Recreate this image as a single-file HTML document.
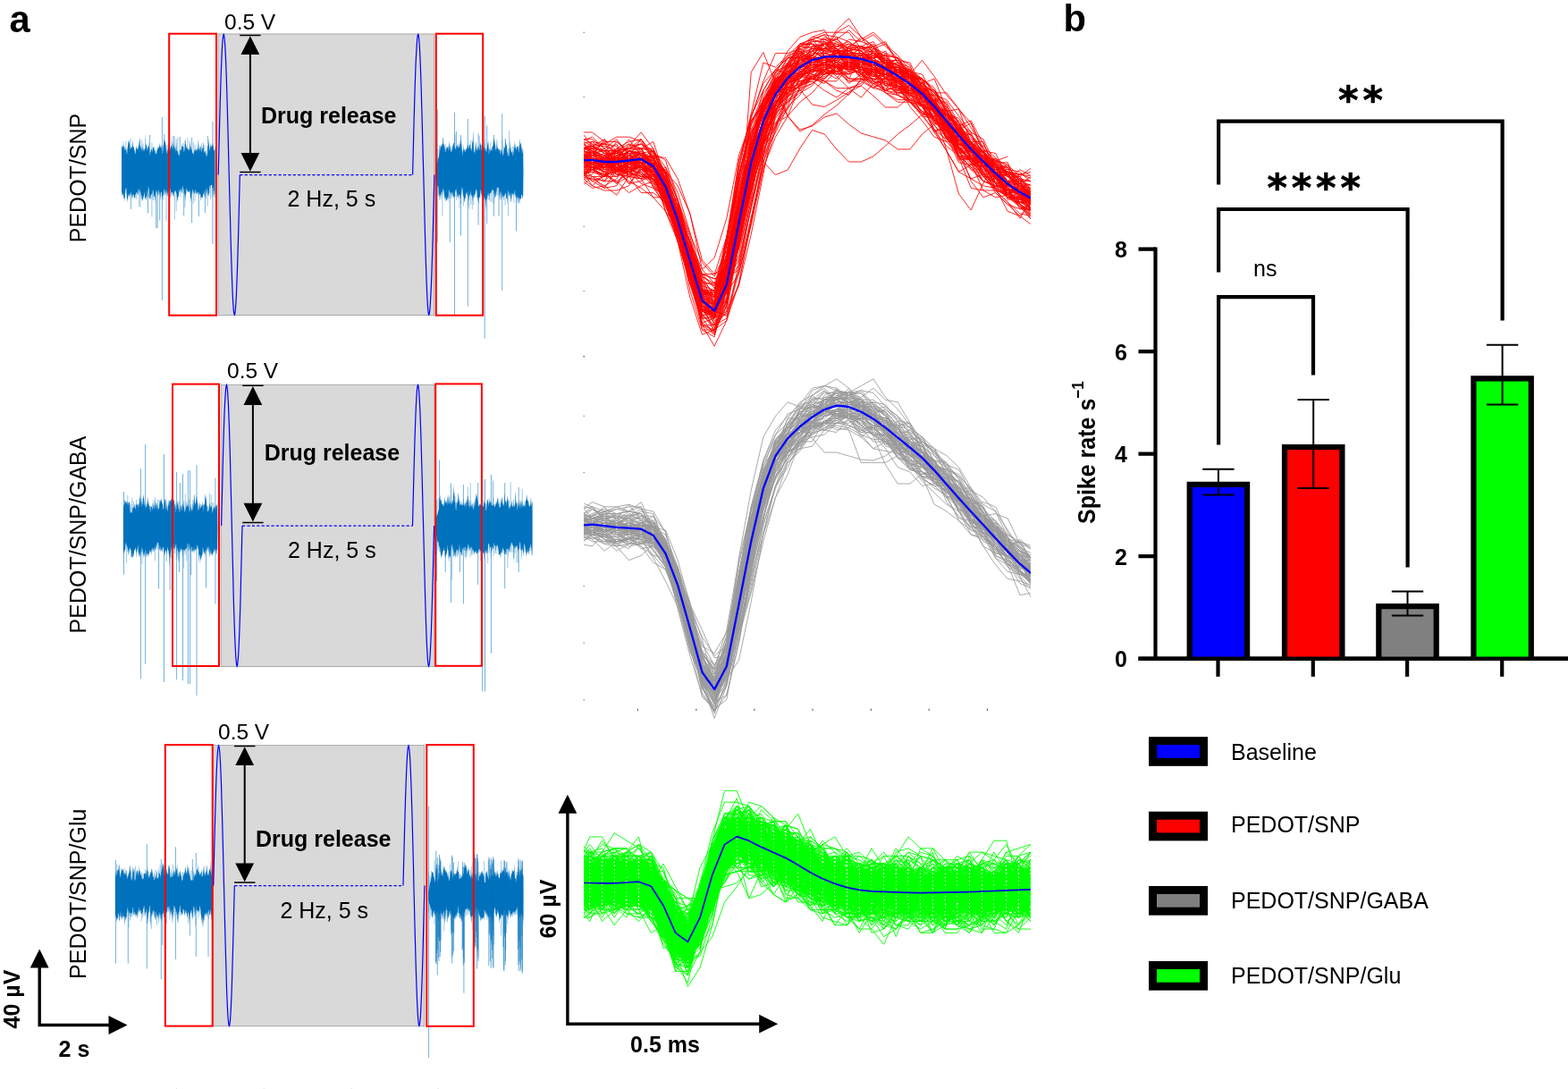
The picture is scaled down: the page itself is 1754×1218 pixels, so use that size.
<!DOCTYPE html>
<html lang="en"><head><meta charset="utf-8"><title>Figure</title>
<style>
html,body{margin:0;padding:0;background:#fff;}
body{width:1754px;height:1218px;overflow:hidden;}
svg{display:block;position:absolute;left:0;top:0;}
text{font-family:"Liberation Sans",sans-serif;font-size:25px;fill:#000;}
.b{font-weight:bold;}
.ast{font-family:"DejaVu Sans","Liberation Sans",sans-serif;font-weight:bold;}
</style></head>
<body>
<svg width="1754" height="1218" viewBox="0 0 1754 1218">
<rect x="0" y="0" width="1754" height="1218" fill="#fff"/>
<!-- row 1 -->
<rect x="244.1" y="38" width="241.8" height="314.5" fill="#d9d9d9" stroke="#999" stroke-width="0.8"/>
<path d="M136.5 163.7V219M137.9 158.6V218M139.6 167.1V215.7M140.8 157.9V215.8M143 167.1V223.1M144.4 165.1V215.3M146.1 154.5V215.1M147.3 166V214.4M148.8 168V215.1M150.5 167.5V220.4M152.4 166.4V223.1M153.7 165.5V215.6M155.6 163.1V231M156.9 167.9V231.9M158.5 156.9V223.3M160.1 160.5V214.3M161.9 166.1V216.7M163.7 165.9V224.4M164.8 165.1V220.2M166.6 159.9V220.9M168.1 166.7V214.9M169.9 159.6V242.5M171.5 168.3V224.1M173.1 167.7V214.9M174.9 168.3V216.3M176.5 164.1V218.6M178.1 165.4V217.8M179.8 168.3V219.4M181.3 164.8V215.3M182.6 163.2V223M184.2 167.7V215M186 161.9V247.5M187.6 162.1V214.2M189.1 163.4V214.3M190.6 165.5V221.3M192 168.2V215.9M193.8 168.3V214.8M195.3 152.4V245.5M197.2 155.5V236M198.9 153.4V217M200.2 168.4V215.8M202 167.3V220.6M203.5 166.3V215.2M205.2 159.9V216.4M206.9 157V231.8M208.1 163.4V216.6M210 153.9V214.9M211.5 167V215.2M213.1 168V225.7M214.4 168V215.6M216.3 159V228.1M218 161.8V224.6M219.5 167.4V216.3M221.1 167.3V214.5M222.9 166.7V218.1M224.2 163.3V218M225.7 160.1V217.7M227.2 167.1V214.8M228.8 162V220.1M230.6 168.4V222.2M232.2 163V230.4M233.8 164.9V215.4M235.5 160.5V222.7M237.4 164.9V220.6M238.7 168V217.5M240.1 166.4V221.2" stroke="#0072bd" stroke-width="0.7" stroke-opacity="0.55" fill="none"/>
<polygon points="136,191.3 136,167.1 136.4,164.1 136.8,163.6 137.2,162.6 137.6,164 138,165.6 138.4,163.7 138.8,163.5 139.2,163.3 139.6,168.3 140,167.3 140.4,165.2 140.8,168.9 141.2,164.9 141.6,170.4 142,173 142.4,169.3 142.8,164.3 143.2,161.7 143.6,158 144,156.4 144.4,161 144.8,156.7 145.2,161.1 145.6,166.8 146,167.2 146.4,163.2 146.8,165.8 147.2,163.9 147.6,165.6 148,165.1 148.4,155.8 148.8,161.9 149.2,164.4 149.6,164.2 150,165.7 150.4,169.5 150.8,168.9 151.2,172.3 151.6,171.7 152,164.6 152.4,166.7 152.8,162 153.2,168 153.6,166.2 154,166.7 154.4,167.2 154.8,161.1 155.2,165.7 155.6,159.8 156,156.4 156.4,153.9 156.8,161.7 157.2,164.1 157.6,166.1 158,163.7 158.4,170 158.8,166.5 159.2,167.6 159.6,161.5 160,168.9 160.4,164.4 160.8,170 161.2,165.7 161.6,169.3 162,167.6 162.4,165.8 162.8,149.8 163.2,161.4 163.6,162.1 164,162.7 164.4,167.1 164.8,168.5 165.2,165.3 165.6,162.6 166,165.4 166.4,162.2 166.8,164.3 167.2,172.1 167.6,174.7 168,171.9 168.4,169 168.8,171 169.2,166 169.6,168.3 170,166.1 170.4,171.2 170.8,165.5 171.2,163.9 171.6,164.9 172,166.7 172.4,163.1 172.8,169.4 173.2,167.4 173.6,171 174,172 174.4,172.8 174.8,170.2 175.2,172.7 175.6,168.8 176,166.6 176.4,165.6 176.8,167.2 177.2,164.4 177.6,166.8 178,162.5 178.4,164.6 178.8,159 179.2,165.5 179.6,164.5 180,162.3 180.4,168.2 180.8,159.9 181.2,170.4 181.6,172.8 182,172.1 182.4,168.3 182.8,162.9 183.2,159.3 183.6,155.7 184,156.7 184.4,159.3 184.8,157.6 185.2,161.1 185.6,165.3 186,167.3 186.4,169.3 186.8,172.4 187.2,170.8 187.6,167.5 188,167.1 188.4,165.1 188.8,159.6 189.2,160.7 189.6,162.2 190,165.2 190.4,168.5 190.8,165.1 191.2,163 191.6,164.2 192,152.2 192.4,166.9 192.8,160.1 193.2,167.7 193.6,163.7 194,158.5 194.4,161.8 194.8,164.4 195.2,164.6 195.6,166.7 196,167.3 196.4,162.5 196.8,172.3 197.2,158.8 197.6,167.7 198,169.6 198.4,170.1 198.8,167.3 199.2,173.2 199.6,172.4 200,172.8 200.4,175 200.8,172.9 201.2,173.3 201.6,168.1 202,167.1 202.4,168.4 202.8,167.6 203.2,160.6 203.6,163.1 204,163.7 204.4,164.3 204.8,164.2 205.2,163.9 205.6,169.9 206,169.4 206.4,168 206.8,164.3 207.2,154.6 207.6,161.3 208,161.3 208.4,165.1 208.8,165.5 209.2,166.1 209.6,165.3 210,168.6 210.4,164.7 210.8,167.2 211.2,169.6 211.6,167.7 212,166.5 212.4,156 212.8,160.7 213.2,167.2 213.6,162.8 214,166.9 214.4,168.7 214.8,168.2 215.2,171.3 215.6,170.7 216,172.2 216.4,173.5 216.8,171.1 217.2,167.1 217.6,168.4 218,170.1 218.4,167.5 218.8,166.6 219.2,165.9 219.6,169.8 220,167.9 220.4,168.9 220.8,165.9 221.2,166.6 221.6,160.5 222,154.7 222.4,166.2 222.8,168.3 223.2,163.1 223.6,169.9 224,163.4 224.4,164.4 224.8,167.8 225.2,170.6 225.6,169.3 226,163.9 226.4,166.3 226.8,166.9 227.2,158.1 227.6,163.3 228,167.9 228.4,171.3 228.8,169.1 229.2,172.3 229.6,168.2 230,170.3 230.4,173 230.8,175.1 231.2,175 231.6,170.9 232,175.2 232.4,168.1 232.8,163.6 233.2,161.7 233.6,154.5 234,161.2 234.4,167.1 234.8,168.8 235.2,161.9 235.6,166.5 236,161.9 236.4,163.4 236.8,164.4 237.2,160.7 237.6,164.2 238,159.4 238.4,163.4 238.8,164 239.2,168.9 239.6,167.5 240,168.8 240.4,162.5 240.5,191.3 240.4,214.4 240,220.6 239.6,216.5 239.2,213.4 238.8,210.1 238.4,210.2 238,208.8 237.6,216.6 237.2,207.1 236.8,207.1 236.4,207.1 236,207.1 235.6,207.6 235.2,211.3 234.8,207.1 234.4,209.8 234,220 233.6,215.5 233.2,219.5 232.8,219 232.4,212.1 232,213.9 231.6,219.8 231.2,210.6 230.8,210.2 230.4,217.9 230,212.5 229.6,222.5 229.2,212.2 228.8,213.2 228.4,219.2 228,214.3 227.6,218.5 227.2,216.4 226.8,221.2 226.4,221.3 226,220.8 225.6,219.7 225.2,220.9 224.8,225.2 224.4,220.6 224,215.8 223.6,217.4 223.2,217.2 222.8,214.8 222.4,214.8 222,215 221.6,218.4 221.2,214.7 220.8,214.9 220.4,217 220,215.3 219.6,219.4 219.2,211.2 218.8,215 218.4,211.2 218,218 217.6,214.7 217.2,217 216.8,212.6 216.4,215.4 216,217.5 215.6,212.7 215.2,211.4 214.8,214.6 214.4,216.4 214,220.2 213.6,223.5 213.2,221.8 212.8,217.6 212.4,213.6 212,214.1 211.6,214.7 211.2,211 210.8,215.7 210.4,214 210,214 209.6,213.5 209.2,212.4 208.8,211.3 208.4,210.6 208,219.2 207.6,216.1 207.2,225.6 206.8,219.5 206.4,217.5 206,212.8 205.6,211.3 205.2,212.5 204.8,207.9 204.4,209 204,217.4 203.6,214.5 203.2,209.8 202.8,211.2 202.4,214.7 202,210.7 201.6,213.4 201.2,215.1 200.8,213.4 200.4,210.7 200,217.5 199.6,220 199.2,220.6 198.8,225.7 198.4,223.6 198,220.1 197.6,217.3 197.2,215.9 196.8,214.1 196.4,213.8 196,212.4 195.6,213.5 195.2,216.1 194.8,214.2 194.4,221.4 194,218 193.6,219.2 193.2,216.7 192.8,215 192.4,215.2 192,214.1 191.6,215.7 191.2,221 190.8,213.8 190.4,209.8 190,211.8 189.6,208.4 189.2,207.2 188.8,212.7 188.4,216.8 188,214.2 187.6,217.5 187.2,220.3 186.8,217.9 186.4,213.3 186,215 185.6,218.3 185.2,211.9 184.8,212.5 184.4,220.4 184,212.5 183.6,210.9 183.2,218.5 182.8,218.2 182.4,216.4 182,221 181.6,217.5 181.2,225.3 180.8,214.4 180.4,214.9 180,214 179.6,217.2 179.2,225.1 178.8,214.6 178.4,215.2 178,218.2 177.6,213.9 177.2,211.5 176.8,219.6 176.4,217.5 176,211.7 175.6,215.9 175.2,212.4 174.8,213.5 174.4,214.5 174,215.1 173.6,228.3 173.2,220.4 172.8,219 172.4,220.9 172,216.7 171.6,212.9 171.2,211.7 170.8,224.4 170.4,211.4 170,217.7 169.6,216 169.2,217.9 168.8,218.3 168.4,222.1 168,223.4 167.6,222.4 167.2,220.7 166.8,211 166.4,210.7 166,209.1 165.6,208.6 165.2,215.1 164.8,213.1 164.4,218 164,223 163.6,221.6 163.2,218.5 162.8,221.9 162.4,221.2 162,222.5 161.6,214.4 161.2,216.5 160.8,223.3 160.4,218 160,221.9 159.6,225.4 159.2,223.1 158.8,218.6 158.4,217.8 158,223.1 157.6,218.9 157.2,213.4 156.8,217 156.4,210 156,217.1 155.6,212.9 155.2,212 154.8,211.1 154.4,218.1 154,217.7 153.6,217.6 153.2,215.1 152.8,215.1 152.4,214.7 152,216.7 151.6,217.2 151.2,220.4 150.8,220.7 150.4,222.2 150,221.4 149.6,217 149.2,218.5 148.8,216.5 148.4,222.4 148,218.2 147.6,223.7 147.2,217 146.8,217.3 146.4,213 146,215.3 145.6,218.8 145.2,217.6 144.8,220.8 144.4,219 144,215.9 143.6,220.1 143.2,216.4 142.8,227.2 142.4,221.7 142,222.5 141.6,218.1 141.2,209.6 140.8,211.2 140.4,210.9 140,213.7 139.6,225.8 139.2,221.8 138.8,222.1 138.4,221.6 138,217.9 137.6,216.8 137.2,217.5 136.8,214.2 136.4,216.4 136,218.1" fill="#0072bd"/>
<path d="M181.4 130.8V336M237.9 136V273M167.6 151V192M183.8 150V192M193.9 152V192M201.3 153V192M214.6 154V249M232.3 152V192M174.7 192V255.4M176.2 192V255M165.5 192V238.4M146.3 192V234M178.7 192V246.5M205.7 192V241.4M222.4 192V242M229.4 192V238" stroke="#0072bd" stroke-width="0.9" stroke-opacity="0.62" fill="none"/>
<path d="M488.2 162V250.4M489.8 166.6V218.9M491.6 162.4V223.7M493.2 162.3V223M494.9 163V241.3M496.4 161.4V217.2M498.1 161.2V220.2M499.3 167.2V218.8M501.2 164.7V221.4M502.9 160.8V221.8M504 167.5V222.2M505.7 163.9V221.9M507.6 159.9V220.2M509 150.9V220M510.6 164.5V223.8M512.1 165.7V217.4M514 157.5V232.6M515.6 165.5V228M517 166.6V218.3M518.4 167.1V230.3M520.3 167.6V219.8M521.8 167.7V217.4M523.7 165.2V230.2M524.9 165.9V233.8M526.7 157.2V228.9M528.3 162.5V234.2M529.7 160.1V228.9M531.2 166V221M533.3 165.3V220.8M534.4 167V219.5M536.3 151.9V219M538 167.7V221.6M539.7 166V218.4M540.9 164.7V222.3M543 166.1V222.7M544.1 165.7V218.1M546.1 165.6V223.7M547.5 165.4V224.1M548.9 159.4V225.9M550.6 164.4V226.3M552.5 159V228.1M554.1 162.6V218.1M555.8 167.3V218.4M557 167.8V218.6M559 166.3V223.4M560.5 167.3V223.6M562 156.5V217.5M563.6 163.8V223.9M565.1 155.1V229.4M566.6 165.5V218.2M568.5 166.2V241.3M569.6 146.1V218.9M571.3 167.5V226.1M573.1 163.9V219.9M574.9 163.4V227.1M576.2 160.8V217.5M578.2 167.5V222.2M579.3 166.2V221.1M580.8 165.9V218.6M582.9 160V221.5M584.4 165.3V217.8" stroke="#0072bd" stroke-width="0.7" stroke-opacity="0.55" fill="none"/>
<polygon points="488,192.3 488,187.7 488.4,184.1 488.8,183.8 489.2,181.1 489.6,180 490,176.5 490.4,177.3 490.8,176 491.2,173.2 491.6,169.6 492,162.7 492.4,168.9 492.8,163.2 493.2,162.4 493.6,163.7 494,164.9 494.4,161.5 494.8,160.6 495.2,162.1 495.6,154.3 496,153.5 496.4,164.5 496.8,160.4 497.2,167.7 497.6,161.6 498,170.1 498.4,170.8 498.8,166.9 499.2,163 499.6,168.1 500,164.7 500.4,165.4 500.8,164.3 501.2,162.6 501.6,167.2 502,169.3 502.4,164.1 502.8,156.4 503.2,167.9 503.6,164.1 504,161.9 504.4,169.4 504.8,170.4 505.2,168.1 505.6,169.7 506,166.5 506.4,163.6 506.8,161.4 507.2,159.4 507.6,160.5 508,162.6 508.4,166.1 508.8,164.1 509.2,168.1 509.6,165.8 510,165.6 510.4,167.5 510.8,162.4 511.2,163 511.6,164.1 512,161 512.4,161.8 512.8,166.4 513.2,164.1 513.6,164.7 514,164.5 514.4,161 514.8,161.6 515.2,157.3 515.6,154.9 516,163.6 516.4,158.5 516.8,170.6 517.2,168.1 517.6,174.8 518,169.5 518.4,168 518.8,160.5 519.2,169.6 519.6,167.3 520,166 520.4,170.8 520.8,170 521.2,167.7 521.6,164.8 522,168.4 522.4,161.3 522.8,165.5 523.2,166.2 523.6,159.1 524,167.1 524.4,165.2 524.8,162.1 525.2,162.1 525.6,160.7 526,164.6 526.4,165.9 526.8,166.5 527.2,169.1 527.6,167.5 528,163.1 528.4,157 528.8,159.2 529.2,144.4 529.6,158.2 530,168.2 530.4,169.3 530.8,170.2 531.2,172 531.6,168.6 532,160.2 532.4,158.8 532.8,164.7 533.2,167.2 533.6,168.8 534,168.6 534.4,165.8 534.8,162.3 535.2,164.3 535.6,166.5 536,167.6 536.4,167.6 536.8,161.4 537.2,158.8 537.6,161.9 538,162 538.4,161.6 538.8,168.9 539.2,164.8 539.6,161.2 540,166.2 540.4,158.5 540.8,161.1 541.2,164.7 541.6,167.4 542,153.8 542.4,168.1 542.8,167.6 543.2,166.8 543.6,169.1 544,170 544.4,170.5 544.8,167.7 545.2,162.5 545.6,157.8 546,163.4 546.4,155.7 546.8,171.7 547.2,172.5 547.6,166.2 548,168.5 548.4,169.4 548.8,165.9 549.2,167.2 549.6,167.3 550,169.5 550.4,167.7 550.8,164.1 551.2,163.4 551.6,162.1 552,159.1 552.4,154.3 552.8,156.7 553.2,161.2 553.6,154.9 554,164.7 554.4,166.6 554.8,168.5 555.2,166.7 555.6,160.5 556,154.1 556.4,165.9 556.8,165.1 557.2,166.9 557.6,165.6 558,169.8 558.4,166.3 558.8,168.3 559.2,166.8 559.6,172.4 560,171.6 560.4,170.9 560.8,167.5 561.2,169.5 561.6,168.1 562,171.8 562.4,173.6 562.8,174.8 563.2,166.5 563.6,173.5 564,165.2 564.4,165.8 564.8,165.1 565.2,163 565.6,153.2 566,158.8 566.4,162.9 566.8,161.3 567.2,168 567.6,171.3 568,171.2 568.4,174.8 568.8,174.8 569.2,174.8 569.6,172.2 570,166.1 570.4,164.7 570.8,156.1 571.2,165.4 571.6,169.8 572,171.3 572.4,170 572.8,169.9 573.2,167.8 573.6,173.4 574,174.8 574.4,170.1 574.8,168.8 575.2,156.3 575.6,166.5 576,163.9 576.4,164.9 576.8,164.6 577.2,168.4 577.6,166.4 578,162.3 578.4,164.4 578.8,164.3 579.2,163.4 579.6,164.4 580,170.6 580.4,170.3 580.8,162.3 581.2,162.8 581.6,154.8 582,160.1 582.4,161.6 582.8,161.5 583.2,167 583.6,164.4 584,171.6 584.4,171.5 584.8,168 585.2,167.4 585.5,192.3 585.2,217.4 584.8,223.6 584.4,219.7 584,217.5 583.6,217.4 583.2,219.2 582.8,222.4 582.4,223.2 582,221.3 581.6,221.9 581.2,227.6 580.8,227.4 580.4,222.3 580,221 579.6,218.3 579.2,228.9 578.8,225.8 578.4,219.4 578,222.5 577.6,216.9 577.2,220.2 576.8,220.4 576.4,218.8 576,211.8 575.6,214.2 575.2,217.7 574.8,216.3 574.4,219.1 574,217.5 573.6,216.4 573.2,217.3 572.8,215 572.4,218.5 572,226.5 571.6,222 571.2,221.9 570.8,215.9 570.4,221.1 570,213.4 569.6,220.2 569.2,217.1 568.8,211.8 568.4,216.9 568,212.6 567.6,229.7 567.2,220.9 566.8,222 566.4,223.1 566,217 565.6,216 565.2,215.8 564.8,217.9 564.4,219.7 564,218 563.6,218.1 563.2,221.6 562.8,220.6 562.4,219.8 562,220.4 561.6,218.3 561.2,215.8 560.8,212.9 560.4,218.8 560,223 559.6,214.6 559.2,216.6 558.8,222 558.4,214.8 558,209.8 557.6,209.8 557.2,209.8 556.8,209.8 556.4,209.8 556,209.8 555.6,212.9 555.2,215 554.8,217 554.4,221.2 554,220.1 553.6,222.7 553.2,212.9 552.8,218.7 552.4,216.4 552,212.9 551.6,212.8 551.2,212.4 550.8,213.1 550.4,209.8 550,217.9 549.6,212.9 549.2,215.6 548.8,215.7 548.4,215.9 548,215.9 547.6,217.7 547.2,220.3 546.8,218.5 546.4,215 546,220.4 545.6,216.4 545.2,219.3 544.8,223.6 544.4,221.7 544,223.1 543.6,235.5 543.2,225.1 542.8,219.6 542.4,225.1 542,219.9 541.6,220.2 541.2,224.8 540.8,219.6 540.4,216.4 540,216.6 539.6,219.4 539.2,214.6 538.8,217.6 538.4,218.6 538,212.5 537.6,212.6 537.2,215.8 536.8,220.4 536.4,220.9 536,221 535.6,224 535.2,228.3 534.8,224.7 534.4,222 534,220.3 533.6,212.5 533.2,213.7 532.8,212.8 532.4,210.9 532,217.1 531.6,217.4 531.2,213.9 530.8,220.5 530.4,218.8 530,216.9 529.6,219.4 529.2,222 528.8,225.1 528.4,220.4 528,218.8 527.6,218.1 527.2,220.4 526.8,213 526.4,215.1 526,218.6 525.6,217 525.2,219.2 524.8,219.9 524.4,225.5 524,219.2 523.6,216.1 523.2,212.2 522.8,217.3 522.4,220.1 522,214.2 521.6,216.3 521.2,216 520.8,221.3 520.4,222.2 520,221.2 519.6,226 519.2,225.8 518.8,219 518.4,220.5 518,216.6 517.6,213.1 517.2,209.8 516.8,209.8 516.4,212.2 516,217.1 515.6,217.2 515.2,221.4 514.8,222 514.4,218.8 514,218.3 513.6,216.4 513.2,218.3 512.8,222.7 512.4,219.4 512,218.6 511.6,221.1 511.2,215.7 510.8,214.1 510.4,209.9 510,214.7 509.6,213.2 509.2,211.2 508.8,219.3 508.4,220 508,221.7 507.6,220.1 507.2,219.6 506.8,219.4 506.4,215.7 506,214.8 505.6,216.2 505.2,218.9 504.8,217.5 504.4,214.5 504,216.2 503.6,213.9 503.2,217.1 502.8,211.7 502.4,216 502,210.7 501.6,226.9 501.2,219 500.8,224.5 500.4,220.1 500,222.8 499.6,225 499.2,224.1 498.8,219.3 498.4,226.3 498,218.7 497.6,223.1 497.2,222.5 496.8,213.7 496.4,212.6 496,214.7 495.6,210.4 495.2,211.4 494.8,220.2 494.4,214.8 494,214.4 493.6,215.4 493.2,217.8 492.8,217.6 492.4,220.4 492,220.2 491.6,219.8 491.2,215.5 490.8,218.7 490.4,208.8 490,208.6 489.6,208.4 489.2,207.9 488.8,205.8 488.4,203.7 488,201.8" fill="#0072bd"/>
<path d="M489.3 122V271M508.5 125.7V352.2M523.3 133V342.6M542.2 129.4V378.8M561.7 127.1V324.9M544.7 140.4V250.2M510.4 147V192M515.5 151V263.5M535.1 149.3V251.7M552.4 151V242M503.3 192V271M577.5 192V258.4M558 192V242" stroke="#0072bd" stroke-width="0.9" stroke-opacity="0.62" fill="none"/>
<rect x="189.2" y="37.7" width="52.8" height="315" fill="none" stroke="#ff0000" stroke-width="2"/>
<rect x="487.8" y="37.7" width="52.4" height="315" fill="none" stroke="#ff0000" stroke-width="2"/>
<polyline points="244.2,195.6 244.7,175.1 245.2,154.9 245.7,135.4 246.2,117 246.7,99.8 247.2,84.4 247.7,70.8 248.2,59.4 248.7,50.3 249.2,43.7 249.7,39.6 250.2,38.3 250.7,39.6 251.2,43.7 251.7,50.3 252.2,59.4 252.7,70.8 253.2,84.4 253.7,99.8 254.2,117 254.7,135.4 255.2,154.9 255.7,175.1 256.2,195.6 256.8,216 257.3,236.1 257.8,255.5 258.3,273.9 258.8,290.9 259.3,306.3 259.8,319.8 260.3,331.2 260.8,340.3 261.3,346.9 261.8,350.9 262.3,352.2 262.8,350.9 263.3,346.9 263.8,340.3 264.3,331.2 264.8,319.8 265.3,306.3 265.8,290.9 266.3,273.9 266.8,255.5 267.3,236.1 267.8,216 268.3,195.6" fill="none" stroke="#0000ff" stroke-width="1.2"/>
<polyline points="461.6,195.6 462.1,175.1 462.6,154.9 463.1,135.4 463.6,117 464.1,99.8 464.6,84.4 465.1,70.8 465.7,59.4 466.2,50.3 466.7,43.7 467.2,39.6 467.7,38.3 468.2,39.6 468.7,43.7 469.2,50.3 469.7,59.4 470.2,70.8 470.7,84.4 471.2,99.8 471.7,117 472.2,135.4 472.7,154.9 473.2,175.1 473.8,195.6 474.3,216 474.8,236.1 475.3,255.5 475.8,273.9 476.3,290.9 476.8,306.3 477.3,319.8 477.8,331.2 478.3,340.3 478.8,346.9 479.3,350.9 479.8,352.2 480.3,350.9 480.8,346.9 481.3,340.3 481.8,331.2 482.4,319.8 482.9,306.3 483.4,290.9 483.9,273.9 484.4,255.5 484.9,236.1 485.4,216 485.9,195.6" fill="none" stroke="#0000ff" stroke-width="1.2"/>
<line x1="268.3" y1="195.6" x2="461.6" y2="195.6" stroke="#0000ff" stroke-width="1.1" stroke-dasharray="3.2 2.2"/>
<path d="M268.2 39.5H291.6M268.2 192.5H291.6" stroke="#000" stroke-width="1.5" fill="none"/>
<path d="M279.9 49.5V182.5" stroke="#000" stroke-width="2" fill="none"/>
<path d="M279.9 40.3L269.5 61.1L290.3 61.1ZM279.9 191.7L269.5 170.9L290.3 170.9Z" fill="#000"/>
<text x="251" y="32.6" style="font-size:24.5px">0.5 V</text>
<text class="b" x="292" y="137.5">Drug release</text>
<text x="321.5" y="231">2 Hz, 5 s</text>
<text transform="translate(96 199) rotate(-90)" text-anchor="middle">PEDOT/SNP</text>
<!-- row 2 -->
<rect x="247.1" y="430.3" width="238.8" height="315.2" fill="#d9d9d9" stroke="#999" stroke-width="0.8"/>
<path d="M138.2 566V616.5M140 564.1V615.1M141.6 566.1V629.8M142.8 553.8V617.4M144.7 561.3V615.9M146.5 564.3V623.1M147.8 556.9V623.2M149.3 560.7V616.8M150.8 563.7V613.6M152.5 559V622.6M154.2 563.3V618.3M155.8 557.8V621.9M157.3 563.4V621.4M159 556.7V630.9M160.5 564.7V614.9M162.3 565.6V621.3M163.9 563.7V623.3M165.3 556.7V618.6M167.1 566V619.2M168.6 566V615.4M170.6 562.7V613.6M171.7 559.5V616.6M173.3 556.1V627.2M175.1 565.4V614.3M176.9 558.2V615M178.6 559.5V614.4M179.9 561.1V616.1M181.6 565.7V613.7M183.3 565.8V614.4M184.5 558.7V614.6M186.5 564.8V628.1M187.9 566V613.6M189.5 562.1V615.1M191.1 565.4V624.3M192.6 559.1V619.7M194.3 564.9V618.9M195.7 563.7V619.4M197.4 563.1V626.1M199 565V614.2M200.4 560.7V627.4M202.2 565.8V615M204 566V615.1M205.7 560.1V635.5M207.2 552.3V619.7M208.7 560.8V627.6M210.1 564.6V617.1M211.7 558.6V615.2M213.7 563.9V614M215.2 564.1V617.5M216.7 559.2V617.8M218.2 564.7V615.8M219.7 564.4V614.7M221.7 563V614.6M223 565.4V619.8M224.7 563.9V616.8M226.4 565.6V620.3M227.7 563.4V614.5M229.4 564V618.8M230.9 555.4V615.4M232.4 566.4V615.3M234.3 551.6V623.3M236.2 553.2V619M237.2 561.4V621.5M238.8 562.3V615.9M240.8 564.7V616.1M242.5 564.6V619" stroke="#0072bd" stroke-width="0.7" stroke-opacity="0.55" fill="none"/>
<polygon points="138,590 138,571.6 138.4,565 138.8,564 139.2,564.2 139.6,559.1 140,559.9 140.4,559.9 140.8,562.8 141.2,561.7 141.6,561.5 142,563.8 142.4,559.5 142.8,564.9 143.2,560.6 143.6,566.5 144,562.6 144.4,561.3 144.8,562.7 145.2,563.2 145.6,572.2 146,573.5 146.4,573.5 146.8,573.5 147.2,572.9 147.6,573.5 148,571 148.4,566.9 148.8,568 149.2,566.9 149.6,569.3 150,565 150.4,568.5 150.8,563.3 151.2,568.6 151.6,569.7 152,564.1 152.4,563.5 152.8,565.7 153.2,565.1 153.6,564.5 154,563.9 154.4,569.3 154.8,564.2 155.2,562.8 155.6,564.5 156,567.8 156.4,552.5 156.8,558 157.2,557.2 157.6,562.2 158,560.4 158.4,561 158.8,567.6 159.2,563.7 159.6,563.7 160,556.6 160.4,552.6 160.8,557.6 161.2,557.8 161.6,566.4 162,561.2 162.4,566 162.8,569.1 163.2,565.5 163.6,568.2 164,567 164.4,564.6 164.8,562.4 165.2,560.6 165.6,559.3 166,562.9 166.4,563 166.8,566.3 167.2,564.9 167.6,568.8 168,571.5 168.4,573.3 168.8,564.6 169.2,567.1 169.6,566.4 170,567.3 170.4,569.3 170.8,571.2 171.2,564.2 171.6,564.7 172,569.8 172.4,568.5 172.8,563.1 173.2,568.7 173.6,559.2 174,562.8 174.4,563.3 174.8,569.3 175.2,560 175.6,564.4 176,568.9 176.4,563.6 176.8,571.8 177.2,568.8 177.6,568.1 178,569.8 178.4,559.4 178.8,565.2 179.2,560.6 179.6,561.1 180,557.5 180.4,561.5 180.8,556.6 181.2,563.6 181.6,564 182,560.7 182.4,569.2 182.8,569.4 183.2,568.8 183.6,564.5 184,557.6 184.4,559.6 184.8,561.6 185.2,556.5 185.6,567.3 186,570.5 186.4,569 186.8,556.6 187.2,571.2 187.6,571.6 188,566.3 188.4,558 188.8,565.6 189.2,564.7 189.6,559.4 190,559.8 190.4,559.9 190.8,560.4 191.2,557.7 191.6,557.4 192,562.4 192.4,565.4 192.8,565.3 193.2,568 193.6,567 194,558.7 194.4,559.1 194.8,560.1 195.2,564.3 195.6,567.1 196,569.3 196.4,560.6 196.8,573.5 197.2,569.8 197.6,569.4 198,565.4 198.4,563.5 198.8,559.7 199.2,562.6 199.6,569.7 200,567.4 200.4,570.3 200.8,573.5 201.2,572.9 201.6,568.3 202,570.4 202.4,565 202.8,565.9 203.2,564.4 203.6,571.6 204,569.4 204.4,562.9 204.8,563.4 205.2,564.7 205.6,567.2 206,567.2 206.4,570.7 206.8,573.5 207.2,571.3 207.6,569.7 208,561.4 208.4,568.5 208.8,566.1 209.2,566.3 209.6,566.7 210,563 210.4,567.7 210.8,564.2 211.2,564.9 211.6,570.4 212,573.5 212.4,572.3 212.8,570.8 213.2,568.1 213.6,566.2 214,569.8 214.4,570.3 214.8,572 215.2,570.8 215.6,566 216,554.8 216.4,570 216.8,563.5 217.2,554 217.6,552.4 218,566.2 218.4,561.5 218.8,563.4 219.2,560.4 219.6,557.1 220,554 220.4,559 220.8,561.2 221.2,567.9 221.6,569.5 222,572.6 222.4,561.4 222.8,570.8 223.2,568.9 223.6,559.9 224,568.3 224.4,568.4 224.8,567.6 225.2,565.6 225.6,564.2 226,567.4 226.4,560.8 226.8,564.6 227.2,572.8 227.6,565.9 228,566.1 228.4,562.9 228.8,565.5 229.2,557.8 229.6,551.6 230,557.1 230.4,558 230.8,561 231.2,565.8 231.6,565.7 232,573.5 232.4,571.5 232.8,571.4 233.2,571.5 233.6,569.8 234,564.4 234.4,561.5 234.8,566.9 235.2,564.5 235.6,568 236,567.4 236.4,565.2 236.8,566.4 237.2,570.6 237.6,573.5 238,573.5 238.4,567.6 238.8,570.6 239.2,568.1 239.6,565.7 240,568.3 240.4,570.8 240.8,567.2 241.2,567.1 241.6,566.4 242,565.6 242.4,564 242.8,569.2 243.2,558.9 243.5,590 243.2,616.1 242.8,614.2 242.4,614.7 242,620.5 241.6,618.5 241.2,614.2 240.8,614.7 240.4,613.9 240,617.2 239.6,613.1 239.2,617.3 238.8,616.9 238.4,619.9 238,618.6 237.6,621.7 237.2,619.1 236.8,620.7 236.4,614.8 236,621.4 235.6,619.1 235.2,616.2 234.8,612.6 234.4,622.8 234,616.9 233.6,618.3 233.2,611.8 232.8,611.2 232.4,613 232,613.6 231.6,613.2 231.2,617.3 230.8,616.1 230.4,614.3 230,618.3 229.6,614.1 229.2,622.6 228.8,620.2 228.4,617.8 228,617.8 227.6,617.4 227.2,612.6 226.8,611.7 226.4,620.2 226,620.8 225.6,622.6 225.2,623.1 224.8,626.3 224.4,624.1 224,630.4 223.6,620 223.2,620.7 222.8,621.8 222.4,630.8 222,611.5 221.6,614.4 221.2,611.1 220.8,610.1 220.4,609.3 220,612.4 219.6,613.4 219.2,615 218.8,615.6 218.4,613.8 218,614.7 217.6,614 217.2,619.8 216.8,611 216.4,615.8 216,616.1 215.6,615.2 215.2,616.6 214.8,617.3 214.4,612 214,610.9 213.6,611.2 213.2,618.3 212.8,609.3 212.4,613.4 212,615.9 211.6,612.7 211.2,606.5 210.8,613.4 210.4,608 210,607.9 209.6,608.9 209.2,613.6 208.8,613.1 208.4,614.8 208,612.6 207.6,615.5 207.2,613.4 206.8,615.4 206.4,615.5 206,617.6 205.6,613.9 205.2,615.3 204.8,615.1 204.4,623.7 204,616.9 203.6,614.9 203.2,613.6 202.8,613.6 202.4,615.5 202,619.2 201.6,617.7 201.2,612.2 200.8,617.2 200.4,617 200,616.9 199.6,615.7 199.2,629.9 198.8,620.9 198.4,612.4 198,613.9 197.6,617.2 197.2,607.7 196.8,608.3 196.4,611.6 196,611.8 195.6,613.9 195.2,613.8 194.8,614.3 194.4,611.8 194,608.1 193.6,606.5 193.2,608.8 192.8,612 192.4,613.7 192,611.2 191.6,613.4 191.2,616.7 190.8,618.3 190.4,622.7 190,621.7 189.6,635.8 189.2,620.5 188.8,619.6 188.4,614.8 188,617 187.6,611.3 187.2,613.7 186.8,618.9 186.4,620 186,615 185.6,615.3 185.2,617.4 184.8,616.2 184.4,621.6 184,620.4 183.6,618.6 183.2,612.7 182.8,611.7 182.4,611.7 182,615.9 181.6,618.9 181.2,612.6 180.8,615.4 180.4,614.8 180,613.4 179.6,610.6 179.2,617.9 178.8,614.6 178.4,613.1 178,610.1 177.6,608.8 177.2,606.7 176.8,606.6 176.4,607.5 176,606.5 175.6,608.8 175.2,612.6 174.8,614.6 174.4,608.7 174,611.5 173.6,615.3 173.2,614.2 172.8,617.9 172.4,611.7 172,613 171.6,616.1 171.2,612.9 170.8,618.1 170.4,612.2 170,614 169.6,614.7 169.2,621.4 168.8,616.1 168.4,617.7 168,617.8 167.6,616.2 167.2,614.4 166.8,622.4 166.4,616.9 166,623.9 165.6,618.2 165.2,621.1 164.8,619 164.4,619.2 164,622.1 163.6,620.7 163.2,615.7 162.8,614.8 162.4,615.6 162,619.3 161.6,617.7 161.2,623.4 160.8,618.4 160.4,624.5 160,618.2 159.6,615.8 159.2,612.4 158.8,620.1 158.4,614 158,610.9 157.6,622.7 157.2,617.2 156.8,617 156.4,621.1 156,624.2 155.6,618.9 155.2,620.3 154.8,616.8 154.4,609.3 154,611.5 153.6,614.7 153.2,615.2 152.8,619.4 152.4,617.3 152,617.1 151.6,612.2 151.2,613.2 150.8,614.9 150.4,615.4 150,616.9 149.6,623.2 149.2,618.7 148.8,623.8 148.4,623.8 148,617.8 147.6,624 147.2,621.9 146.8,614.7 146.4,615.5 146,615.1 145.6,612.3 145.2,613.5 144.8,621 144.4,615 144,614.2 143.6,621.9 143.2,614.1 142.8,611.1 142.4,611.4 142,615.8 141.6,607.6 141.2,609.9 140.8,606.6 140.4,609.4 140,613.9 139.6,618 139.2,613.7 138.8,618.8 138.4,619.7 138,616.6" fill="#0072bd"/>
<path d="M162.6 497.1V742.6M183.5 507.9V763M157.4 524.1V759.4M220 520.1V778M197.6 527.8V760M204.5 530V761M210.4 526V765M212.5 526V765M240.9 534.5V675.3M201.3 540V590M138.5 550V642.8M177.6 590V658.3M190.2 590V659.8M230.5 590V657.6M200.5 590V640M213.8 590V643" stroke="#0072bd" stroke-width="0.9" stroke-opacity="0.62" fill="none"/>
<path d="M488.3 559.5V619.9M490 557V614.7M491.6 557.4V616.7M492.9 559.6V617M494.3 564.2V618.6M496.2 562.4V614.1M497.5 563.4V621.6M499.3 559.4V614.9M500.9 556.7V615.6M502.3 554.2V627.6M504 560.6V616.7M505.8 559V648.3M507.3 560.9V615.5M509.2 555.1V614.5M510.7 561.7V621.8M512 562.1V623M513.5 562.1V616.4M515.1 559.5V613.5M517.1 564.3V621.2M518.4 558.3V614.1M520.1 562V623.2M521.7 559.3V623M523.3 544.7V615.4M525.1 558.7V616.1M526.2 540V623.1M528.2 564.3V621M529.8 562.8V618.6M531.4 558.3V613.9M532.8 561.8V616.5M534.6 560.4V614.9M536.4 564.1V617.9M537.6 564.3V627.3M539.1 561.5V614.4M541.1 559.8V614.7M542.4 564.4V617.1M543.9 562.9V613.8M545.7 562.6V629.8M547.4 562.1V618.3M549.2 564.1V622.7M550.8 562.3V616M552.1 556.5V622M553.8 564V618.7M555 564.1V619.6M557.1 563.4V615.5M558.4 561.6V615.6M560.1 558.4V623.4M561.8 557.4V617.9M563.3 563V618.5M565.1 559.6V619.8M566.3 561.1V620.2M567.9 559.1V635.3M569.7 560V617.6M571.2 539.3V617.2M572.9 561.3V618M574.5 558.9V624.7M576.1 564V618.3M577.8 561V629.1M579.5 564.3V629.6M580.8 563.2V613.7M582.6 559.8V615.7M584.2 546.7V615.5M585.7 564.5V621.6M587.1 560.6V617.3M589.1 553.6V619.3M590.8 562.1V614.1M592.3 564.5V616.5M593.8 557V616.4M595.3 562V620.9" stroke="#0072bd" stroke-width="0.7" stroke-opacity="0.55" fill="none"/>
<polygon points="487.8,589 487.8,580.8 488.2,577.6 488.6,577.3 489,574.6 489.4,576.1 489.8,574.4 490.2,570.8 490.6,572.1 491,568.6 491.4,560.8 491.8,558.1 492.2,553 492.6,558.9 493,561.4 493.4,558.8 493.8,558.5 494.2,564.7 494.6,563.5 495,562.3 495.4,565 495.8,565.5 496.2,563.1 496.6,566 497,567.1 497.4,554.8 497.8,559.3 498.2,562.9 498.6,560.5 499,560.7 499.4,561.9 499.8,563.3 500.2,565.3 500.6,552.5 501,564 501.4,562.6 501.8,555.3 502.2,564.3 502.6,561.1 503,551.9 503.4,564.6 503.8,561.5 504.2,561 504.6,565.8 505,563.6 505.4,563 505.8,562.8 506.2,558.8 506.6,563.1 507,555.4 507.4,541.7 507.8,553.5 508.2,549.6 508.6,560.2 509,561.4 509.4,563.1 509.8,570 510.2,571.5 510.6,566.4 511,558.1 511.4,561.8 511.8,563.9 512.2,560.2 512.6,550.4 513,554.2 513.4,558.2 513.8,560.7 514.2,561.4 514.6,565.6 515,563.5 515.4,565.1 515.8,563.8 516.2,565.5 516.6,564 517,560.4 517.4,565.1 517.8,565.6 518.2,564.8 518.6,561.7 519,565.3 519.4,566.2 519.8,563.2 520.2,564.1 520.6,561.8 521,568.9 521.4,564.2 521.8,561 522.2,562 522.6,559.9 523,555.8 523.4,554.1 523.8,558.8 524.2,561.8 524.6,566.8 525,565.4 525.4,569.9 525.8,559.6 526.2,566.2 526.6,566.5 527,557.8 527.4,568.2 527.8,564.1 528.2,568 528.6,561.6 529,566.5 529.4,568.4 529.8,570.9 530.2,566.9 530.6,559.5 531,566.2 531.4,564.4 531.8,560.9 532.2,550.2 532.6,560.6 533,551 533.4,557 533.8,553.3 534.2,562.1 534.6,559.4 535,565.2 535.4,566.9 535.8,565.6 536.2,565.6 536.6,562.8 537,565.8 537.4,562.6 537.8,565.7 538.2,562.7 538.6,564 539,564.8 539.4,568.1 539.8,563.7 540.2,565.5 540.6,567.3 541,566.1 541.4,559.7 541.8,562.3 542.2,563.2 542.6,565.6 543,561.2 543.4,570.8 543.8,570.9 544.2,569.4 544.6,563.3 545,558.1 545.4,560.5 545.8,558.2 546.2,563.9 546.6,566.4 547,555.7 547.4,559.6 547.8,563 548.2,561.4 548.6,560.1 549,564.5 549.4,565.3 549.8,559.1 550.2,566.1 550.6,565.4 551,565.3 551.4,565.5 551.8,565 552.2,563.4 552.6,564.8 553,566.6 553.4,566.3 553.8,567.6 554.2,565.7 554.6,563.6 555,560.2 555.4,564 555.8,561.7 556.2,555.9 556.6,561.2 557,555.1 557.4,561.7 557.8,565.4 558.2,562.5 558.6,568.4 559,567.9 559.4,566.9 559.8,566.8 560.2,563.4 560.6,559.2 561,562.7 561.4,560.2 561.8,554.6 562.2,562.1 562.6,563.6 563,565.2 563.4,565.2 563.8,566.3 564.2,558.1 564.6,550.2 565,559.4 565.4,560.7 565.8,562.9 566.2,559 566.6,566.5 567,561.7 567.4,558.1 567.8,555.1 568.2,557.9 568.6,561.5 569,567.5 569.4,566.8 569.8,571.5 570.2,565.5 570.6,567 571,568.5 571.4,565 571.8,563 572.2,566.5 572.6,559.1 573,565.6 573.4,566.6 573.8,567.1 574.2,561.7 574.6,567.1 575,567.6 575.4,564.6 575.8,567.1 576.2,563.4 576.6,549.3 577,555.9 577.4,563.3 577.8,562.8 578.2,562.4 578.6,568.5 579,571.2 579.4,561.1 579.8,566.8 580.2,566.2 580.6,563.9 581,558.1 581.4,563 581.8,568.9 582.2,562.2 582.6,562.7 583,569.6 583.4,563.9 583.8,559.9 584.2,560.8 584.6,566.4 585,565.9 585.4,564.4 585.8,567.3 586.2,566.4 586.6,564.8 587,565.2 587.4,568 587.8,562.2 588.2,558.6 588.6,558.4 589,560.8 589.4,554.6 589.8,557.1 590.2,561 590.6,560 591,559 591.4,563.6 591.8,566.6 592.2,565.4 592.6,567.1 593,566.1 593.4,563.9 593.8,561.6 594.2,559.4 594.6,567 595,563.6 595.4,562.1 595.5,589 595.4,614.7 595,622.7 594.6,614.7 594.2,611.9 593.8,608 593.4,610.2 593,612.6 592.6,612.8 592.2,612.5 591.8,616.4 591.4,620.9 591,617.7 590.6,617.5 590.2,614 589.8,621.6 589.4,617.9 589,616.9 588.6,614.2 588.2,624.8 587.8,615.5 587.4,611.2 587,610.4 586.6,608.2 586.2,609.1 585.8,618.6 585.4,618.4 585,615.9 584.6,614.6 584.2,611.8 583.8,628.1 583.4,613.8 583,615.6 582.6,614.6 582.2,608.6 581.8,606.5 581.4,606.6 581,615.5 580.6,612.6 580.2,614.1 579.8,617.1 579.4,615.4 579,614.3 578.6,611.6 578.2,610 577.8,611.9 577.4,610.6 577,610.1 576.6,611.9 576.2,613.6 575.8,612 575.4,612.4 575,630.9 574.6,615.1 574.2,610 573.8,609.4 573.4,610.8 573,607.6 572.6,607.5 572.2,606.5 571.8,608.3 571.4,609.7 571,613 570.6,609.8 570.2,618 569.8,615.1 569.4,615.3 569,612.3 568.6,624.1 568.2,613 567.8,613.9 567.4,614.4 567,613.7 566.6,614.1 566.2,620.3 565.8,620.2 565.4,615.8 565,618.5 564.6,620.6 564.2,618.6 563.8,614 563.4,616.5 563,613.4 562.6,615 562.2,611.3 561.8,619.4 561.4,617.8 561,614.1 560.6,619 560.2,617.4 559.8,621.7 559.4,620.6 559,620.3 558.6,619.8 558.2,620 557.8,620.9 557.4,613.2 557,611.5 556.6,610.2 556.2,609.5 555.8,612.2 555.4,608.3 555,615.4 554.6,615.8 554.2,609.3 553.8,611.6 553.4,609.9 553,609.3 552.6,606.7 552.2,612.8 551.8,613.2 551.4,614.2 551,612.1 550.6,610.2 550.2,614 549.8,615 549.4,619.8 549,611.8 548.6,611.9 548.2,611.4 547.8,615.2 547.4,610.1 547,607.5 546.6,608.3 546.2,608.8 545.8,613.9 545.4,618.2 545,619.7 544.6,618.4 544.2,614.8 543.8,619.9 543.4,617.7 543,614.1 542.6,615.8 542.2,617 541.8,618.8 541.4,627.5 541,616.9 540.6,619.6 540.2,617.7 539.8,614.1 539.4,612.5 539,613.1 538.6,612.3 538.2,616.3 537.8,616 537.4,616.6 537,616 536.6,614.2 536.2,613.7 535.8,617.1 535.4,613 535,618.8 534.6,619.5 534.2,615.4 533.8,620.1 533.4,618.1 533,619.4 532.6,615.1 532.2,620.3 531.8,615.7 531.4,617.9 531,617 530.6,620.7 530.2,618 529.8,615.8 529.4,615.4 529,615.5 528.6,612.7 528.2,616.2 527.8,621.5 527.4,610.6 527,613.8 526.6,611.9 526.2,611.7 525.8,616.1 525.4,613.7 525,613.2 524.6,612.4 524.2,609.6 523.8,609.3 523.4,608.5 523,622.3 522.6,613.2 522.2,612.2 521.8,616.3 521.4,615.7 521,626.9 520.6,611.8 520.2,611.6 519.8,612.5 519.4,616.2 519,615.3 518.6,611.2 518.2,612.4 517.8,613.4 517.4,617.1 517,611.6 516.6,620.5 516.2,621.7 515.8,619.7 515.4,617.5 515,617.8 514.6,614.2 514.2,610.2 513.8,608.8 513.4,613.5 513,618.7 512.6,620.9 512.2,613.9 511.8,616.1 511.4,615.1 511,613.9 510.6,615.2 510.2,618 509.8,617.3 509.4,624.9 509,620.5 508.6,622.1 508.2,616.9 507.8,623.3 507.4,621.9 507,609.8 506.6,617.2 506.2,614.1 505.8,611.8 505.4,608 505,610.6 504.6,610.7 504.2,619.5 503.8,621.3 503.4,624.6 503,621.8 502.6,621.7 502.2,622.4 501.8,625.1 501.4,615 501,615.7 500.6,608.8 500.2,613.8 499.8,619.8 499.4,620.8 499,618.2 498.6,623.4 498.2,623.6 497.8,616.3 497.4,615.5 497,616 496.6,615.8 496.2,611.5 495.8,617.4 495.4,615.8 495,619.7 494.6,623.3 494.2,619.5 493.8,622.3 493.4,625.3 493,613.5 492.6,621.9 492.2,612.7 491.8,610 491.4,612.6 491,611.8 490.6,607.1 490.2,605.6 489.8,607.3 489.4,604.4 489,604.9 488.6,601.3 488.2,598.6 487.8,595.3" fill="#0072bd"/>
<path d="M491.5 514.5V590M549.4 530.8V730.7M542.5 536V773.5M539.6 590V773M504.5 540.4V673.8M518.4 542V675.3M534.7 540V653.9M551.4 537.4V590M564.7 540V658.3M580.2 545V640M498.2 590V640M514.4 590V640M488.6 590V650" stroke="#0072bd" stroke-width="0.9" stroke-opacity="0.62" fill="none"/>
<rect x="193" y="429.6" width="52" height="315.4" fill="none" stroke="#ff0000" stroke-width="2"/>
<rect x="487.2" y="429.4" width="51.7" height="315.4" fill="none" stroke="#ff0000" stroke-width="2"/>
<polyline points="247.6,588.1 248.1,567.5 248.6,547.3 249.1,527.8 249.5,509.4 250,492.2 250.5,476.7 251,463.1 251.5,451.7 252,442.6 252.5,436 253,431.9 253.4,430.6 253.9,431.9 254.4,436 254.9,442.6 255.4,451.7 255.9,463.1 256.4,476.7 256.9,492.2 257.4,509.4 257.8,527.8 258.3,547.3 258.8,567.5 259.3,588.1 259.8,608.6 260.3,628.8 260.8,648.2 261.2,666.7 261.7,683.7 262.2,699.2 262.7,712.7 263.2,724.2 263.7,733.2 264.2,739.8 264.7,743.9 265.1,745.2 265.6,743.9 266.1,739.8 266.6,733.2 267.1,724.2 267.6,712.7 268.1,699.2 268.6,683.7 269.1,666.7 269.5,648.2 270,628.8 270.5,608.6 271,588.1" fill="none" stroke="#0000ff" stroke-width="1.2"/>
<polyline points="461.5,588.1 462,567.5 462.5,547.3 463,527.8 463.5,509.4 464,492.2 464.5,476.7 465,463.1 465.5,451.7 466,442.6 466.5,436 467,431.9 467.5,430.6 468,431.9 468.5,436 469,442.6 469.5,451.7 470,463.1 470.5,476.7 471,492.2 471.5,509.4 472,527.8 472.5,547.3 473,567.5 473.6,588.1 474.1,608.6 474.6,628.8 475.1,648.2 475.6,666.7 476.1,683.7 476.6,699.2 477.1,712.7 477.6,724.2 478.1,733.2 478.6,739.8 479.1,743.9 479.6,745.2 480.1,743.9 480.6,739.8 481.1,733.2 481.6,724.2 482.1,712.7 482.6,699.2 483.1,683.7 483.6,666.7 484.1,648.2 484.6,628.8 485.1,608.6 485.6,588.1" fill="none" stroke="#0000ff" stroke-width="1.2"/>
<line x1="271" y1="588.1" x2="461.5" y2="588.1" stroke="#0000ff" stroke-width="1.1" stroke-dasharray="3.2 2.2"/>
<path d="M271.2 431.3H294.6M271.2 584.4H294.6" stroke="#000" stroke-width="1.5" fill="none"/>
<path d="M282.9 441.3V574.4" stroke="#000" stroke-width="2" fill="none"/>
<path d="M282.9 432.1L272.5 452.9L293.3 452.9ZM282.9 583.6L272.5 562.8L293.3 562.8Z" fill="#000"/>
<text x="254" y="423.2" style="font-size:24.5px">0.5 V</text>
<text class="b" x="295.7" y="514.5">Drug release</text>
<text x="322" y="623.6">2 Hz, 5 s</text>
<text transform="translate(96 598) rotate(-90)" text-anchor="middle">PEDOT/SNP/GABA</text>
<!-- row 3 -->
<rect x="238.7" y="833.7" width="236.1" height="314" fill="#d9d9d9" stroke="#999" stroke-width="0.8"/>
<path d="M129.2 974.9V1025.9M130.8 966.5V1024.1M132.3 974.2V1022.1M133.8 977.5V1029.5M135.6 977.3V1027.9M137.4 972.3V1026M138.7 971.1V1020.9M140.4 972.7V1025M141.8 973.8V1025.7M144 977.1V1037.7M145.4 974.8V1029.5M147 973.8V1025.6M148.2 975.2V1024.7M150 971.4V1023.3M151.5 968.5V1025.3M153.4 976.5V1027M154.8 973.5V1021.4M156.7 975.3V1020.6M158.2 975.3V1030.4M159.6 976.6V1026.5M161.1 976.4V1024.3M162.6 972.3V1020.5M164.4 973V1032.8M165.9 974.7V1019.9M167.9 976.9V1031.1M169.6 972.9V1038.9M170.9 976.1V1023.8M172.3 976.8V1024.1M173.9 972.8V1019.9M175.5 974.4V1034.8M177.5 975.9V1031.7M179.1 967.5V1023.1M180.6 976.8V1019.9M181.9 974.1V1022.3M183.7 972.8V1025.7M185.5 977V1030.6M186.7 977V1033.4M188.7 969.1V1019.9M189.9 976V1028.6M191.4 972.4V1020.7M193.3 967V1022.3M195 973.4V1025.2M196.3 975.3V1020M198.2 975.7V1027.2M200 975.7V1022.6M201.1 975.5V1023M202.7 976.7V1024.8M204.5 975.7V1021.5M206.3 976.5V1023.4M207.5 974.5V1021.8M209.4 967.5V1021.3M210.8 977.5V1032.8M212.3 976.5V1027.7M213.9 973.6V1021M215.8 969.4V1025.8M217 974.4V1020.3M218.7 977.3V1035.2M220.3 971.9V1021.4M222 976.1V1026.2M223.9 976.7V1022.8M225.3 974.4V1024.7M227 974.6V1021.8M228.6 974.3V1020M229.8 975.9V1022M231.8 973.7V1025.3M233.4 976V1028M235.1 971V1020.5M236.7 974.2V1022" stroke="#0072bd" stroke-width="0.7" stroke-opacity="0.55" fill="none"/>
<polygon points="129,998.7 129,980.2 129.4,981 129.8,978.6 130.2,978.7 130.6,972.2 131,979 131.4,973 131.8,973.3 132.2,972.9 132.6,972.4 133,967 133.4,967.6 133.8,974.3 134.2,980.8 134.6,980.9 135,975.7 135.4,977.1 135.8,970.8 136.2,971.4 136.6,972.9 137,973.4 137.4,974 137.8,972.9 138.2,974.9 138.6,978.3 139,976.2 139.4,975.9 139.8,978.8 140.2,975.4 140.6,976.9 141,979.4 141.4,979.6 141.8,972 142.2,983.2 142.6,982.1 143,979.1 143.4,980.4 143.8,977.5 144.2,976.5 144.6,974.8 145,967.2 145.4,969 145.8,973.6 146.2,974.4 146.6,982.7 147,984.7 147.4,984.7 147.8,980.5 148.2,983.5 148.6,969.3 149,971.5 149.4,976.2 149.8,973.3 150.2,972.5 150.6,984.6 151,984.7 151.4,984.3 151.8,982.5 152.2,979.1 152.6,974.7 153,974.3 153.4,972.8 153.8,975.7 154.2,980.2 154.6,976.9 155,973.5 155.4,977.4 155.8,968.2 156.2,974 156.6,973.6 157,979 157.4,978.7 157.8,977.1 158.2,978.8 158.6,982.4 159,982 159.4,984.6 159.8,983 160.2,983.1 160.6,982.8 161,977.5 161.4,976.7 161.8,977.3 162.2,977 162.6,976.6 163,980.8 163.4,977.4 163.8,975.3 164.2,973.3 164.6,974.5 165,977 165.4,967.9 165.8,982.9 166.2,980.9 166.6,977.8 167,980.9 167.4,981.3 167.8,977.9 168.2,977.6 168.6,974.1 169,976.1 169.4,975 169.8,970.8 170.2,973.6 170.6,977.5 171,980.6 171.4,981.2 171.8,979.7 172.2,983.7 172.6,984.7 173,983.1 173.4,977.9 173.8,981.8 174.2,982.7 174.6,980.4 175,977.2 175.4,973.6 175.8,983.1 176.2,982.4 176.6,981.8 177,981.6 177.4,981 177.8,969.6 178.2,977.6 178.6,976.3 179,978.2 179.4,979.1 179.8,982.6 180.2,976.3 180.6,974.5 181,972.8 181.4,970.7 181.8,964.8 182.2,966.2 182.6,969.2 183,965.7 183.4,968.7 183.8,978.2 184.2,982.4 184.6,984.7 185,984.7 185.4,976.4 185.8,977.4 186.2,976 186.6,971.6 187,974.6 187.4,979.2 187.8,976 188.2,978.5 188.6,966.1 189,973.2 189.4,966.9 189.8,969.7 190.2,976.4 190.6,981.8 191,980.8 191.4,981.8 191.8,980.3 192.2,975.1 192.6,980.3 193,980 193.4,981.7 193.8,975.7 194.2,973.3 194.6,975.1 195,979.1 195.4,974.8 195.8,980.1 196.2,968.2 196.6,977 197,974.8 197.4,971.6 197.8,971.5 198.2,965.6 198.6,978.6 199,980.8 199.4,980.9 199.8,975.6 200.2,980.9 200.6,978.4 201,974.8 201.4,973.4 201.8,978.1 202.2,978.2 202.6,980.2 203,979.9 203.4,984.7 203.8,984.7 204.2,984.2 204.6,984 205,974.7 205.4,978.8 205.8,980.1 206.2,976.1 206.6,976.5 207,971.5 207.4,969.8 207.8,973.4 208.2,975.3 208.6,976 209,978.4 209.4,975.7 209.8,970.4 210.2,975.4 210.6,969.5 211,970.1 211.4,973.4 211.8,979.2 212.2,978.4 212.6,980.8 213,982.5 213.4,984.7 213.8,984.7 214.2,984.1 214.6,984.7 215,984.7 215.4,984.1 215.8,984.7 216.2,984.7 216.6,974.2 217,979.9 217.4,981.4 217.8,977.9 218.2,978.1 218.6,977.7 219,979.8 219.4,979 219.8,974.8 220.2,973.3 220.6,972.4 221,972.8 221.4,965.5 221.8,977.1 222.2,973.4 222.6,975 223,977 223.4,978.9 223.8,977.9 224.2,978.8 224.6,975.8 225,976.2 225.4,971.5 225.8,981.6 226.2,980.2 226.6,979.9 227,978.1 227.4,974.7 227.8,970.6 228.2,967.4 228.6,979 229,976.4 229.4,979 229.8,980.1 230.2,972.9 230.6,977.9 231,970.1 231.4,966.9 231.8,976.1 232.2,977.6 232.6,979.4 233,977.2 233.4,980.1 233.8,973.9 234.2,972.4 234.6,972.6 235,973.9 235.4,976.4 235.8,961.5 236.2,974.3 236.6,980.2 237,977.9 237,998.7 237,1023.6 236.6,1031 236.2,1020.2 235.8,1024.8 235.4,1017.2 235,1018 234.6,1023.3 234.2,1023.8 233.8,1017.5 233.4,1017.6 233,1019.4 232.6,1021.9 232.2,1019.1 231.8,1022.9 231.4,1022.2 231,1024.8 230.6,1021.4 230.2,1020.3 229.8,1024.1 229.4,1024.2 229,1020.6 228.6,1025.9 228.2,1030.7 227.8,1027.6 227.4,1038.2 227,1023.9 226.6,1029.5 226.2,1037.2 225.8,1024.1 225.4,1033.3 225,1024.7 224.6,1019.6 224.2,1016.5 223.8,1014.1 223.4,1012.7 223,1019.4 222.6,1018.4 222.2,1019.6 221.8,1019.8 221.4,1017 221,1020.3 220.6,1018.2 220.2,1018.6 219.8,1012.7 219.4,1019 219,1016.5 218.6,1021.1 218.2,1023.4 217.8,1026.2 217.4,1015.4 217,1014.5 216.6,1012.7 216.2,1017.1 215.8,1024.4 215.4,1029.8 215,1019.7 214.6,1028 214.2,1016.7 213.8,1019.3 213.4,1018.4 213,1021.8 212.6,1022.4 212.2,1025.3 211.8,1020.8 211.4,1032 211,1020.8 210.6,1021.2 210.2,1019.5 209.8,1025.5 209.4,1026.5 209,1022.4 208.6,1018.6 208.2,1022.8 207.8,1018.5 207.4,1017.8 207,1019.6 206.6,1024.7 206.2,1021.3 205.8,1019.2 205.4,1016.2 205,1018.5 204.6,1016.1 204.2,1022.8 203.8,1021.9 203.4,1023.4 203,1020.8 202.6,1019.4 202.2,1021 201.8,1016.6 201.4,1012.7 201,1012.7 200.6,1020.7 200.2,1019.1 199.8,1020.4 199.4,1029 199,1033.5 198.6,1029.3 198.2,1021.1 197.8,1023.7 197.4,1020.6 197,1018.6 196.6,1016.3 196.2,1015.6 195.8,1016.6 195.4,1013.8 195,1013.3 194.6,1012.7 194.2,1023.1 193.8,1015.5 193.4,1025 193,1034.3 192.6,1027 192.2,1023.5 191.8,1021.3 191.4,1019 191,1016 190.6,1022 190.2,1024.8 189.8,1013 189.4,1016 189,1019.5 188.6,1015.7 188.2,1013.3 187.8,1015.1 187.4,1014.5 187,1022 186.6,1019.1 186.2,1019.7 185.8,1021.2 185.4,1023.2 185,1020.6 184.6,1017.9 184.2,1021.6 183.8,1017.5 183.4,1028.5 183,1021.7 182.6,1020.5 182.2,1021.8 181.8,1022.5 181.4,1022.8 181,1029.9 180.6,1029.6 180.2,1025.4 179.8,1020.8 179.4,1027.3 179,1028.2 178.6,1023.6 178.2,1019.9 177.8,1022.3 177.4,1029.6 177,1022.2 176.6,1027.9 176.2,1022.6 175.8,1024.5 175.4,1026.6 175,1022.2 174.6,1018.9 174.2,1030.1 173.8,1028.2 173.4,1026.4 173,1025.8 172.6,1019.2 172.2,1018.9 171.8,1021.4 171.4,1017.1 171,1019 170.6,1020.3 170.2,1023.6 169.8,1022.1 169.4,1024.9 169,1026.1 168.6,1038.6 168.2,1020.3 167.8,1017.4 167.4,1012.7 167,1013.6 166.6,1021.8 166.2,1019.6 165.8,1025.5 165.4,1029 165,1034.7 164.6,1020.8 164.2,1016.5 163.8,1017.8 163.4,1020.9 163,1021.7 162.6,1019.2 162.2,1025.9 161.8,1021.3 161.4,1013.6 161,1012.7 160.6,1016 160.2,1015.9 159.8,1020.2 159.4,1020.5 159,1022.7 158.6,1022.8 158.2,1021.2 157.8,1021.7 157.4,1017.5 157,1017.9 156.6,1019.4 156.2,1017.6 155.8,1014.6 155.4,1019.8 155,1019.4 154.6,1017.6 154.2,1024.8 153.8,1025.7 153.4,1019.7 153,1024 152.6,1024.3 152.2,1022 151.8,1022.4 151.4,1022.7 151,1019.8 150.6,1020.1 150.2,1023.2 149.8,1021.6 149.4,1023.8 149,1014.3 148.6,1015.3 148.2,1020 147.8,1020.8 147.4,1021.7 147,1021.1 146.6,1021 146.2,1027.8 145.8,1021.7 145.4,1021.1 145,1021 144.6,1018.8 144.2,1025.7 143.8,1016.7 143.4,1021.6 143,1014.5 142.6,1016.2 142.2,1019.9 141.8,1021.7 141.4,1029.1 141,1024.4 140.6,1030.9 140.2,1026.2 139.8,1024.4 139.4,1036.9 139,1026.4 138.6,1024.6 138.2,1025.8 137.8,1020.1 137.4,1026.4 137,1029.2 136.6,1024.7 136.2,1024.7 135.8,1026.8 135.4,1025.8 135,1017.9 134.6,1023.5 134.2,1025.5 133.8,1024.3 133.4,1030.8 133,1028.6 132.6,1023.2 132.2,1019.8 131.8,1027 131.4,1028.8 131,1026.4 130.6,1032 130.2,1026.8 129.8,1025.5 129.4,1022.4 129,1023.4" fill="#0072bd"/>
<path d="M164.3 944.1V1083.4M196.4 947.3V1073.1M219.3 954V1070.1M180.3 961V1095.3M129.4 962V1077.5M215.3 961V999.5M143.3 999.5V1077.5M233 999.5V1070M212.4 999.5V1046.5M181.8 999.5V1057" stroke="#0072bd" stroke-width="0.9" stroke-opacity="0.62" fill="none"/>
<path d="M479.4 974.8V1021.3M481 979.4V1028.7M482.4 974V1023.9M483.9 980.1V1024.9M486 961.6V1034M487.3 967.2V1023.9M488.7 979.6V1028.3M490.7 978.4V1030.6M492 976.3V1022.7M493.7 977.5V1027.9M495.2 980V1024.3M496.9 979.7V1041.5M498.8 975.7V1023.4M500 977.2V1030.6M501.9 975.1V1021.7M503.5 966.7V1023.7M504.9 974.5V1030.8M506.3 976.5V1021.9M507.9 977.1V1044.4M509.5 978.7V1024.1M511.1 979.8V1024.8M512.7 963V1026.2M514.3 977.7V1021.6M516.3 978.9V1022.7M517.8 970.1V1026.2M519 978.2V1024.1M520.8 977.1V1025.8M522.7 979.1V1023.4M524 973.8V1022.4M526 973V1023.4M527.4 969.2V1032.3M529 965.2V1040.2M530.5 970.3V1027.8M532.1 979.4V1026.8M533.8 970.7V1022.3M535.1 975.7V1022.1M536.9 975.4V1024.2M538.6 976.9V1025.7M540.1 977.8V1024M541.7 962.8V1025M543.1 979.2V1023M544.8 975.8V1028.8M546.2 963.4V1024.1M548 974.1V1032.6M549.6 971.5V1021.8M551.3 979.2V1040.8M552.8 972.3V1021.5M554.5 974.9V1024.7M556.1 973.5V1021.4M557.4 979.2V1021.7M559.6 978.4V1022.5M560.6 962.5V1046.4M562.4 980.2V1024M564.2 977.2V1022.8M565.5 979.2V1024.4M567.3 963.6V1034.1M568.7 977.6V1028.1M570.8 979.8V1026M572 979.1V1024.7M573.5 977.9V1025.2M575.5 979V1023M577.1 975.5V1023.6M578.5 975V1022.1M580.1 973.5V1022.3M581.7 979.2V1021.9M583.2 964.4V1024.3M585.1 980.1V1034.3" stroke="#0072bd" stroke-width="0.7" stroke-opacity="0.55" fill="none"/>
<polygon points="479,1000.7 479,997.1 479.4,996.1 479.8,995.5 480.2,993 480.6,989.5 481,987.2 481.4,986.7 481.8,985.1 482.2,982.8 482.6,981 483,976.8 483.4,974.3 483.8,975.5 484.2,975.8 484.6,976.3 485,980.8 485.4,982.8 485.8,978.5 486.2,986.9 486.6,985.7 487,983.4 487.4,978.7 487.8,970.8 488.2,968.4 488.6,974 489,981.8 489.4,986.5 489.8,987.2 490.2,984.3 490.6,983.7 491,983.1 491.4,980.3 491.8,979.7 492.2,971.7 492.6,979.4 493,975.5 493.4,971.4 493.8,980.5 494.2,978.1 494.6,974.3 495,981 495.4,978.3 495.8,968.7 496.2,968.5 496.6,973.5 497,970.4 497.4,969.3 497.8,973.8 498.2,974.5 498.6,972 499,977.1 499.4,973.7 499.8,976 500.2,976.2 500.6,980.5 501,979.7 501.4,982 501.8,977.7 502.2,985 502.6,985.1 503,982.7 503.4,981.4 503.8,974.7 504.2,973.9 504.6,976 505,977.8 505.4,975.7 505.8,983.2 506.2,986.4 506.6,980.4 507,981.4 507.4,978.3 507.8,974.9 508.2,977.1 508.6,977.2 509,980.1 509.4,977.4 509.8,977.2 510.2,976.8 510.6,976.8 511,972.9 511.4,969 511.8,974.6 512.2,974.6 512.6,975.3 513,974.4 513.4,978.1 513.8,983.8 514.2,981.8 514.6,982.8 515,983.2 515.4,981.4 515.8,977.5 516.2,981.8 516.6,980.1 517,982.9 517.4,975.2 517.8,981.8 518.2,976.8 518.6,978.6 519,972.3 519.4,969.8 519.8,970.6 520.2,969 520.6,967.3 521,966.6 521.4,968.2 521.8,970.7 522.2,974.2 522.6,978.6 523,970.6 523.4,975.7 523.8,972.8 524.2,970.4 524.6,974.7 525,978.7 525.4,979.5 525.8,978.5 526.2,981.3 526.6,982.1 527,974.2 527.4,981.7 527.8,979 528.2,975.3 528.6,984 529,976.4 529.4,978.8 529.8,981.8 530.2,982 530.6,977.5 531,978 531.4,976.7 531.8,977 532.2,982.6 532.6,983.7 533,984.2 533.4,982.5 533.8,985.8 534.2,983.9 534.6,986.1 535,985.6 535.4,984.1 535.8,977.6 536.2,980.6 536.6,980.1 537,977.8 537.4,976.5 537.8,980 538.2,977.7 538.6,974.1 539,975.7 539.4,973.2 539.8,976.7 540.2,978.2 540.6,975.7 541,981.4 541.4,977.6 541.8,985.6 542.2,987.2 542.6,987.2 543,986.8 543.4,975.5 543.8,976.7 544.2,973.3 544.6,975.5 545,976.9 545.4,979.7 545.8,980.7 546.2,983.8 546.6,984 547,980.5 547.4,979.6 547.8,978.1 548.2,985.6 548.6,981.9 549,982.3 549.4,977.9 549.8,981.9 550.2,979 550.6,977.5 551,980 551.4,979.8 551.8,979.7 552.2,977 552.6,973.1 553,975.5 553.4,978.5 553.8,974.7 554.2,978.3 554.6,980.9 555,978.2 555.4,980.5 555.8,975.8 556.2,977.6 556.6,974.7 557,978.9 557.4,976.7 557.8,982.6 558.2,982.6 558.6,981.5 559,980.9 559.4,976.3 559.8,976.2 560.2,977.1 560.6,976.3 561,971.8 561.4,975.3 561.8,976.6 562.2,973.1 562.6,973 563,975 563.4,975.4 563.8,974.5 564.2,973.8 564.6,981.6 565,980.1 565.4,975.8 565.8,974.9 566.2,974.2 566.6,976.2 567,976.1 567.4,975 567.8,976.8 568.2,972.8 568.6,981.9 569,979.5 569.4,975.5 569.8,971.3 570.2,982.2 570.6,984.3 571,979.5 571.4,985.5 571.8,978.9 572.2,977.3 572.6,976.6 573,971 573.4,975.1 573.8,973.9 574.2,975.4 574.6,973.2 575,974.5 575.4,966.2 575.8,978.9 576.2,983.1 576.6,982 577,983 577.4,987.2 577.8,981 578.2,978.5 578.6,980 579,976.4 579.4,973.7 579.8,975.8 580.2,977.8 580.6,975.2 581,981.4 581.4,982.1 581.8,977.4 582.2,979.6 582.6,972.9 583,974.2 583.4,971.7 583.8,977.3 584.2,980.3 584.6,976.5 585,978.5 585.4,978.2 585.5,1000.7 585.4,1030.2 585,1024.6 584.6,1028.7 584.2,1024 583.8,1022.2 583.4,1021.5 583,1022.6 582.6,1027.2 582.2,1022.9 581.8,1022.4 581.4,1024.6 581,1026 580.6,1025.3 580.2,1027.5 579.8,1028.6 579.4,1020.4 579,1015.2 578.6,1014.2 578.2,1017.2 577.8,1018.1 577.4,1016.4 577,1019.8 576.6,1018.4 576.2,1023.4 575.8,1019.4 575.4,1020.7 575,1018.9 574.6,1023.2 574.2,1019.2 573.8,1021.4 573.4,1018.9 573,1022.7 572.6,1021.4 572.2,1023.5 571.8,1020.7 571.4,1026.7 571,1022.7 570.6,1022.6 570.2,1018.3 569.8,1018.1 569.4,1023.3 569,1016.5 568.6,1023.3 568.2,1025 567.8,1025.4 567.4,1025.2 567,1022.9 566.6,1023.5 566.2,1023 565.8,1015.6 565.4,1014.2 565,1032.4 564.6,1019.1 564.2,1018 563.8,1018.1 563.4,1023.1 563,1020.9 562.6,1024.5 562.2,1023.9 561.8,1022 561.4,1024.9 561,1026.3 560.6,1021.9 560.2,1023.9 559.8,1028.3 559.4,1026.6 559,1028.6 558.6,1033.1 558.2,1024.7 557.8,1023.4 557.4,1019.1 557,1021 556.6,1017 556.2,1021.1 555.8,1027 555.4,1023.4 555,1022.4 554.6,1022.3 554.2,1018.3 553.8,1016.5 553.4,1014.4 553,1016.9 552.6,1018.1 552.2,1020.2 551.8,1020.9 551.4,1028.2 551,1031.2 550.6,1031.5 550.2,1026.6 549.8,1027.3 549.4,1025.8 549,1030.3 548.6,1022.1 548.2,1022.9 547.8,1026.7 547.4,1020.1 547,1030.3 546.6,1026.1 546.2,1024.8 545.8,1026.3 545.4,1024.7 545,1021.7 544.6,1023.9 544.2,1020.7 543.8,1019 543.4,1024.6 543,1020.8 542.6,1020.2 542.2,1018 541.8,1017 541.4,1030.8 541,1024.8 540.6,1027.2 540.2,1027.1 539.8,1028.6 539.4,1025.2 539,1029.5 538.6,1028.9 538.2,1024.7 537.8,1031.2 537.4,1027.3 537,1024.9 536.6,1022.6 536.2,1027.1 535.8,1017.4 535.4,1020.2 535,1024.2 534.6,1016.7 534.2,1015.7 533.8,1018.2 533.4,1015.3 533,1014.2 532.6,1017 532.2,1015.9 531.8,1020.4 531.4,1021.2 531,1026.9 530.6,1025.7 530.2,1029.4 529.8,1027.7 529.4,1024.7 529,1026.2 528.6,1024.8 528.2,1023.3 527.8,1025.7 527.4,1024.8 527,1031.4 526.6,1023.5 526.2,1025.4 525.8,1019.6 525.4,1018.4 525,1015.9 524.6,1019.9 524.2,1017.4 523.8,1018.4 523.4,1016.3 523,1015.4 522.6,1017.9 522.2,1014.4 521.8,1017.3 521.4,1017.3 521,1017.3 520.6,1016.4 520.2,1023.8 519.8,1018.2 519.4,1020.1 519,1021 518.6,1032.4 518.2,1017.7 517.8,1019.8 517.4,1022.4 517,1029.4 516.6,1027.2 516.2,1031.5 515.8,1030 515.4,1022.2 515,1024.8 514.6,1027.8 514.2,1027.5 513.8,1021.3 513.4,1020.2 513,1022.6 512.6,1014.2 512.2,1014.2 511.8,1022.9 511.4,1020.7 511,1020.5 510.6,1027.5 510.2,1023.2 509.8,1022.5 509.4,1026.5 509,1029 508.6,1026.7 508.2,1026.3 507.8,1024.8 507.4,1028.5 507,1027.1 506.6,1025.7 506.2,1021.6 505.8,1026 505.4,1021.2 505,1022.9 504.6,1021.8 504.2,1019.1 503.8,1017.9 503.4,1023.2 503,1018.6 502.6,1020.4 502.2,1025.1 501.8,1027.2 501.4,1025.1 501,1024.3 500.6,1033.7 500.2,1017.8 499.8,1018.3 499.4,1014.2 499,1018.9 498.6,1018.7 498.2,1028.3 497.8,1025.5 497.4,1032.2 497,1029.6 496.6,1017.9 496.2,1020.3 495.8,1021.4 495.4,1028.9 495,1025.2 494.6,1023.3 494.2,1021 493.8,1021.2 493.4,1022.5 493,1017.2 492.6,1018.1 492.2,1023.1 491.8,1022.6 491.4,1021.3 491,1024.3 490.6,1029.9 490.2,1023.3 489.8,1019.6 489.4,1019.6 489,1019.1 488.6,1020.9 488.2,1018.4 487.8,1022.2 487.4,1022.8 487,1025.1 486.6,1023.8 486.2,1020.7 485.8,1021.8 485.4,1018.4 485,1018.4 484.6,1021 484.2,1023.6 483.8,1027.4 483.4,1026.1 483,1021.4 482.6,1016.6 482.2,1016 481.8,1018.8 481.4,1014.9 481,1013.5 480.6,1011.3 480.2,1011.2 479.8,1009.3 479.4,1007.4 479,1008" fill="#0072bd"/>
<path d="M479.6 902V1183M487.8 951.5V1075M489.3 999.5V1090.8M491 999.5V1075M505.6 956.6V1077.5M533.6 955.2V1083.4M492.3 960V1070M517.4 964V999.5M518.9 999.5V1110.8M549.2 960V1083M552.1 962V1083M563.9 962V1086.4M580.2 963V1086M584.3 963V1089M535.1 999.5V1075M506.8 999.5V1068M550.8 999.5V1072M565.5 999.5V1075M582 999.5V1078" stroke="#0072bd" stroke-width="0.9" stroke-opacity="0.62" fill="none"/>
<path d="M487.6 972.9V1076.7M488.2 973.3V1078.6M488.7 966.1V1066M489.3 959V1062.1M489.8 971V1048.5M490.4 976.5V1071.2M490.9 967.3V1047.3M491.5 956.1V1052.1M492 968V1053M492.6 962.5V1064.7M493.1 963.2V1051.7M504.6 974.3V1044.9M505.1 973.3V1041M505.7 977V1070.7M506.2 958.9V1042.6M506.8 980.3V1043.2M507.4 964.9V1064M517.1 982.2V1063M517.6 982.6V1060.5M518.2 969.4V1079.4M518.7 977.3V1072.1M519.3 964.7V1076.9M530.5 979.4V1057.2M531 955.5V1054.4M531.6 959.6V1060.2M532.1 960.6V1057.8M532.7 978.8V1042.1M533.2 976.7V1048.6M533.8 955.9V1063.5M534.3 959.5V1061M534.9 963.9V1070.6M546.8 958.7V1080.3M547.3 961.1V1045.7M547.9 971.9V1043.3M548.4 967.6V1075.4M549 979.2V1049.7M549.5 971.8V1052.1M550.1 961.8V1056.6M550.6 965.4V1062.6M551.2 966.7V1081.4M551.7 958.3V1046.5M552.3 960.7V1056.4M562.9 979.5V1059.3M563.4 970.6V1084.3M564 973.7V1043.3M564.5 963V1047.6M565.1 971.3V1079.5M565.6 970.5V1062.1M566.2 964.3V1043.6M579.4 969.3V1062M579.9 960.3V1079.2M580.5 980.6V1052.2M581 971.9V1074.9M581.6 974.5V1059.7M582.1 961.7V1085.9M582.7 972.9V1083.5M583.2 974.6V1047.4M583.8 970.3V1073M584.3 962.3V1086.5" stroke="#0072bd" stroke-width="0.8" stroke-opacity="0.72" fill="none"/>
<rect x="184.8" y="833.1" width="52.9" height="314.5" fill="none" stroke="#ff0000" stroke-width="2"/>
<rect x="477.3" y="833.1" width="52.5" height="314.7" fill="none" stroke="#ff0000" stroke-width="2"/>
<polyline points="238.7,990.6 239.2,970.2 239.7,950.1 240.2,930.7 240.7,912.3 241.2,895.3 241.6,879.9 242.1,866.4 242.6,855 243.1,845.9 243.6,839.3 244.1,835.3 244.6,834 245.1,835.3 245.6,839.3 246.1,845.9 246.6,855 247.1,866.4 247.6,879.9 248,895.3 248.5,912.3 249,930.7 249.5,950.1 250,970.2 250.5,990.6 251,1011.1 251.5,1031.2 252,1050.6 252.5,1069 253,1086.1 253.4,1101.5 253.9,1115 254.4,1126.4 254.9,1135.5 255.4,1142.1 255.9,1146.1 256.4,1147.4 256.9,1146.1 257.4,1142.1 257.9,1135.5 258.4,1126.4 258.9,1115 259.4,1101.5 259.8,1086.1 260.3,1069 260.8,1050.6 261.3,1031.2 261.8,1011.1 262.3,990.6" fill="none" stroke="#0000ff" stroke-width="1.2"/>
<polyline points="451,990.6 451.5,970.2 452,950.1 452.5,930.7 453,912.3 453.5,895.3 454,879.9 454.5,866.4 455,855 455.5,845.9 456,839.3 456.5,835.3 457,834 457.5,835.3 458,839.3 458.5,845.9 459,855 459.5,866.4 460,879.9 460.5,895.3 461,912.3 461.5,930.7 462,950.1 462.5,970.2 462.9,990.6 463.4,1011.1 463.9,1031.2 464.4,1050.6 464.9,1069 465.4,1086.1 465.9,1101.5 466.4,1115 466.9,1126.4 467.4,1135.5 467.9,1142.1 468.4,1146.1 468.9,1147.4 469.4,1146.1 469.9,1142.1 470.4,1135.5 470.9,1126.4 471.4,1115 471.9,1101.5 472.4,1086.1 472.9,1069 473.4,1050.6 473.9,1031.2 474.4,1011.1 474.9,990.6" fill="none" stroke="#0000ff" stroke-width="1.2"/>
<line x1="262.3" y1="990.6" x2="451" y2="990.6" stroke="#0000ff" stroke-width="1.1" stroke-dasharray="3.2 2.2"/>
<path d="M262 834.4H285.4M262 987.1H285.4" stroke="#000" stroke-width="1.5" fill="none"/>
<path d="M273.7 844.4V977.1" stroke="#000" stroke-width="2" fill="none"/>
<path d="M273.7 835.2L263.3 856L284.1 856ZM273.7 986.3L263.3 965.5L284.1 965.5Z" fill="#000"/>
<text x="244" y="826.9" style="font-size:24.5px">0.5 V</text>
<text class="b" x="286" y="946.7">Drug release</text>
<text x="313.4" y="1026.5">2 Hz, 5 s</text>
<text transform="translate(96 999.8) rotate(-90)" text-anchor="middle">PEDOT/SNP/Glu</text>
<text class="b" x="10.5" y="35.7" style="font-size:41.7px">a</text>
<text class="b" x="1189.5" y="35.2" style="font-size:41.7px">b</text>
<path d="M44.2 1081.5V1146.5H122.5" stroke="#000" stroke-width="3.4" fill="none" stroke-linejoin="miter"/>
<path d="M44.2 1061.5L33.8 1082.5L54.6 1082.5ZM142.5 1146.5L121.5 1136.1L121.5 1156.9Z" fill="#000"/>
<text class="b" transform="translate(22.3 1117.5) rotate(-90)" text-anchor="middle">40 µV</text>
<text class="b" x="83" y="1182.2" text-anchor="middle">2 s</text>
<path d="M634.9 908.7V1145.2H850.2" stroke="#000" stroke-width="3.4" fill="none" stroke-linejoin="miter"/>
<path d="M634.9 888.7L624.5 909.7L645.3 909.7ZM870.2 1145.2L849.2 1134.8L849.2 1155.6Z" fill="#000"/>
<text class="b" transform="translate(622 1016.5) rotate(-90)" text-anchor="middle">60 µV</text>
<text class="b" x="744" y="1177" text-anchor="middle">0.5 ms</text>
<defs>
<clipPath id="c1"><rect x="653.1" y="0" width="499.7" height="410"/></clipPath>
<clipPath id="c2"><rect x="653.1" y="400" width="499.7" height="410"/></clipPath>
<clipPath id="c3"><rect x="653.1" y="860" width="499.7" height="300"/></clipPath>
</defs>
<g clip-path="url(#c1)"><path transform="translate(648.8 179.2) scale(13.67 2.6)" vector-effect="non-scaling-stroke" d="M0 2L1 -4L2 -1L3 2L4 -1L5 4L6 5L7 12L8 31L9 49L10 71L11 80L12 69L13 44L14 17L15 -12L16 -29L17 -38L18 -46L19 -44L20 -42L21 -40L22 -41L23 -39L24 -36L25 -37L26 -35L27 -35L28 -30L29 -24L30 -11L31 -2L32 8L33 11L34 12L35 14L36 12L37 19M0 5L1 1L2 1L3 4L4 4L5 6L6 8L7 18L8 30L9 48L10 68L11 67L12 55L13 38L14 7L15 -16L16 -25L17 -32L18 -41L19 -39L20 -42L21 -47L22 -38L23 -43L24 -46L25 -41L26 -40L27 -32L28 -26L29 -22L30 -14L31 -7L32 -3L33 3L34 8L35 12L36 15L37 18M0 -1L1 -3L2 -1L3 2L4 2L5 1L6 5L7 12L8 26L9 47L10 60L11 67L12 40L13 7L14 -15L15 -26L16 -31L17 -41L18 -40L19 -44L20 -40L21 -36L22 -31L23 -27L24 -33L25 -30L26 -32L27 -28L28 -26L29 -23L30 -19L31 -14L32 -5L33 2L34 10L35 13L36 18L37 19M0 -5L1 -6L2 -4L3 0L4 2L5 -1L6 -2L7 5L8 11L9 23L10 47L11 53L12 51L13 47L14 25L15 3L16 -10L17 -19L18 -32L19 -39L20 -46L21 -42L22 -42L23 -44L24 -44L25 -45L26 -44L27 -36L28 -27L29 -25L30 -9L31 -6L32 0L33 3L34 -1L35 7L36 7L37 13M0 1L1 3L2 2L3 0L4 -2L5 -1L6 4L7 19L8 35L9 52L10 70L11 68L12 61L13 37L14 10L15 -8L16 -30L17 -36L18 -45L19 -52L20 -46L21 -45L22 -44L23 -45L24 -49L25 -51L26 -42L27 -35L28 -29L29 -22L30 -22L31 -16L32 -6L33 -4L34 7L35 16L36 20L37 24M0 7L1 2L2 0L3 -4L4 -7L5 -5L6 3L7 16L8 34L9 50L10 61L11 62L12 50L13 30L14 5L15 -13L16 -24L17 -33L18 -35L19 -45L20 -50L21 -52L22 -56L23 -51L24 -54L25 -49L26 -44L27 -41L28 -26L29 -23L30 -14L31 -5L32 -2L33 -1L34 2L35 5L36 8L37 23M0 8L1 4L2 1L3 2L4 -5L5 -7L6 -1L7 13L8 30L9 51L10 65L11 66L12 55L13 27L14 0L15 -25L16 -38L17 -41L18 -45L19 -45L20 -48L21 -56L22 -61L23 -53L24 -49L25 -41L26 -38L27 -37L28 -31L29 -24L30 -15L31 -13L32 -6L33 -2L34 5L35 15L36 20L37 22M0 -1L1 3L2 0L3 -5L4 -5L5 -7L6 -4L7 8L8 23L9 42L10 57L11 57L12 33L13 1L14 -19L15 -30L16 -39L17 -44L18 -44L19 -47L20 -44L21 -46L22 -45L23 -39L24 -37L25 -30L26 -29L27 -30L28 -28L29 -21L30 -18L31 -11L32 -1L33 -1L34 5L35 9L36 4L37 7M0 -9L1 -6L2 -3L3 5L4 9L5 12L6 16L7 16L8 27L9 40L10 55L11 64L12 56L13 29L14 5L15 -17L16 -31L17 -36L18 -41L19 -42L20 -44L21 -42L22 -39L23 -40L24 -34L25 -39L26 -37L27 -28L28 -24L29 -13L30 -6L31 -2L32 3L33 9L34 11L35 16L36 16L37 13M0 7L1 4L2 3L3 0L4 0L5 -4L6 2L7 11L8 25L9 38L10 49L11 49L12 33L13 12L14 -7L15 -22L16 -30L17 -31L18 -38L19 -44L20 -41L21 -40L22 -41L23 -36L24 -35L25 -35L26 -34L27 -36L28 -35L29 -30L30 -21L31 -12L32 -1L33 7L34 7L35 6L36 6L37 5M0 -8L1 -10L2 -5L3 2L4 6L5 7L6 8L7 12L8 21L9 39L10 55L11 67L12 59L13 35L14 11L15 -16L16 -24L17 -36L18 -41L19 -35L20 -42L21 -45L22 -45L23 -46L24 -45L25 -35L26 -34L27 -34L28 -32L29 -26L30 -14L31 -6L32 1L33 -3L34 2L35 9L36 16L37 22M0 -5L1 -5L2 -7L3 -10L4 -10L5 -8L6 0L7 16L8 32L9 53L10 67L11 63L12 56L13 31L14 9L15 -8L16 -22L17 -28L18 -37L19 -44L20 -47L21 -55L22 -55L23 -48L24 -49L25 -39L26 -38L27 -35L28 -33L29 -28L30 -19L31 -15L32 -3L33 -2L34 8L35 15L36 19L37 23M0 8L1 12L2 11L3 8L4 0L5 -3L6 2L7 14L8 30L9 45L10 62L11 66L12 51L13 29L14 -6L15 -26L16 -34L17 -44L18 -44L19 -47L20 -48L21 -47L22 -46L23 -38L24 -36L25 -37L26 -35L27 -38L28 -33L29 -27L30 -20L31 -13L32 -5L33 -3L34 2L35 9L36 9L37 17M0 -4L1 -3L2 -1L3 -1L4 0L5 6L6 11L7 20L8 32L9 42L10 57L11 61L12 36L13 7L14 -12L15 -23L16 -31L17 -33L18 -37L19 -36L20 -38L21 -43L22 -40L23 -37L24 -33L25 -30L26 -28L27 -26L28 -24L29 -21L30 -15L31 -11L32 -11L33 -5L34 0L35 2L36 11L37 12M0 -1L1 0L2 2L3 3L4 1L5 3L6 5L7 12L8 29L9 44L10 58L11 62L12 52L13 43L14 21L15 -2L16 -12L17 -23L18 -28L19 -37L20 -48L21 -53L22 -51L23 -47L24 -43L25 -42L26 -33L27 -37L28 -30L29 -16L30 -13L31 0L32 -1L33 2L34 2L35 5L36 10L37 7M0 0L1 4L2 2L3 -3L4 1L5 -3L6 2L7 14L8 28L9 48L10 71L11 71L12 61L13 33L14 3L15 -15L16 -35L17 -42L18 -45L19 -52L20 -50L21 -48L22 -42L23 -35L24 -33L25 -35L26 -39L27 -38L28 -30L29 -21L30 -12L31 -3L32 0L33 9L34 11L35 13L36 13L37 14M0 2L1 3L2 3L3 4L4 3L5 3L6 6L7 17L8 32L9 44L10 58L11 56L12 33L13 9L14 -9L15 -20L16 -25L17 -29L18 -34L19 -35L20 -34L21 -30L22 -28L23 -35L24 -35L25 -35L26 -35L27 -31L28 -27L29 -26L30 -25L31 -16L32 -8L33 0L34 12L35 16L36 14L37 18M0 8L1 6L2 -2L3 2L4 -2L5 -9L6 -1L7 6L8 20L9 43L10 58L11 65L12 49L13 22L14 -3L15 -22L16 -30L17 -36L18 -43L19 -42L20 -43L21 -41L22 -35L23 -35L24 -31L25 -34L26 -32L27 -30L28 -29L29 -22L30 -18L31 -8L32 -1L33 5L34 10L35 14L36 12L37 10M0 6L1 5L2 7L3 4L4 6L5 0L6 3L7 11L8 22L9 45L10 56L11 63L12 56L13 25L14 7L15 -9L16 -24L17 -32L18 -39L19 -47L20 -50L21 -47L22 -50L23 -46L24 -44L25 -39L26 -31L27 -26L28 -19L29 -18L30 -17L31 -8L32 -1L33 5L34 13L35 15L36 19L37 26M0 12L1 7L2 12L3 11L4 1L5 1L6 -3L7 0L8 17L9 32L10 44L11 50L12 39L13 20L14 1L15 -14L16 -22L17 -28L18 -32L19 -34L20 -30L21 -27L22 -31L23 -33L24 -39L25 -39L26 -35L27 -27L28 -23L29 -23L30 -21L31 -22L32 -16L33 -3L34 7L35 15L36 17L37 14M0 2L1 3L2 4L3 2L4 -2L5 1L6 6L7 19L8 32L9 44L10 56L11 58L12 48L13 21L14 -5L15 -23L16 -37L17 -47L18 -53L19 -55L20 -56L21 -47L22 -41L23 -37L24 -39L25 -42L26 -39L27 -33L28 -30L29 -20L30 -16L31 -11L32 -1L33 1L34 4L35 6L36 15L37 21M0 3L1 4L2 6L3 9L4 6L5 1L6 9L7 14L8 27L9 42L10 52L11 54L12 41L13 25L14 0L15 -14L16 -23L17 -29L18 -32L19 -38L20 -39L21 -44L22 -45L23 -42L24 -38L25 -34L26 -30L27 -32L28 -31L29 -27L30 -24L31 -12L32 -6L33 1L34 10L35 9L36 15L37 12M0 -3L1 -1L2 0L3 1L4 1L5 1L6 3L7 16L8 30L9 50L10 63L11 66L12 60L13 35L14 12L15 -10L16 -29L17 -41L18 -50L19 -52L20 -54L21 -53L22 -45L23 -43L24 -34L25 -33L26 -31L27 -30L28 -29L29 -21L30 -15L31 -5L32 1L33 4L34 9L35 14L36 18L37 21M0 1L1 -3L2 -8L3 -8L4 -3L5 3L6 11L7 17L8 31L9 49L10 59L11 62L12 50L13 29L14 5L15 -13L16 -24L17 -34L18 -34L19 -35L20 -39L21 -38L22 -40L23 -41L24 -41L25 -40L26 -33L27 -31L28 -23L29 -17L30 -20L31 -9L32 -7L33 0L34 7L35 5L36 10L37 11M0 6L1 5L2 6L3 5L4 4L5 2L6 -1L7 10L8 20L9 39L10 57L11 58L12 44L13 14L14 -8L15 -19L16 -24L17 -29L18 -34L19 -36L20 -41L21 -38L22 -37L23 -44L24 -39L25 -42L26 -41L27 -35L28 -29L29 -24L30 -16L31 -7L32 -4L33 -1L34 5L35 7L36 10L37 15M0 -3L1 2L2 0L3 4L4 2L5 3L6 6L7 14L8 32L9 44L10 65L11 67L12 41L13 18L14 -4L15 -16L16 -19L17 -29L18 -37L19 -38L20 -46L21 -51L22 -48L23 -49L24 -47L25 -42L26 -41L27 -38L28 -32L29 -26L30 -18L31 -10L32 -4L33 3L34 8L35 14L36 19L37 25M0 0L1 4L2 0L3 -2L4 2L5 -2L6 -1L7 10L8 25L9 47L10 64L11 67L12 46L13 19L14 -2L15 -21L16 -25L17 -32L18 -42L19 -45L20 -51L21 -49L22 -51L23 -47L24 -42L25 -42L26 -39L27 -35L28 -29L29 -22L30 -15L31 -12L32 -5L33 3L34 10L35 13L36 11L37 14M0 4L1 4L2 -2L3 -3L4 -5L5 -9L6 -1L7 10L8 18L9 36L10 49L11 51L12 48L13 28L14 6L15 -14L16 -26L17 -36L18 -44L19 -45L20 -51L21 -48L22 -42L23 -40L24 -38L25 -39L26 -38L27 -37L28 -28L29 -17L30 -10L31 1L32 2L33 3L34 7L35 12L36 15L37 19M0 -2L1 -1L2 2L3 1L4 -4L5 -3L6 -1L7 12L8 28L9 45L10 63L11 65L12 53L13 32L14 7L15 -14L16 -23L17 -27L18 -33L19 -36L20 -39L21 -41L22 -42L23 -40L24 -39L25 -37L26 -39L27 -37L28 -35L29 -31L30 -21L31 -15L32 -6L33 2L34 7L35 10L36 6L37 8M0 3L1 9L2 7L3 3L4 7L5 4L6 4L7 11L8 22L9 39L10 62L11 74L12 63L13 31L14 4L15 -14L16 -28L17 -39L18 -44L19 -51L20 -52L21 -49L22 -50L23 -49L24 -51L25 -43L26 -35L27 -35L28 -28L29 -24L30 -17L31 -6L32 0L33 1L34 2L35 7L36 11L37 17M0 -4L1 1L2 0L3 1L4 6L5 2L6 10L7 13L8 20L9 40L10 55L11 61L12 54L13 28L14 3L15 -11L16 -22L17 -25L18 -29L19 -32L20 -39L21 -44L22 -42L23 -41L24 -34L25 -31L26 -30L27 -31L28 -24L29 -13L30 -4L31 5L32 2L33 0L34 2L35 3L36 14L37 22M0 -5L1 -5L2 -4L3 3L4 3L5 1L6 7L7 12L8 31L9 49L10 61L11 65L12 56L13 34L14 13L15 -13L16 -29L17 -31L18 -36L19 -39L20 -37L21 -40L22 -47L23 -43L24 -48L25 -46L26 -36L27 -36L28 -29L29 -21L30 -20L31 -15L32 -17L33 -7L34 3L35 12L36 21L37 21M0 -6L1 -4L2 -2L3 0L4 5L5 2L6 9L7 15L8 23L9 41L10 61L11 68L12 61L13 30L14 -2L15 -21L16 -33L17 -30L18 -37L19 -43L20 -42L21 -46L22 -44L23 -41L24 -45L25 -44L26 -41L27 -36L28 -29L29 -25L30 -18L31 -13L32 -11L33 -3L34 5L35 13L36 20L37 26M0 2L1 -1L2 -3L3 -1L4 3L5 7L6 8L7 16L8 35L9 50L10 71L11 73L12 69L13 53L14 27L15 -1L16 -24L17 -33L18 -36L19 -39L20 -39L21 -41L22 -49L23 -52L24 -55L25 -50L26 -45L27 -39L28 -26L29 -20L30 -10L31 -5L32 -5L33 -1L34 6L35 12L36 15L37 13M0 8L1 4L2 7L3 4L4 0L5 2L6 3L7 22L8 35L9 59L10 75L11 73L12 60L13 25L14 0L15 -18L16 -33L17 -38L18 -42L19 -46L20 -46L21 -47L22 -47L23 -42L24 -41L25 -40L26 -40L27 -36L28 -32L29 -22L30 -10L31 -1L32 4L33 6L34 10L35 9L36 16L37 24M0 -10L1 -1L2 4L3 5L4 5L5 -1L6 0L7 9L8 25L9 44L10 61L11 64L12 47L13 19L14 -6L15 -23L16 -34L17 -40L18 -43L19 -41L20 -41L21 -44L22 -48L23 -49L24 -42L25 -39L26 -32L27 -31L28 -30L29 -23L30 -12L31 -4L32 -1L33 4L34 -1L35 3L36 9L37 11M0 -3L1 0L2 6L3 10L4 7L5 2L6 -2L7 11L8 29L9 45L10 64L11 63L12 33L13 3L14 -20L15 -42L16 -40L17 -45L18 -47L19 -43L20 -45L21 -40L22 -34L23 -35L24 -34L25 -30L26 -38L27 -37L28 -33L29 -35L30 -22L31 -11L32 -7L33 0L34 3L35 5L36 6L37 7M0 -8L1 -5L2 -4L3 -7L4 2L5 3L6 8L7 18L8 25L9 42L10 60L11 65L12 48L13 24L14 1L15 -17L16 -24L17 -31L18 -38L19 -39L20 -42L21 -38L22 -34L23 -34L24 -31L25 -30L26 -32L27 -25L28 -20L29 -20L30 -9L31 -5L32 -1L33 7L34 8L35 13L36 18L37 17M0 -2L1 -3L2 -4L3 -4L4 -2L5 -2L6 3L7 11L8 22L9 35L10 49L11 55L12 45L13 23L14 2L15 -13L16 -26L17 -35L18 -37L19 -42L20 -39L21 -37L22 -42L23 -39L24 -41L25 -40L26 -39L27 -36L28 -33L29 -25L30 -14L31 -8L32 -2L33 2L34 5L35 11L36 13L37 18M0 -2L1 1L2 -1L3 4L4 5L5 8L6 6L7 17L8 29L9 43L10 70L11 74L12 62L13 34L14 7L15 -19L16 -36L17 -42L18 -50L19 -50L20 -45L21 -44L22 -46L23 -46L24 -47L25 -45L26 -38L27 -33L28 -28L29 -18L30 -15L31 -5L32 0L33 3L34 7L35 13L36 18L37 16M0 3L1 3L2 9L3 0L4 -7L5 -5L6 -4L7 9L8 24L9 42L10 66L11 73L12 56L13 28L14 2L15 -18L16 -28L17 -34L18 -43L19 -44L20 -44L21 -47L22 -39L23 -42L24 -41L25 -37L26 -38L27 -33L28 -28L29 -24L30 -20L31 -12L32 -8L33 -3L34 4L35 9L36 16L37 21M0 -2L1 -4L2 -2L3 -4L4 0L5 3L6 6L7 12L8 24L9 39L10 59L11 65L12 67L13 53L14 25L15 1L16 -14L17 -25L18 -33L19 -34L20 -40L21 -42L22 -38L23 -38L24 -38L25 -32L26 -29L27 -29L28 -27L29 -22L30 -16L31 -11L32 -3L33 0L34 6L35 16L36 16L37 19M0 -6L1 -4L2 1L3 -1L4 -4L5 -2L6 5L7 13L8 27L9 47L10 58L11 65L12 48L13 15L14 -6L15 -24L16 -35L17 -38L18 -40L19 -41L20 -37L21 -39L22 -41L23 -40L24 -43L25 -37L26 -38L27 -35L28 -30L29 -21L30 -13L31 -8L32 -3L33 0L34 3L35 6L36 7L37 3M0 0L1 1L2 0L3 -1L4 3L5 1L6 7L7 16L8 27L9 42L10 56L11 56L12 45L13 31L14 11L15 -4L16 -15L17 -22L18 -31L19 -33L20 -37L21 -43L22 -44L23 -43L24 -38L25 -29L26 -25L27 -25L28 -21L29 -19L30 -18L31 -7L32 -5L33 -4L34 5L35 5L36 8L37 9M0 2L1 3L2 5L3 10L4 4L5 2L6 3L7 11L8 29L9 46L10 61L11 70L12 63L13 34L14 6L15 -9L16 -24L17 -31L18 -38L19 -41L20 -42L21 -40L22 -33L23 -37L24 -35L25 -32L26 -32L27 -29L28 -20L29 -18L30 -13L31 -7L32 -5L33 -2L34 7L35 9L36 11L37 16M0 -3L1 0L2 2L3 2L4 -4L5 -5L6 2L7 14L8 31L9 48L10 63L11 63L12 51L13 26L14 -5L15 -27L16 -38L17 -45L18 -50L19 -52L20 -54L21 -48L22 -41L23 -37L24 -31L25 -36L26 -32L27 -28L28 -26L29 -17L30 -10L31 -9L32 -4L33 7L34 12L35 22L36 24L37 18M0 -12L1 -12L2 -8L3 4L4 10L5 9L6 6L7 3L8 18L9 33L10 53L11 63L12 51L13 37L14 13L15 -5L16 -14L17 -27L18 -35L19 -43L20 -50L21 -47L22 -45L23 -39L24 -36L25 -36L26 -29L27 -29L28 -27L29 -22L30 -19L31 -16L32 -7L33 -1L34 8L35 11L36 12L37 15M0 8L1 8L2 11L3 15L4 7L5 5L6 5L7 14L8 35L9 53L10 68L11 68L12 46L13 18L14 -10L15 -26L16 -27L17 -33L18 -35L19 -40L20 -46L21 -47L22 -47L23 -43L24 -41L25 -39L26 -37L27 -37L28 -31L29 -22L30 -13L31 -4L32 2L33 1L34 5L35 10L36 15L37 22M0 6L1 7L2 7L3 1L4 -2L5 -4L6 1L7 13L8 28L9 49L10 67L11 66L12 54L13 20L14 -4L15 -25L16 -34L17 -36L18 -42L19 -38L20 -39L21 -40L22 -37L23 -39L24 -38L25 -33L26 -31L27 -25L28 -19L29 -13L30 -13L31 -9L32 -3L33 -4L34 3L35 4L36 9L37 18M0 3L1 11L2 13L3 13L4 11L5 3L6 3L7 5L8 20L9 37L10 52L11 61L12 42L13 14L14 -3L15 -22L16 -33L17 -40L18 -47L19 -42L20 -47L21 -47L22 -47L23 -43L24 -39L25 -37L26 -30L27 -36L28 -25L29 -17L30 -14L31 -1L32 0L33 0L34 4L35 2L36 7L37 15M0 3L1 3L2 7L3 -2L4 -5L5 -5L6 -8L7 8L8 30L9 47L10 67L11 71L12 53L13 23L14 -3L15 -17L16 -28L17 -29L18 -32L19 -35L20 -36L21 -38L22 -42L23 -46L24 -40L25 -36L26 -31L27 -29L28 -29L29 -24L30 -20L31 -13L32 -7L33 0L34 5L35 14L36 16L37 19M0 6L1 1L2 -1L3 -1L4 0L5 5L6 10L7 18L8 30L9 44L10 58L11 56L12 43L13 19L14 1L15 -12L16 -28L17 -36L18 -45L19 -42L20 -37L21 -38L22 -43L23 -44L24 -42L25 -40L26 -36L27 -34L28 -29L29 -25L30 -14L31 -6L32 1L33 13L34 13L35 14L36 14L37 14M0 -7L1 -8L2 -7L3 -3L4 -1L5 -3L6 6L7 14L8 25L9 43L10 49L11 51L12 50L13 38L14 18L15 -3L16 -21L17 -31L18 -33L19 -35L20 -38L21 -38L22 -41L23 -42L24 -40L25 -35L26 -30L27 -26L28 -21L29 -19L30 -17L31 -10L32 -8L33 -1L34 7L35 12L36 15L37 17M0 0L1 2L2 -1L3 -5L4 4L5 1L6 6L7 17L8 28L9 48L10 65L11 67L12 56L13 27L14 1L15 -16L16 -32L17 -37L18 -37L19 -35L20 -34L21 -34L22 -40L23 -44L24 -44L25 -47L26 -37L27 -33L28 -24L29 -12L30 -4L31 5L32 8L33 6L34 5L35 7L36 12L37 18M0 -5L1 -2L2 -5L3 -9L4 -2L5 -5L6 2L7 17L8 28L9 52L10 64L11 66L12 47L13 20L14 1L15 -17L16 -28L17 -35L18 -43L19 -44L20 -43L21 -44L22 -44L23 -49L24 -46L25 -42L26 -36L27 -30L28 -28L29 -26L30 -19L31 -15L32 -3L33 2L34 5L35 17L36 16L37 19M0 -2L1 -3L2 -1L3 -1L4 0L5 0L6 -2L7 -1L8 8L9 23L10 43L11 49L12 46L13 28L14 4L15 -6L16 -20L17 -34L18 -35L19 -42L20 -38L21 -35L22 -43L23 -40L24 -47L25 -41L26 -36L27 -34L28 -23L29 -22L30 -12L31 -3L32 -4L33 3L34 8L35 9L36 17L37 22M0 -2L1 -2L2 -9L3 -1L4 -4L5 -1L6 12L7 19L8 31L9 47L10 56L11 58L12 46L13 20L14 -3L15 -17L16 -28L17 -36L18 -39L19 -40L20 -41L21 -46L22 -48L23 -47L24 -50L25 -42L26 -32L27 -30L28 -23L29 -17L30 -15L31 -9L32 -1L33 0L34 5L35 9L36 11L37 17M0 6L1 4L2 7L3 7L4 5L5 7L6 5L7 14L8 21L9 35L10 61L11 61L12 45L13 15L14 -16L15 -26L16 -35L17 -37L18 -41L19 -47L20 -44L21 -46L22 -45L23 -45L24 -44L25 -45L26 -44L27 -37L28 -34L29 -24L30 -15L31 -1L32 12L33 13L34 16L35 15L36 11L37 18M0 -4L1 -3L2 0L3 0L4 -3L5 -3L6 -1L7 11L8 23L9 39L10 58L11 61L12 44L13 18L14 -3L15 -20L16 -30L17 -39L18 -49L19 -51L20 -51L21 -48L22 -45L23 -48L24 -49L25 -44L26 -37L27 -29L28 -23L29 -22L30 -16L31 -9L32 -8L33 -3L34 5L35 9L36 19L37 24M0 -4L1 -3L2 2L3 4L4 5L5 2L6 -4L7 5L8 17L9 39L10 57L11 59L12 40L13 6L14 -12L15 -22L16 -34L17 -38L18 -43L19 -48L20 -48L21 -46L22 -49L23 -38L24 -33L25 -34L26 -28L27 -33L28 -32L29 -25L30 -15L31 -4L32 4L33 9L34 11L35 11L36 10L37 17M0 -4L1 3L2 5L3 4L4 4L5 -1L6 3L7 13L8 28L9 40L10 56L11 56L12 43L13 20L14 -1L15 -17L16 -29L17 -37L18 -44L19 -44L20 -41L21 -40L22 -35L23 -35L24 -39L25 -36L26 -38L27 -39L28 -29L29 -26L30 -23L31 -16L32 -12L33 -9L34 2L35 12L36 14L37 20M0 3L1 1L2 2L3 -4L4 -1L5 -1L6 0L7 16L8 26L9 46L10 64L11 72L12 65L13 36L14 9L15 -15L16 -32L17 -40L18 -50L19 -50L20 -47L21 -47L22 -42L23 -43L24 -48L25 -43L26 -43L27 -42L28 -31L29 -30L30 -22L31 -12L32 -8L33 0L34 8L35 15L36 17L37 18M0 -9L1 -9L2 -5L3 -1L4 -1L5 -3L6 3L7 7L8 29L9 53L10 71L11 75L12 54L13 22L14 -10L15 -22L16 -36L17 -44L18 -46L19 -48L20 -47L21 -42L22 -47L23 -49L24 -48L25 -50L26 -42L27 -40L28 -32L29 -23L30 -14L31 -7L32 -4L33 0L34 0L35 7L36 9L37 9M0 1L1 -3L2 0L3 -2L4 -3L5 3L6 8L7 17L8 25L9 38L10 53L11 53L12 37L13 6L14 -13L15 -26L16 -33L17 -37L18 -47L19 -42L20 -43L21 -47L22 -43L23 -44L24 -43L25 -38L26 -33L27 -34L28 -30L29 -22L30 -16L31 -5L32 0L33 2L34 3L35 9L36 15L37 16M0 1L1 2L2 -1L3 -8L4 -4L5 -3L6 1L7 14L8 23L9 43L10 59L11 66L12 55L13 27L14 9L15 -9L16 -23L17 -34L18 -43L19 -45L20 -43L21 -43L22 -48L23 -53L24 -46L25 -43L26 -38L27 -32L28 -30L29 -26L30 -16L31 -2L32 3L33 5L34 4L35 3L36 8L37 15M0 1L1 0L2 3L3 -1L4 -6L5 -7L6 -3L7 6L8 23L9 38L10 52L11 57L12 47L13 20L14 -7L15 -21L16 -31L17 -35L18 -35L19 -39L20 -40L21 -44L22 -44L23 -40L24 -38L25 -37L26 -33L27 -33L28 -31L29 -23L30 -19L31 -11L32 -6L33 -2L34 1L35 5L36 10L37 13M0 0L1 -1L2 4L3 1L4 7L5 8L6 1L7 12L8 19L9 35L10 60L11 64L12 47L13 17L14 -5L15 -21L16 -27L17 -32L18 -45L19 -48L20 -48L21 -48L22 -39L23 -40L24 -41L25 -35L26 -32L27 -23L28 -17L29 -10L30 -8L31 -2L32 -1L33 -1L34 2L35 6L36 11L37 18M0 2L1 3L2 5L3 6L4 7L5 8L6 8L7 13L8 25L9 39L10 56L11 61L12 36L13 4L14 -19L15 -33L16 -39L17 -44L18 -49L19 -53L20 -52L21 -50L22 -47L23 -48L24 -46L25 -41L26 -36L27 -25L28 -20L29 -19L30 -9L31 -15L32 -7L33 2L34 3L35 16L36 19L37 22M0 7L1 11L2 6L3 5L4 2L5 0L6 2L7 16L8 25L9 35L10 47L11 42L12 25L13 -2L14 -17L15 -23L16 -30L17 -29L18 -32L19 -35L20 -35L21 -41L22 -41L23 -44L24 -46L25 -41L26 -34L27 -25L28 -20L29 -12L30 -15L31 -13L32 -3L33 -4L34 8L35 14L36 13L37 16M0 2L1 -6L2 -3L3 -3L4 -1L5 4L6 3L7 15L8 29L9 47L10 73L11 76L12 56L13 25L14 -4L15 -21L16 -31L17 -40L18 -44L19 -43L20 -44L21 -44L22 -44L23 -42L24 -42L25 -40L26 -40L27 -39L28 -35L29 -25L30 -12L31 -7L32 1L33 9L34 11L35 16L36 16L37 16M0 -13L1 -6L2 -4L3 2L4 4L5 -2L6 4L7 14L8 30L9 50L10 68L11 75L12 60L13 34L14 7L15 -15L16 -30L17 -39L18 -46L19 -53L20 -55L21 -55L22 -58L23 -53L24 -49L25 -42L26 -33L27 -31L28 -29L29 -28L30 -26L31 -19L32 -12L33 3L34 13L35 18L36 25L37 16M0 5L1 9L2 12L3 4L4 0L5 -5L6 -5L7 6L8 25L9 42L10 57L11 64L12 36L13 0L14 -17L15 -23L16 -32L17 -35L18 -40L19 -44L20 -44L21 -47L22 -40L23 -39L24 -37L25 -34L26 -41L27 -39L28 -35L29 -30L30 -20L31 -18L32 -10L33 -3L34 1L35 11L36 13L37 19M0 -8L1 -4L2 4L3 4L4 6L5 0L6 -2L7 14L8 30L9 56L10 73L11 73L12 54L13 16L14 -9L15 -30L16 -39L17 -37L18 -34L19 -35L20 -38L21 -47L22 -52L23 -51L24 -49L25 -41L26 -39L27 -35L28 -35L29 -30L30 -24L31 -13L32 0L33 6L34 14L35 19L36 24L37 28M0 3L1 7L2 9L3 9L4 14L5 11L6 9L7 19L8 27L9 42L10 63L11 63L12 47L13 21L14 -7L15 -22L16 -32L17 -36L18 -38L19 -37L20 -35L21 -40L22 -39L23 -42L24 -45L25 -42L26 -35L27 -29L28 -24L29 -18L30 -12L31 -10L32 -4L33 -2L34 0L35 4L36 5L37 10M0 -2L1 -1L2 5L3 1L4 -1L5 0L6 6L7 22L8 33L9 49L10 65L11 61L12 42L13 11L14 -17L15 -25L16 -35L17 -38L18 -37L19 -39L20 -38L21 -37L22 -38L23 -42L24 -45L25 -43L26 -41L27 -32L28 -24L29 -15L30 -10L31 -10L32 -4L33 2L34 5L35 13L36 15L37 14M0 2L1 1L2 2L3 1L4 -4L5 -3L6 -4L7 3L8 14L9 31L10 50L11 53L12 51L13 37L14 14L15 -6L16 -18L17 -26L18 -30L19 -33L20 -37L21 -40L22 -41L23 -37L24 -40L25 -38L26 -34L27 -27L28 -21L29 -15L30 -8L31 -9L32 -2L33 6L34 11L35 13L36 14L37 16M0 0L1 -2L2 1L3 5L4 1L5 1L6 0L7 6L8 26L9 43L10 64L11 65L12 53L13 33L14 4L15 -7L16 -15L17 -29L18 -32L19 -39L20 -42L21 -37L22 -37L23 -39L24 -36L25 -40L26 -44L27 -38L28 -37L29 -27L30 -16L31 -12L32 -8L33 -4L34 3L35 7L36 11L37 14M0 -10L1 -7L2 -6L3 -4L4 5L5 10L6 12L7 15L8 26L9 38L10 54L11 60L12 47L13 27L14 5L15 -10L16 -20L17 -25L18 -30L19 -36L20 -37L21 -38L22 -43L23 -39L24 -39L25 -40L26 -34L27 -32L28 -28L29 -20L30 -15L31 -6L32 0L33 3L34 10L35 9L36 14L37 19M0 -3L1 -8L2 -4L3 -4L4 -5L5 1L6 2L7 11L8 25L9 46L10 64L11 65L12 56L13 30L14 -3L15 -23L16 -33L17 -42L18 -36L19 -40L20 -42L21 -43L22 -49L23 -49L24 -44L25 -40L26 -36L27 -31L28 -28L29 -21L30 -15L31 -9L32 -7L33 -1L34 7L35 12L36 19L37 22M0 7L1 8L2 9L3 4L4 1L5 -1L6 -4L7 10L8 23L9 41L10 58L11 57L12 55L13 34L14 9L15 -12L16 -32L17 -42L18 -49L19 -48L20 -50L21 -48L22 -45L23 -43L24 -39L25 -38L26 -35L27 -28L28 -23L29 -13L30 -9L31 -10L32 -5L33 -4L34 2L35 6L36 11L37 15M0 5L1 4L2 3L3 -1L4 -6L5 -12L6 -5L7 9L8 31L9 53L10 64L11 66L12 42L13 8L14 -18L15 -34L16 -46L17 -46L18 -48L19 -45L20 -42L21 -43L22 -40L23 -43L24 -45L25 -43L26 -40L27 -37L28 -33L29 -29L30 -21L31 -14L32 -7L33 -4L34 -3L35 7L36 11L37 16M0 4L1 1L2 3L3 -5L4 -8L5 -9L6 -3L7 6L8 23L9 41L10 56L11 63L12 46L13 10L14 -11L15 -23L16 -34L17 -35L18 -40L19 -49L20 -50L21 -46L22 -45L23 -40L24 -39L25 -42L26 -38L27 -38L28 -35L29 -29L30 -29L31 -22L32 -14L33 -5L34 10L35 16L36 18L37 18M0 9L1 2L2 -2L3 0L4 5L5 8L6 16L7 22L8 29L9 49L10 64L11 67L12 60L13 37L14 9L15 -16L16 -31L17 -41L18 -48L19 -40L20 -41L21 -41L22 -35L23 -45L24 -41L25 -46L26 -44L27 -35L28 -35L29 -22L30 -13L31 -5L32 9L33 16L34 14L35 19L36 21L37 19M0 -2L1 -2L2 0L3 1L4 -1L5 0L6 -1L7 8L8 22L9 42L10 59L11 71L12 68L13 48L14 28L15 4L16 -13L17 -28L18 -39L19 -49L20 -50L21 -50L22 -48L23 -43L24 -40L25 -29L26 -26L27 -26L28 -24L29 -23L30 -19L31 -15L32 -9L33 -6L34 -1L35 6L36 14L37 15M0 -6L1 -3L2 3L3 2L4 0L5 1L6 1L7 5L8 20L9 35L10 58L11 69L12 66L13 47L14 20L15 -6L16 -24L17 -33L18 -44L19 -47L20 -53L21 -51L22 -46L23 -46L24 -39L25 -42L26 -43L27 -37L28 -43L29 -36L30 -28L31 -22L32 -7L33 2L34 7L35 13L36 12L37 14M0 3L1 -1L2 1L3 6L4 7L5 14L6 14L7 18L8 32L9 41L10 56L11 59L12 53L13 45L14 20L15 -3L16 -21L17 -30L18 -33L19 -39L20 -41L21 -46L22 -46L23 -37L24 -37L25 -33L26 -32L27 -37L28 -27L29 -23L30 -15L31 -4L32 -4L33 6L34 10L35 15L36 17L37 16M0 -1L1 2L2 3L3 3L4 10L5 4L6 7L7 11L8 25L9 45L10 59L11 68L12 65L13 54L14 32L15 6L16 -20L17 -35L18 -49L19 -50L20 -49L21 -45L22 -43L23 -45L24 -46L25 -45L26 -38L27 -37L28 -25L29 -18L30 -11L31 -2L32 0L33 7L34 13L35 18L36 23L37 24M0 -5L1 -5L2 2L3 3L4 5L5 3L6 8L7 15L8 28L9 44L10 59L11 62L12 51L13 25L14 1L15 -16L16 -33L17 -41L18 -48L19 -49L20 -48L21 -49L22 -47L23 -45L24 -43L25 -40L26 -40L27 -38L28 -33L29 -29L30 -21L31 -13L32 -16L33 -5L34 1L35 1L36 13L37 13M0 7L1 3L2 -1L3 -3L4 -9L5 -2L6 2L7 9L8 24L9 35L10 50L11 54L12 41L13 18L14 1L15 -15L16 -16L17 -23L18 -37L19 -42L20 -44L21 -41L22 -40L23 -36L24 -38L25 -36L26 -28L27 -25L28 -23L29 -21L30 -20L31 -17L32 -11L33 -3L34 6L35 14L36 19L37 17M0 -6L1 -1L2 1L3 6L4 5L5 2L6 5L7 8L8 27L9 43L10 55L11 59L12 34L13 6L14 -15L15 -29L16 -35L17 -37L18 -36L19 -35L20 -33L21 -39L22 -42L23 -41L24 -42L25 -32L26 -34L27 -34L28 -25L29 -24L30 -14L31 -7L32 -4L33 5L34 12L35 16L36 17L37 15M0 -3L1 -7L2 1L3 2L4 3L5 7L6 7L7 11L8 26L9 38L10 50L11 59L12 57L13 49L14 27L15 1L16 -19L17 -31L18 -31L19 -37L20 -34L21 -31L22 -31L23 -32L24 -38L25 -39L26 -38L27 -34L28 -29L29 -21L30 -19L31 -14L32 -5L33 -4L34 2L35 12L36 10L37 13M0 -5L1 -6L2 -9L3 -4L4 -5L5 -5L6 4L7 14L8 33L9 49L10 64L11 68L12 57L13 35L14 13L15 -7L16 -24L17 -30L18 -37L19 -38L20 -40L21 -40L22 -43L23 -47L24 -42L25 -40L26 -32L27 -27L28 -23L29 -22L30 -21L31 -14L32 -8L33 0L34 8L35 10L36 10L37 14M0 -5L1 -6L2 -7L3 -6L4 3L5 6L6 6L7 15L8 27L9 40L10 54L11 56L12 46L13 24L14 8L15 -8L16 -16L17 -19L18 -25L19 -29L20 -35L21 -40L22 -39L23 -38L24 -32L25 -29L26 -28L27 -25L28 -24L29 -16L30 -16L31 -10L32 -8L33 -8L34 6L35 11L36 13L37 15M0 -2L1 -5L2 -1L3 0L4 4L5 3L6 4L7 4L8 17L9 36L10 51L11 62L12 54L13 41L14 15L15 -8L16 -21L17 -35L18 -36L19 -41L20 -45L21 -40L22 -39L23 -40L24 -36L25 -41L26 -42L27 -38L28 -34L29 -25L30 -16L31 -7L32 -7L33 -2L34 1L35 5L36 16L37 19M0 -5L1 2L2 5L3 7L4 2L5 -1L6 2L7 15L8 27L9 44L10 65L11 68L12 50L13 20L14 -9L15 -25L16 -28L17 -36L18 -40L19 -45L20 -52L21 -52L22 -48L23 -47L24 -43L25 -40L26 -40L27 -35L28 -29L29 -25L30 -19L31 -11L32 -4L33 0L34 3L35 9L36 8L37 13M12 58L13 34.92L14 -37.77L15 -46.42L16 -33.15L17 -18.92L18 -12.38L19 -15.08L20 -19.69L21 -23.54L22 -28.54L23 -34.31L24 -38.15L25 -37L26 -32.38M14 -7.38L15 0.69L16 6.27L17 4.15L18 -5.08L19 -12.96L20 -11.23L21 -4.69L22 0.69L23 0.69L24 -1.62L25 -6.23L26 -11.23L27 -15.08L28 -19.69L29 -23.54M15 -11.23L16 -25.85L17 -27.38L18 -30.46L19 -23.92L20 -22.96L21 -25.85L22 -29.31L23 -32L24 -27.77L25 -22.77L26 -22.77L27 -27.38L28 -33.54M16 -28.54L17 -18.92L18 -13.15L19 -14.69L20 -18.54L21 -20.08L22 -15.46L23 -11.62L24 -10.08L25 -8.54L26 -4.69L27 -4.69L28 -11.23L29 -15.46L30 -15.46M28 -30.46L29 -20.85L30 -4.31L31 14.54L32 21.46L33 9.92L34 0.31L35 -1.62" fill="none" stroke="#ff0000" stroke-width="0.85" stroke-opacity="1.0" stroke-linejoin="round"/></g>
<polyline clip-path="url(#c1)" points="648.8,179.2 662.5,179.2 676.1,181 689.8,181 703.5,179.5 717.1,177.9 730.8,186 744.5,208.8 758.2,246.3 771.8,291.5 785.5,336.2 799.2,347.7 812.8,318 826.5,249.4 840.2,182.3 853.8,135.5 867.5,105.8 881.2,87.1 894.9,75 908.5,67.1 922.2,63.7 935.9,63.1 949.5,64 963.2,65.9 976.9,69.9 990.5,76.8 1004.2,84.9 1017.9,94 1031.6,104.9 1045.2,119.3 1058.9,135.5 1072.6,151.7 1086.2,166.7 1099.9,180.7 1113.6,193.8 1127.2,205.7 1140.9,215.1 1154.6,222.3" fill="none" stroke="#0000ff" stroke-width="2.3" stroke-linejoin="round"/>
<g clip-path="url(#c2)"><path transform="translate(648.8 587.6) scale(13.67 2.6)" vector-effect="non-scaling-stroke" d="M0 0L1 -1L2 -2L3 1L4 0L5 6L6 8L7 14L8 26L9 37L10 57L11 67L12 56L13 29L14 2L15 -23L16 -33L17 -39L18 -44L19 -47L20 -52L21 -51L22 -52L23 -51L24 -48L25 -40L26 -34L27 -31L28 -28L29 -26L30 -18L31 -9L32 0L33 2L34 2L35 9L36 11L37 17M0 5L1 3L2 4L3 0L4 0L5 2L6 4L7 8L8 21L9 34L10 45L11 57L12 56L13 38L14 20L15 -3L16 -21L17 -29L18 -38L19 -48L20 -49L21 -47L22 -41L23 -27L24 -27L25 -27L26 -30L27 -35L28 -31L29 -26L30 -19L31 -15L32 -9L33 -10L34 -8L35 3L36 9L37 16M0 -7L1 -8L2 -3L3 0L4 1L5 3L6 2L7 8L8 21L9 44L10 67L11 72L12 58L13 28L14 -4L15 -20L16 -33L17 -46L18 -46L19 -52L20 -50L21 -47L22 -51L23 -51L24 -51L25 -47L26 -41L27 -35L28 -27L29 -18L30 -15L31 -7L32 -6L33 0L34 8L35 10L36 18L37 19M0 -3L1 -2L2 -3L3 -1L4 1L5 -1L6 6L7 11L8 24L9 44L10 56L11 61L12 45L13 15L14 -7L15 -24L16 -35L17 -42L18 -48L19 -52L20 -54L21 -52L22 -47L23 -47L24 -43L25 -42L26 -37L27 -27L28 -20L29 -17L30 -17L31 -16L32 -16L33 -8L34 2L35 7L36 13L37 14M0 -5L1 1L2 2L3 4L4 6L5 5L6 7L7 11L8 21L9 42L10 62L11 70L12 61L13 28L14 2L15 -18L16 -32L17 -35L18 -40L19 -43L20 -42L21 -44L22 -47L23 -46L24 -46L25 -42L26 -36L27 -35L28 -30L29 -27L30 -17L31 -13L32 -3L33 1L34 0L35 11L36 14L37 19M0 -2L1 -7L2 -3L3 0L4 1L5 2L6 5L7 6L8 20L9 41L10 59L11 67L12 62L13 42L14 16L15 -3L16 -23L17 -32L18 -42L19 -49L20 -53L21 -55L22 -53L23 -50L24 -45L25 -40L26 -31L27 -27L28 -25L29 -20L30 -19L31 -13L32 -7L33 -4L34 2L35 8L36 15L37 23M0 4L1 3L2 2L3 2L4 -1L5 2L6 1L7 8L8 27L9 43L10 68L11 75L12 62L13 38L14 10L15 -14L16 -31L17 -40L18 -49L19 -51L20 -52L21 -57L22 -53L23 -47L24 -49L25 -45L26 -43L27 -44L28 -32L29 -25L30 -17L31 -8L32 -2L33 2L34 6L35 9L36 7L37 10M0 -4L1 1L2 6L3 9L4 15L5 13L6 8L7 10L8 18L9 33L10 57L11 66L12 67L13 49L14 22L15 4L16 -17L17 -28L18 -35L19 -43L20 -54L21 -54L22 -55L23 -54L24 -45L25 -38L26 -29L27 -24L28 -22L29 -22L30 -18L31 -15L32 -9L33 -6L34 0L35 7L36 16L37 25M0 -1L1 3L2 6L3 7L4 3L5 4L6 7L7 15L8 36L9 56L10 73L11 80L12 52L13 14L14 -15L15 -38L16 -47L17 -53L18 -51L19 -52L20 -50L21 -51L22 -56L23 -50L24 -48L25 -41L26 -35L27 -32L28 -31L29 -28L30 -21L31 -14L32 0L33 9L34 17L35 23L36 24L37 26M0 -5L1 -3L2 -2L3 3L4 4L5 0L6 3L7 14L8 27L9 48L10 63L11 61L12 48L13 17L14 -7L15 -19L16 -31L17 -32L18 -34L19 -39L20 -42L21 -46L22 -49L23 -53L24 -52L25 -49L26 -43L27 -33L28 -29L29 -28L30 -19L31 -11L32 -5L33 7L34 9L35 15L36 22L37 27M0 1L1 3L2 4L3 7L4 3L5 1L6 -1L7 6L8 25L9 44L10 63L11 73L12 60L13 32L14 7L15 -15L16 -29L17 -35L18 -43L19 -51L20 -50L21 -54L22 -52L23 -50L24 -47L25 -39L26 -35L27 -32L28 -28L29 -25L30 -19L31 -12L32 -11L33 -4L34 2L35 6L36 11L37 13M0 1L1 4L2 7L3 7L4 6L5 -1L6 -2L7 7L8 24L9 45L10 64L11 74L12 61L13 44L14 21L15 -9L16 -23L17 -33L18 -42L19 -42L20 -47L21 -48L22 -47L23 -45L24 -39L25 -36L26 -29L27 -28L28 -26L29 -18L30 -15L31 -6L32 4L33 6L34 9L35 10L36 6L37 11M0 -1L1 0L2 2L3 -4L4 -3L5 -6L6 -5L7 9L8 22L9 43L10 62L11 66L12 60L13 40L14 14L15 -8L16 -28L17 -35L18 -40L19 -42L20 -43L21 -49L22 -53L23 -50L24 -52L25 -47L26 -39L27 -39L28 -29L29 -21L30 -16L31 -9L32 -6L33 1L34 13L35 15L36 19L37 17M0 3L1 -2L2 1L3 -2L4 1L5 8L6 7L7 14L8 22L9 35L10 54L11 64L12 58L13 33L14 3L15 -17L16 -37L17 -43L18 -47L19 -54L20 -51L21 -46L22 -43L23 -40L24 -42L25 -43L26 -39L27 -32L28 -27L29 -19L30 -14L31 -10L32 -5L33 -3L34 -2L35 5L36 14L37 19M0 -2L1 -4L2 0L3 -3L4 -3L5 0L6 0L7 13L8 24L9 40L10 61L11 67L12 59L13 36L14 9L15 -14L16 -30L17 -37L18 -45L19 -48L20 -48L21 -50L22 -50L23 -50L24 -48L25 -41L26 -34L27 -26L28 -25L29 -25L30 -24L31 -22L32 -15L33 -7L34 0L35 6L36 14L37 22M0 3L1 -1L2 4L3 4L4 4L5 3L6 4L7 9L8 22L9 37L10 51L11 60L12 56L13 46L14 28L15 3L16 -17L17 -25L18 -36L19 -41L20 -44L21 -47L22 -47L23 -47L24 -43L25 -37L26 -35L27 -31L28 -30L29 -23L30 -10L31 -4L32 1L33 1L34 1L35 9L36 18L37 20M0 -1L1 3L2 1L3 1L4 -1L5 -2L6 -1L7 7L8 19L9 35L10 56L11 60L12 54L13 32L14 7L15 -11L16 -26L17 -31L18 -39L19 -45L20 -49L21 -53L22 -53L23 -54L24 -51L25 -47L26 -42L27 -35L28 -30L29 -26L30 -22L31 -15L32 -7L33 1L34 6L35 8L36 13L37 18M0 3L1 1L2 -1L3 0L4 0L5 3L6 6L7 12L8 28L9 46L10 63L11 71L12 63L13 40L14 17L15 -4L16 -21L17 -29L18 -37L19 -42L20 -44L21 -44L22 -43L23 -41L24 -43L25 -42L26 -38L27 -38L28 -31L29 -26L30 -22L31 -16L32 -6L33 -1L34 8L35 13L36 16L37 21M0 -2L1 -1L2 2L3 3L4 6L5 6L6 14L7 24L8 35L9 54L10 67L11 66L12 50L13 25L14 -3L15 -21L16 -35L17 -40L18 -41L19 -44L20 -47L21 -49L22 -46L23 -39L24 -33L25 -32L26 -31L27 -32L28 -27L29 -23L30 -18L31 -10L32 -3L33 3L34 6L35 8L36 7L37 15M0 0L1 0L2 -1L3 2L4 0L5 7L6 8L7 15L8 27L9 37L10 55L11 62L12 52L13 24L14 -3L15 -21L16 -32L17 -34L18 -42L19 -45L20 -48L21 -53L22 -48L23 -49L24 -47L25 -40L26 -34L27 -25L28 -21L29 -19L30 -12L31 -11L32 -7L33 -1L34 -1L35 6L36 18L37 21M0 1L1 -2L2 -1L3 1L4 5L5 4L6 3L7 10L8 18L9 42L10 62L11 67L12 56L13 24L14 2L15 -19L16 -35L17 -41L18 -50L19 -56L20 -59L21 -54L22 -56L23 -53L24 -48L25 -41L26 -33L27 -24L28 -23L29 -20L30 -18L31 -17L32 -5L33 -4L34 3L35 6L36 10L37 16M0 -1L1 1L2 3L3 -1L4 -3L5 -1L6 1L7 12L8 28L9 43L10 65L11 72L12 63L13 41L14 12L15 -15L16 -32L17 -44L18 -51L19 -54L20 -55L21 -57L22 -57L23 -54L24 -54L25 -50L26 -46L27 -42L28 -38L29 -30L30 -23L31 -18L32 -12L33 -5L34 1L35 11L36 20L37 26M0 -2L1 3L2 5L3 2L4 3L5 2L6 6L7 11L8 21L9 34L10 49L11 69L12 66L13 58L14 33L15 4L16 -12L17 -27L18 -32L19 -40L20 -47L21 -49L22 -48L23 -43L24 -42L25 -36L26 -34L27 -31L28 -26L29 -27L30 -22L31 -11L32 -5L33 3L34 12L35 13L36 19L37 25M0 4L1 7L2 7L3 7L4 6L5 3L6 8L7 17L8 26L9 40L10 52L11 55L12 46L13 29L14 9L15 -8L16 -21L17 -31L18 -36L19 -38L20 -39L21 -44L22 -44L23 -46L24 -45L25 -34L26 -33L27 -33L28 -28L29 -25L30 -18L31 -10L32 -7L33 -3L34 -1L35 5L36 10L37 12M0 2L1 6L2 4L3 2L4 4L5 2L6 4L7 14L8 29L9 49L10 69L11 73L12 64L13 34L14 1L15 -16L16 -29L17 -35L18 -37L19 -48L20 -54L21 -54L22 -55L23 -52L24 -49L25 -49L26 -43L27 -36L28 -32L29 -20L30 -17L31 -10L32 -3L33 3L34 11L35 13L36 18L37 18M0 4L1 2L2 6L3 11L4 8L5 8L6 4L7 13L8 29L9 50L10 66L11 67L12 57L13 29L14 6L15 -16L16 -32L17 -40L18 -46L19 -48L20 -52L21 -58L22 -56L23 -58L24 -57L25 -51L26 -47L27 -39L28 -34L29 -22L30 -18L31 -12L32 -1L33 0L34 9L35 18L36 21L37 22M0 4L1 2L2 0L3 -2L4 0L5 -1L6 1L7 10L8 24L9 47L10 62L11 68L12 56L13 25L14 3L15 -13L16 -30L17 -35L18 -38L19 -44L20 -44L21 -44L22 -45L23 -42L24 -36L25 -36L26 -34L27 -37L28 -38L29 -27L30 -22L31 -10L32 -4L33 -4L34 5L35 11L36 15L37 20M0 2L1 -1L2 3L3 1L4 -1L5 1L6 -2L7 6L8 23L9 36L10 58L11 70L12 55L13 30L14 0L15 -22L16 -35L17 -42L18 -47L19 -48L20 -50L21 -53L22 -53L23 -51L24 -50L25 -43L26 -43L27 -41L28 -36L29 -33L30 -21L31 -11L32 -7L33 -4L34 -5L35 -3L36 8L37 10M0 4L1 3L2 2L3 1L4 4L5 5L6 11L7 18L8 32L9 49L10 64L11 73L12 56L13 27L14 -2L15 -20L16 -33L17 -42L18 -41L19 -48L20 -51L21 -49L22 -50L23 -45L24 -39L25 -37L26 -36L27 -33L28 -30L29 -26L30 -18L31 -15L32 -11L33 -2L34 3L35 7L36 11L37 14M0 7L1 5L2 8L3 9L4 8L5 4L6 1L7 4L8 18L9 40L10 67L11 75L12 65L13 31L14 -2L15 -25L16 -39L17 -44L18 -52L19 -59L20 -60L21 -59L22 -55L23 -46L24 -47L25 -43L26 -43L27 -39L28 -35L29 -32L30 -26L31 -20L32 -10L33 -2L34 5L35 12L36 12L37 20M0 0L1 -5L2 -7L3 -5L4 -1L5 0L6 7L7 17L8 30L9 44L10 60L11 64L12 62L13 48L14 29L15 7L16 -12L17 -22L18 -36L19 -41L20 -54L21 -57L22 -52L23 -52L24 -39L25 -35L26 -33L27 -26L28 -27L29 -23L30 -17L31 -14L32 -6L33 0L34 11L35 16L36 23L37 28M0 -10L1 -8L2 -2L3 0L4 3L5 4L6 6L7 14L8 29L9 47L10 66L11 76L12 62L13 35L14 9L15 -17L16 -30L17 -44L18 -48L19 -48L20 -50L21 -46L22 -47L23 -47L24 -48L25 -50L26 -45L27 -44L28 -35L29 -24L30 -23L31 -14L32 -11L33 -8L34 2L35 11L36 15L37 21M0 2L1 2L2 6L3 8L4 5L5 8L6 6L7 11L8 21L9 37L10 57L11 64L12 55L13 31L14 1L15 -21L16 -32L17 -39L18 -40L19 -40L20 -45L21 -42L22 -41L23 -38L24 -33L25 -36L26 -36L27 -35L28 -34L29 -27L30 -21L31 -13L32 -8L33 -1L34 3L35 12L36 21L37 21M0 1L1 -4L2 -8L3 -8L4 -9L5 -2L6 2L7 12L8 25L9 41L10 60L11 65L12 50L13 22L14 -7L15 -21L16 -32L17 -40L18 -47L19 -56L20 -60L21 -58L22 -54L23 -50L24 -45L25 -41L26 -35L27 -26L28 -19L29 -14L30 -9L31 -6L32 -6L33 -3L34 0L35 7L36 14L37 20M0 8L1 3L2 -1L3 0L4 -1L5 5L6 6L7 8L8 26L9 42L10 65L11 77L12 62L13 37L14 7L15 -14L16 -31L17 -40L18 -46L19 -49L20 -48L21 -56L22 -53L23 -55L24 -59L25 -54L26 -53L27 -44L28 -36L29 -32L30 -24L31 -18L32 -10L33 1L34 9L35 11L36 17L37 21M0 -3L1 -1L2 2L3 1L4 -4L5 -3L6 -1L7 10L8 31L9 49L10 66L11 73L12 60L13 28L14 3L15 -20L16 -37L17 -39L18 -50L19 -58L20 -60L21 -63L22 -59L23 -54L24 -50L25 -48L26 -39L27 -37L28 -25L29 -22L30 -18L31 -10L32 -10L33 2L34 7L35 14L36 21L37 24M0 4L1 6L2 11L3 7L4 5L5 4L6 -1L7 10L8 29L9 46L10 72L11 80L12 68L13 40L14 10L15 -19L16 -35L17 -42L18 -49L19 -49L20 -51L21 -52L22 -52L23 -52L24 -46L25 -41L26 -31L27 -25L28 -21L29 -16L30 -13L31 -7L32 -4L33 -2L34 1L35 5L36 15L37 17M0 -4L1 -2L2 1L3 5L4 9L5 8L6 9L7 13L8 24L9 38L10 56L11 71L12 67L13 42L14 17L15 -11L16 -30L17 -37L18 -40L19 -49L20 -52L21 -54L22 -59L23 -51L24 -48L25 -46L26 -33L27 -33L28 -29L29 -24L30 -24L31 -21L32 -13L33 -7L34 -2L35 11L36 13L37 20M0 -2L1 -3L2 -2L3 2L4 8L5 7L6 7L7 14L8 26L9 46L10 67L11 80L12 73L13 50L14 19L15 -11L16 -30L17 -39L18 -41L19 -43L20 -44L21 -47L22 -46L23 -46L24 -48L25 -44L26 -39L27 -41L28 -36L29 -31L30 -25L31 -14L32 -15L33 -12L34 -6L35 5L36 22L37 32M0 -5L1 1L2 5L3 6L4 8L5 4L6 4L7 11L8 21L9 38L10 55L11 62L12 53L13 30L14 9L15 -11L16 -25L17 -34L18 -35L19 -40L20 -45L21 -46L22 -47L23 -45L24 -42L25 -41L26 -38L27 -34L28 -32L29 -22L30 -18L31 -11L32 0L33 3L34 14L35 20L36 21L37 25M0 0L1 -1L2 -6L3 -8L4 -6L5 -8L6 5L7 15L8 33L9 52L10 65L11 70L12 54L13 32L14 13L15 -9L16 -20L17 -29L18 -36L19 -42L20 -41L21 -46L22 -48L23 -45L24 -49L25 -41L26 -34L27 -34L28 -20L29 -17L30 -12L31 -3L32 -2L33 1L34 6L35 7L36 15L37 21M0 -6L1 -3L2 -4L3 0L4 2L5 2L6 9L7 13L8 32L9 50L10 69L11 81L12 66L13 40L14 12L15 -8L16 -25L17 -32L18 -34L19 -44L20 -44L21 -47L22 -53L23 -53L24 -49L25 -45L26 -36L27 -30L28 -26L29 -21L30 -17L31 -11L32 -10L33 -4L34 2L35 9L36 20L37 24M0 1L1 -4L2 1L3 1L4 3L5 2L6 0L7 10L8 24L9 45L10 66L11 72L12 59L13 32L14 5L15 -17L16 -32L17 -38L18 -42L19 -48L20 -47L21 -55L22 -53L23 -49L24 -50L25 -39L26 -37L27 -30L28 -25L29 -23L30 -18L31 -14L32 -6L33 -1L34 3L35 10L36 17L37 22M0 -5L1 0L2 3L3 1L4 0L5 0L6 2L7 13L8 30L9 48L10 70L11 76L12 65L13 39L14 12L15 -9L16 -26L17 -38L18 -44L19 -48L20 -50L21 -47L22 -50L23 -49L24 -44L25 -40L26 -36L27 -33L28 -25L29 -22L30 -13L31 -2L32 2L33 3L34 6L35 11L36 12L37 20M0 2L1 2L2 -1L3 -1L4 -3L5 -3L6 5L7 18L8 34L9 50L10 65L11 72L12 64L13 38L14 15L15 -10L16 -30L17 -34L18 -43L19 -51L20 -50L21 -55L22 -54L23 -51L24 -47L25 -43L26 -38L27 -32L28 -30L29 -24L30 -18L31 -17L32 -8L33 -3L34 2L35 10L36 17L37 19M0 1L1 5L2 8L3 7L4 7L5 2L6 0L7 8L8 20L9 39L10 58L11 62L12 58L13 31L14 10L15 -11L16 -33L17 -38L18 -42L19 -45L20 -41L21 -40L22 -46L23 -38L24 -42L25 -43L26 -32L27 -28L28 -21L29 -9L30 -6L31 -2L32 4L33 5L34 10L35 13L36 16L37 22M0 8L1 4L2 -1L3 0L4 -5L5 -2L6 5L7 13L8 32L9 50L10 70L11 80L12 61L13 32L14 1L15 -15L16 -23L17 -31L18 -40L19 -46L20 -51L21 -59L22 -51L23 -49L24 -46L25 -41L26 -45L27 -36L28 -34L29 -24L30 -14L31 -14L32 -1L33 4L34 10L35 17L36 18L37 21M0 -2L1 -3L2 2L3 3L4 3L5 0L6 0L7 7L8 18L9 38L10 64L11 69L12 58L13 35L14 5L15 -11L16 -26L17 -37L18 -40L19 -48L20 -51L21 -53L22 -53L23 -52L24 -46L25 -44L26 -42L27 -38L28 -35L29 -24L30 -15L31 -6L32 -2L33 1L34 2L35 8L36 16L37 24M0 -4L1 -7L2 -5L3 -5L4 -4L5 5L6 6L7 14L8 25L9 36L10 48L11 56L12 52L13 27L14 9L15 -13L16 -28L17 -30L18 -33L19 -40L20 -41L21 -44L22 -48L23 -42L24 -42L25 -38L26 -38L27 -32L28 -27L29 -25L30 -16L31 -14L32 -8L33 -1L34 7L35 11L36 15L37 20M0 4L1 4L2 5L3 2L4 -1L5 0L6 1L7 6L8 21L9 41L10 61L11 72L12 65L13 39L14 13L15 -12L16 -30L17 -38L18 -44L19 -45L20 -50L21 -55L22 -57L23 -55L24 -48L25 -40L26 -37L27 -35L28 -28L29 -25L30 -18L31 -10L32 -5L33 4L34 9L35 14L36 21L37 22M0 -4L1 0L2 5L3 8L4 6L5 8L6 3L7 12L8 25L9 41L10 59L11 66L12 58L13 34L14 9L15 -14L16 -30L17 -36L18 -40L19 -43L20 -44L21 -49L22 -48L23 -45L24 -43L25 -42L26 -39L27 -35L28 -34L29 -30L30 -26L31 -24L32 -14L33 -5L34 4L35 12L36 15L37 18M0 -2L1 -5L2 -2L3 -5L4 -6L5 -5L6 1L7 11L8 32L9 47L10 59L11 66L12 58L13 45L14 24L15 0L16 -16L17 -27L18 -33L19 -34L20 -41L21 -43L22 -42L23 -48L24 -44L25 -41L26 -42L27 -33L28 -28L29 -24L30 -15L31 -11L32 -6L33 1L34 2L35 9L36 17L37 17M0 -4L1 -1L2 0L3 -1L4 -4L5 -7L6 -6L7 3L8 21L9 41L10 63L11 67L12 55L13 25L14 -6L15 -27L16 -37L17 -42L18 -43L19 -44L20 -50L21 -48L22 -48L23 -48L24 -47L25 -45L26 -42L27 -35L28 -32L29 -27L30 -21L31 -19L32 -9L33 -4L34 1L35 12L36 17L37 22M0 0L1 3L2 4L3 7L4 5L5 6L6 7L7 11L8 24L9 38L10 56L11 66L12 62L13 42L14 15L15 -12L16 -24L17 -34L18 -37L19 -39L20 -44L21 -45L22 -47L23 -41L24 -42L25 -36L26 -31L27 -29L28 -23L29 -19L30 -17L31 -13L32 -11L33 -8L34 5L35 12L36 19L37 24M0 1L1 -4L2 -6L3 -4L4 -2L5 3L6 7L7 12L8 29L9 44L10 60L11 68L12 58L13 38L14 10L15 -7L16 -24L17 -31L18 -35L19 -45L20 -50L21 -56L22 -54L23 -51L24 -46L25 -39L26 -35L27 -31L28 -23L29 -22L30 -16L31 -9L32 -2L33 9L34 12L35 13L36 16L37 12M0 -9L1 -3L2 -5L3 -7L4 -8L5 -8L6 1L7 15L8 28L9 46L10 63L11 67L12 61L13 46L14 26L15 -1L16 -17L17 -31L18 -43L19 -46L20 -49L21 -48L22 -48L23 -46L24 -43L25 -43L26 -37L27 -29L28 -21L29 -20L30 -14L31 -12L32 -12L33 -2L34 6L35 10L36 17L37 24M0 -9L1 -7L2 -4L3 -3L4 -9L5 -7L6 2L7 9L8 29L9 49L10 65L11 70L12 54L13 22L14 -8L15 -26L16 -33L17 -40L18 -39L19 -44L20 -49L21 -49L22 -58L23 -51L24 -53L25 -47L26 -32L27 -32L28 -26L29 -23L30 -18L31 -13L32 -2L33 0L34 0L35 6L36 11L37 19M0 -2L1 -3L2 -3L3 -4L4 2L5 0L6 1L7 8L8 19L9 41L10 60L11 71L12 58L13 30L14 5L15 -16L16 -30L17 -37L18 -42L19 -45L20 -46L21 -50L22 -49L23 -47L24 -48L25 -41L26 -36L27 -31L28 -28L29 -22L30 -17L31 -11L32 -1L33 5L34 10L35 14L36 15L37 17M0 1L1 4L2 0L3 -1L4 -2L5 -1L6 2L7 10L8 24L9 41L10 60L11 67L12 60L13 38L14 10L15 -12L16 -27L17 -34L18 -36L19 -42L20 -45L21 -45L22 -47L23 -40L24 -40L25 -38L26 -35L27 -34L28 -27L29 -23L30 -17L31 -12L32 -8L33 -3L34 3L35 9L36 16L37 20M0 -4L1 -1L2 -2L3 -2L4 -6L5 -5L6 5L7 11L8 26L9 44L10 54L11 60L12 53L13 30L14 10L15 -7L16 -21L17 -34L18 -46L19 -51L20 -58L21 -52L22 -45L23 -41L24 -39L25 -39L26 -35L27 -35L28 -29L29 -22L30 -22L31 -19L32 -10L33 -3L34 5L35 11L36 17L37 14M0 3L1 0L2 -5L3 -1L4 0L5 3L6 11L7 17L8 30L9 49L10 66L11 74L12 64L13 31L14 1L15 -24L16 -31L17 -31L18 -36L19 -36L20 -45L21 -48L22 -46L23 -48L24 -42L25 -37L26 -30L27 -24L28 -25L29 -20L30 -20L31 -19L32 -13L33 -6L34 5L35 16L36 25L37 27M0 4L1 -1L2 -4L3 0L4 -5L5 -4L6 -4L7 3L8 21L9 42L10 63L11 67L12 52L13 21L14 -6L15 -18L16 -29L17 -34L18 -39L19 -44L20 -56L21 -58L22 -57L23 -57L24 -50L25 -51L26 -47L27 -42L28 -35L29 -25L30 -18L31 -15L32 -8L33 -3L34 4L35 14L36 20L37 25M0 5L1 -1L2 4L3 9L4 5L5 10L6 9L7 16L8 33L9 48L10 70L11 78L12 61L13 34L14 9L15 -13L16 -33L17 -46L18 -53L19 -56L20 -51L21 -47L22 -47L23 -43L24 -39L25 -33L26 -25L27 -23L28 -17L29 -18L30 -18L31 -16L32 -13L33 -5L34 2L35 7L36 9L37 15M0 6L1 4L2 5L3 2L4 -2L5 -4L6 -2L7 12L8 28L9 52L10 74L11 78L12 69L13 38L14 6L15 -20L16 -34L17 -39L18 -43L19 -45L20 -50L21 -54L22 -50L23 -53L24 -45L25 -42L26 -40L27 -33L28 -32L29 -23L30 -16L31 -11L32 -8L33 0L34 3L35 10L36 16L37 19M0 -3L1 -1L2 -2L3 4L4 2L5 1L6 4L7 7L8 27L9 44L10 62L11 70L12 59L13 37L14 10L15 -9L16 -30L17 -37L18 -40L19 -44L20 -48L21 -50L22 -53L23 -53L24 -46L25 -45L26 -38L27 -35L28 -32L29 -28L30 -25L31 -16L32 -9L33 2L34 6L35 11L36 15L37 18M0 -3L1 0L2 -5L3 -5L4 -6L5 -10L6 1L7 14L8 31L9 53L10 67L11 75L12 64L13 36L14 10L15 -19L16 -35L17 -37L18 -43L19 -39L20 -44L21 -49L22 -49L23 -49L24 -48L25 -46L26 -44L27 -42L28 -38L29 -33L30 -25L31 -21L32 -16L33 -9L34 -6L35 2L36 10L37 16M0 -4L1 -2L2 3L3 7L4 6L5 9L6 13L7 19L8 32L9 50L10 64L11 67L12 47L13 20L14 -3L15 -17L16 -30L17 -38L18 -42L19 -50L20 -53L21 -54L22 -55L23 -48L24 -41L25 -41L26 -36L27 -28L28 -27L29 -21L30 -12L31 -14L32 -3L33 5L34 4L35 12L36 11L37 16M0 -1L1 -1L2 4L3 5L4 2L5 2L6 8L7 12L8 30L9 49L10 67L11 76L12 73L13 51L14 21L15 -2L16 -28L17 -34L18 -45L19 -53L20 -52L21 -58L22 -57L23 -60L24 -63L25 -55L26 -50L27 -43L28 -32L29 -28L30 -20L31 -11L32 -5L33 1L34 4L35 9L36 12L37 17M0 5L1 -3L2 -4L3 -4L4 -4L5 -5L6 1L7 9L8 23L9 50L10 63L11 66L12 58L13 28L14 3L15 -16L16 -26L17 -36L18 -45L19 -46L20 -55L21 -55L22 -53L23 -54L24 -47L25 -45L26 -39L27 -35L28 -36L29 -33L30 -30L31 -25L32 -16L33 -5L34 5L35 15L36 19L37 26M0 -6L1 -10L2 -8L3 -2L4 2L5 4L6 10L7 18L8 33L9 54L10 67L11 70L12 51L13 22L14 -3L15 -21L16 -30L17 -37L18 -40L19 -42L20 -44L21 -47L22 -50L23 -49L24 -45L25 -40L26 -38L27 -36L28 -35L29 -28L30 -17L31 -6L32 2L33 5L34 14L35 17L36 20L37 22M0 -1L1 4L2 3L3 1L4 3L5 4L6 7L7 16L8 33L9 48L10 68L11 72L12 49L13 21L14 -8L15 -28L16 -39L17 -48L18 -50L19 -51L20 -50L21 -52L22 -53L23 -53L24 -53L25 -48L26 -41L27 -36L28 -31L29 -27L30 -20L31 -14L32 -8L33 4L34 9L35 13L36 17L37 18M0 -3L1 5L2 7L3 6L4 2L5 -1L6 -4L7 9L8 24L9 44L10 63L11 65L12 56L13 30L14 6L15 -17L16 -29L17 -35L18 -43L19 -44L20 -44L21 -48L22 -47L23 -50L24 -51L25 -47L26 -40L27 -30L28 -26L29 -22L30 -17L31 -7L32 -2L33 3L34 6L35 4L36 8L37 15M0 6L1 -1L2 1L3 1L4 2L5 2L6 6L7 13L8 24L9 47L10 68L11 75L12 68L13 43L14 15L15 -10L16 -30L17 -36L18 -46L19 -48L20 -47L21 -50L22 -48L23 -48L24 -48L25 -38L26 -31L27 -26L28 -21L29 -21L30 -21L31 -11L32 -7L33 -4L34 7L35 13L36 16L37 24M0 -1L1 3L2 5L3 5L4 4L5 1L6 3L7 13L8 29L9 49L10 63L11 64L12 50L13 25L14 1L15 -15L16 -26L17 -37L18 -42L19 -47L20 -51L21 -48L22 -46L23 -44L24 -41L25 -36L26 -33L27 -24L28 -23L29 -18L30 -15L31 -13L32 -7L33 -2L34 1L35 9L36 15L37 15M0 3L1 1L2 2L3 -1L4 3L5 5L6 8L7 16L8 26L9 49L10 70L11 79L12 75L13 45L14 20L15 -8L16 -29L17 -40L18 -50L19 -51L20 -54L21 -57L22 -57L23 -58L24 -52L25 -44L26 -42L27 -35L28 -30L29 -26L30 -15L31 -11L32 -2L33 0L34 2L35 6L36 7L37 15M0 -6L1 -3L2 -5L3 -3L4 3L5 0L6 2L7 11L8 19L9 43L10 65L11 69L12 62L13 33L14 8L15 -13L16 -27L17 -36L18 -47L19 -48L20 -54L21 -55L22 -50L23 -51L24 -44L25 -41L26 -33L27 -30L28 -26L29 -19L30 -16L31 -9L32 -3L33 0L34 0L35 5L36 13L37 19M0 2L1 4L2 0L3 0L4 -1L5 -4L6 1L7 7L8 19L9 41L10 63L11 71L12 68L13 42L14 10L15 -11L16 -30L17 -42L18 -48L19 -54L20 -58L21 -54L22 -51L23 -43L24 -39L25 -39L26 -35L27 -38L28 -32L29 -23L30 -20L31 -12L32 -9L33 -2L34 9L35 17L36 30L37 29M0 3L1 3L2 2L3 7L4 5L5 6L6 13L7 14L8 32L9 51L10 68L11 83L12 69L13 46L14 18L15 -6L16 -20L17 -29L18 -37L19 -42L20 -49L21 -54L22 -56L23 -57L24 -52L25 -43L26 -35L27 -31L28 -25L29 -24L30 -17L31 -9L32 -8L33 -4L34 0L35 8L36 16L37 26M0 -4L1 -4L2 -6L3 4L4 7L5 9L6 16L7 19L8 31L9 46L10 63L11 68L12 55L13 28L14 5L15 -18L16 -28L17 -32L18 -42L19 -43L20 -47L21 -49L22 -51L23 -49L24 -50L25 -49L26 -40L27 -40L28 -37L29 -31L30 -27L31 -20L32 -12L33 -5L34 -2L35 4L36 7L37 9M0 -4L1 -2L2 -1L3 1L4 0L5 0L6 6L7 14L8 28L9 44L10 61L11 69L12 58L13 26L14 3L15 -23L16 -36L17 -43L18 -51L19 -50L20 -52L21 -51L22 -46L23 -46L24 -40L25 -35L26 -35L27 -30L28 -29L29 -26L30 -24L31 -18L32 -11L33 -4L34 1L35 6L36 14L37 17M0 8L1 9L2 3L3 0L4 2L5 -1L6 4L7 11L8 26L9 49L10 68L11 77L12 62L13 29L14 4L15 -16L16 -28L17 -33L18 -39L19 -42L20 -44L21 -41L22 -42L23 -39L24 -37L25 -37L26 -29L27 -27L28 -23L29 -19L30 -14L31 -12L32 -2L33 1L34 6L35 14L36 15L37 25M0 -2L1 2L2 2L3 2L4 2L5 0L6 1L7 2L8 15L9 34L10 56L11 67L12 58L13 26L14 -1L15 -21L16 -36L17 -39L18 -44L19 -55L20 -54L21 -55L22 -57L23 -51L24 -53L25 -52L26 -45L27 -40L28 -32L29 -27L30 -23L31 -15L32 -6L33 1L34 6L35 9L36 14L37 19M0 -2L1 -1L2 -3L3 -4L4 4L5 2L6 6L7 12L8 24L9 45L10 65L11 68L12 55L13 25L14 -1L15 -22L16 -36L17 -43L18 -48L19 -46L20 -51L21 -56L22 -56L23 -54L24 -47L25 -39L26 -33L27 -30L28 -29L29 -25L30 -17L31 -12L32 -4L33 0L34 2L35 7L36 11L37 14M0 -4L1 -8L2 -6L3 -7L4 -6L5 -5L6 0L7 10L8 20L9 40L10 55L11 63L12 52L13 24L14 -3L15 -28L16 -41L17 -47L18 -52L19 -53L20 -57L21 -57L22 -56L23 -52L24 -47L25 -46L26 -39L27 -36L28 -31L29 -23L30 -16L31 -6L32 1L33 5L34 10L35 11L36 13L37 17M0 -7L1 0L2 4L3 8L4 10L5 4L6 9L7 13L8 28L9 44L10 64L11 75L12 60L13 35L14 2L15 -16L16 -27L17 -32L18 -33L19 -43L20 -43L21 -47L22 -49L23 -43L24 -47L25 -40L26 -33L27 -33L28 -28L29 -28L30 -27L31 -15L32 -7L33 1L34 13L35 16L36 20L37 24M18 -42.15L19 -37.54L20 -31.38L21 -31.38L22 -29.85L23 -28.31L24 -27.92L25 -29.85L26 -33.69L27 -31.77M23 -46L24 -38.31L25 -26L26 -17.92L27 -17.92L28 -22.15L29 -22.92" fill="none" stroke="#999999" stroke-width="0.85" stroke-opacity="1.0" stroke-linejoin="round"/></g>
<polyline clip-path="url(#c2)" points="648.8,587.6 662.5,586.7 676.1,588.2 689.8,589.8 703.5,590.7 717.1,591.7 730.8,598.8 744.5,619.1 758.2,654.7 771.8,702.5 785.5,751.8 799.2,771.1 812.8,745.2 826.5,675.9 840.2,605.7 853.8,546.4 867.5,509.9 881.2,490.2 894.9,477 908.5,466.5 922.2,458.1 935.9,453.7 949.5,455 963.2,460.6 976.9,468.4 990.5,478.4 1004.2,489.3 1017.9,500.5 1031.6,512.1 1045.2,526.1 1058.9,541.7 1072.6,557.3 1086.2,572.3 1099.9,587 1113.6,602 1127.2,616.6 1140.9,630.7 1154.6,642.2" fill="none" stroke="#0000ff" stroke-width="2.3" stroke-linejoin="round"/>
<g clip-path="url(#c3)"><path transform="translate(646.1 987.5) scale(13.7 4.3)" vector-effect="non-scaling-stroke" d="M0 1L1 0L2 -2L3 -5L4 -4L5 -5L6 0L7 5L8 9L9 13L10 9L11 4L12 -6L13 -10L14 -12L15 -12L16 -9L17 -13L18 -8L19 -9L20 -5L21 -6L22 -3L23 0L24 -2L25 -3L26 1L27 1L28 4L29 3L30 7L31 4L32 2L33 0L34 -1L35 2L36 0L37 3L38 -1M0 2L1 6L2 2L3 0L4 -2L5 1L6 7L7 12L8 16L9 15L10 7L11 -2L12 -9L13 -9L14 -9L15 -8L16 -10L17 -9L18 -4L19 -3L20 3L21 2L22 5L23 8L24 6L25 6L26 1L27 3L28 0L29 0L30 -2L31 -3L32 -8L33 -3L34 1L35 5L36 3L37 2L38 2M0 1L1 0L2 -1L3 1L4 -3L5 -4L6 -3L7 6L8 13L9 17L10 10L11 -2L12 -10L13 -11L14 -10L15 -12L16 -14L17 -10L18 -3L19 -3L20 0L21 -1L22 3L23 1L24 3L25 1L26 2L27 1L28 4L29 3L30 2L31 2L32 5L33 6L34 4L35 1L36 2L37 6L38 6M0 -3L1 -3L2 -2L3 -4L4 -1L5 -3L6 -1L7 1L8 9L9 12L10 10L11 -4L12 -12L13 -19L14 -16L15 -16L16 -9L17 -5L18 0L19 0L20 2L21 2L22 0L23 -1L24 2L25 8L26 5L27 2L28 2L29 4L30 1L31 -2L32 0L33 0L34 -3L35 -6L36 -5L37 -2L38 3M0 -1L1 -5L2 -6L3 -6L4 -3L5 -4L6 -5L7 -1L8 6L9 13L10 8L11 -4L12 -7L13 -8L14 -7L15 -13L16 -13L17 -7L18 -4L19 -2L20 -4L21 -4L22 -2L23 0L24 2L25 5L26 4L27 2L28 -2L29 -7L30 -3L31 -3L32 6L33 6L34 7L35 3L36 6L37 7L38 6M0 -6L1 -2L2 -2L3 3L4 1L5 4L6 1L7 7L8 15L9 21L10 12L11 -4L12 -13L13 -14L14 -11L15 -10L16 -7L17 -6L18 -3L19 -4L20 1L21 1L22 7L23 6L24 7L25 5L26 2L27 1L28 0L29 1L30 0L31 -2L32 0L33 3L34 5L35 3L36 1L37 -1L38 -1M0 0L1 -3L2 2L3 0L4 3L5 -1L6 -1L7 6L8 14L9 14L10 7L11 -2L12 -5L13 -10L14 -11L15 -12L16 -6L17 -1L18 2L19 3L20 -3L21 -1L22 -6L23 -3L24 -2L25 3L26 4L27 7L28 3L29 3L30 -4L31 2L32 1L33 4L34 3L35 0L36 2L37 -1L38 2M0 1L1 2L2 3L3 7L4 6L5 4L6 3L7 8L8 16L9 15L10 9L11 -1L12 -8L13 -13L14 -11L15 -9L16 -5L17 -3L18 -6L19 -5L20 -5L21 1L22 1L23 4L24 0L25 1L26 2L27 5L28 7L29 4L30 1L31 -2L32 -1L33 2L34 2L35 3L36 5L37 3L38 4M0 2L1 4L2 2L3 -2L4 -3L5 0L6 -1L7 0L8 8L9 14L10 12L11 0L12 -8L13 -12L14 -13L15 -9L16 -4L17 -2L18 -7L19 -10L20 -3L21 5L22 8L23 2L24 5L25 3L26 4L27 -2L28 1L29 6L30 8L31 8L32 5L33 6L34 4L35 7L36 7L37 10L38 4M0 6L1 4L2 7L3 1L4 0L5 -2L6 -7L7 0L8 8L9 18L10 14L11 4L12 -10L13 -15L14 -17L15 -10L16 -8L17 -6L18 -3L19 -2L20 -2L21 -1L22 1L23 9L24 1L25 -3L26 -9L27 -5L28 -1L29 -1L30 1L31 1L32 4L33 3L34 3L35 1L36 5L37 6L38 5M0 -2L1 -2L2 0L3 1L4 1L5 3L6 2L7 8L8 12L9 15L10 9L11 -4L12 -10L13 -11L14 -9L15 -3L16 -4L17 -1L18 0L19 -1L20 2L21 3L22 6L23 9L24 12L25 16L26 9L27 2L28 -4L29 1L30 4L31 5L32 2L33 1L34 3L35 2L36 6L37 6L38 7M0 5L1 3L2 3L3 2L4 6L5 5L6 4L7 8L8 14L9 20L10 10L11 -1L12 -13L13 -15L14 -9L15 -1L16 3L17 -2L18 -5L19 0L20 7L21 9L22 8L23 6L24 5L25 4L26 7L27 10L28 12L29 10L30 9L31 10L32 12L33 11L34 8L35 2L36 0L37 -1L38 1M0 -1L1 3L2 4L3 3L4 2L5 4L6 2L7 10L8 11L9 16L10 8L11 1L12 -6L13 -10L14 -6L15 -8L16 0L17 -4L18 1L19 -6L20 -3L21 -2L22 3L23 3L24 4L25 2L26 3L27 3L28 6L29 6L30 6L31 3L32 3L33 -1L34 -1L35 -2L36 -1L37 -2L38 -1M0 5L1 0L2 -2L3 -4L4 -5L5 -6L6 -3L7 6L8 17L9 17L10 5L11 -7L12 -17L13 -14L14 -15L15 -12L16 -6L17 -3L18 0L19 -2L20 1L21 0L22 4L23 5L24 8L25 3L26 6L27 4L28 -3L29 -9L30 -6L31 -2L32 5L33 6L34 7L35 2L36 1L37 5L38 3M0 3L1 1L2 2L3 2L4 2L5 0L6 -2L7 5L8 13L9 19L10 11L11 -1L12 -9L13 -8L14 -7L15 -10L16 -13L17 -14L18 -9L19 -8L20 -2L21 -4L22 -1L23 -1L24 0L25 6L26 0L27 0L28 -1L29 5L30 10L31 9L32 5L33 5L34 2L35 4L36 2L37 7L38 5M0 3L1 3L2 1L3 1L4 1L5 0L6 -1L7 1L8 11L9 15L10 13L11 -2L12 -10L13 -14L14 -11L15 -15L16 -14L17 -12L18 -8L19 -2L20 -1L21 -1L22 -1L23 1L24 0L25 2L26 4L27 5L28 5L29 2L30 2L31 1L32 2L33 3L34 2L35 -1L36 2L37 4L38 4M0 3L1 -4L2 -1L3 -2L4 3L5 0L6 -1L7 3L8 13L9 15L10 5L11 -4L12 -11L13 -10L14 -16L15 -15L16 -10L17 -3L18 -8L19 -3L20 -2L21 8L22 3L23 1L24 0L25 -4L26 -1L27 0L28 2L29 8L30 8L31 8L32 5L33 7L34 6L35 3L36 -2L37 -1L38 -3M0 -1L1 4L2 1L3 1L4 -4L5 2L6 6L7 15L8 18L9 15L10 6L11 -7L12 -13L13 -17L14 -14L15 -12L16 -8L17 -6L18 -10L19 -7L20 -11L21 -8L22 -6L23 4L24 13L25 12L26 9L27 6L28 2L29 0L30 -5L31 -2L32 -1L33 -1L34 2L35 1L36 4L37 -6L38 -4M0 -6L1 -1L2 2L3 2L4 1L5 -1L6 1L7 9L8 15L9 11L10 6L11 -5L12 -6L13 -10L14 -8L15 -8L16 -12L17 -14L18 -12L19 -7L20 -3L21 -1L22 3L23 6L24 4L25 3L26 2L27 3L28 -1L29 2L30 5L31 10L32 9L33 4L34 6L35 4L36 11L37 5L38 6M0 7L1 7L2 5L3 3L4 -1L5 -1L6 3L7 13L8 17L9 22L10 12L11 1L12 -12L13 -13L14 -8L15 -6L16 -5L17 -2L18 -1L19 1L20 2L21 4L22 6L23 5L24 6L25 8L26 5L27 6L28 2L29 6L30 7L31 8L32 4L33 1L34 3L35 4L36 5L37 7L38 4M0 1L1 1L2 1L3 -2L4 0L5 -2L6 -1L7 -1L8 6L9 13L10 13L11 5L12 -7L13 -12L14 -11L15 -5L16 -5L17 -7L18 -5L19 -5L20 0L21 -1L22 3L23 0L24 1L25 0L26 0L27 2L28 1L29 0L30 0L31 4L32 3L33 1L34 -2L35 3L36 2L37 6L38 0M0 4L1 5L2 4L3 -1L4 -1L5 1L6 3L7 6L8 15L9 16L10 7L11 -11L12 -16L13 -11L14 -10L15 -9L16 -13L17 -9L18 -7L19 -5L20 -4L21 -2L22 2L23 -1L24 -5L25 -5L26 -3L27 0L28 1L29 2L30 5L31 7L32 8L33 7L34 3L35 4L36 2L37 3L38 2M0 -3L1 -2L2 0L3 -7L4 -8L5 -12L6 2L7 6L8 17L9 9L10 3L11 -3L12 -7L13 -7L14 -10L15 -8L16 -3L17 5L18 3L19 1L20 0L21 6L22 6L23 8L24 3L25 6L26 5L27 7L28 6L29 4L30 4L31 3L32 4L33 4L34 4L35 3L36 2L37 3L38 2M0 -2L1 2L2 4L3 6L4 4L5 5L6 4L7 11L8 14L9 10L10 0L11 -8L12 -8L13 -7L14 -7L15 -6L16 -5L17 -5L18 -2L19 0L20 -1L21 6L22 2L23 4L24 -2L25 -1L26 2L27 5L28 5L29 2L30 -1L31 1L32 0L33 6L34 5L35 5L36 3L37 5L38 3M0 -1L1 0L2 2L3 5L4 3L5 6L6 6L7 8L8 12L9 12L10 5L11 -4L12 -12L13 -15L14 -16L15 -14L16 -5L17 -6L18 -1L19 -7L20 -2L21 -6L22 -3L23 -4L24 0L25 1L26 2L27 4L28 4L29 5L30 0L31 2L32 2L33 9L34 8L35 6L36 4L37 0L38 -3M0 -1L1 -1L2 -5L3 -3L4 -3L5 -2L6 -1L7 3L8 13L9 12L10 9L11 -7L12 -8L13 -10L14 -2L15 -2L16 -6L17 -11L18 -12L19 -8L20 1L21 2L22 6L23 1L24 4L25 2L26 5L27 2L28 8L29 8L30 11L31 7L32 5L33 2L34 -2L35 -2L36 -2L37 3L38 3M0 -1L1 -6L2 -2L3 -3L4 1L5 3L6 7L7 9L8 14L9 17L10 10L11 -3L12 -13L13 -17L14 -17L15 -11L16 -3L17 0L18 0L19 0L20 1L21 -2L22 -1L23 -3L24 1L25 -1L26 3L27 -1L28 1L29 0L30 -1L31 -2L32 -2L33 2L34 2L35 0L36 -4L37 -2L38 -1M0 -2L1 1L2 -3L3 -6L4 -2L5 -4L6 0L7 5L8 14L9 16L10 7L11 1L12 -9L13 -10L14 -10L15 -6L16 -9L17 -11L18 -11L19 1L20 3L21 3L22 -1L23 1L24 2L25 4L26 0L27 0L28 -2L29 0L30 2L31 3L32 2L33 3L34 5L35 7L36 0L37 -1L38 -2M0 -2L1 -1L2 -7L3 -9L4 -9L5 -4L6 1L7 9L8 16L9 15L10 5L11 -4L12 -10L13 -8L14 -11L15 -10L16 -12L17 -12L18 -9L19 -2L20 -2L21 2L22 -2L23 0L24 -4L25 -4L26 -1L27 -1L28 1L29 -1L30 3L31 3L32 3L33 -3L34 -2L35 4L36 1L37 2L38 -4M0 -7L1 -4L2 2L3 8L4 4L5 1L6 -4L7 5L8 9L9 14L10 8L11 0L12 -7L13 -9L14 -5L15 -4L16 -4L17 -6L18 -6L19 -5L20 -4L21 -3L22 -3L23 0L24 1L25 5L26 6L27 7L28 7L29 4L30 -1L31 -2L32 -1L33 3L34 4L35 4L36 4L37 1L38 2M0 -3L1 -5L2 5L3 3L4 4L5 0L6 5L7 7L8 13L9 13L10 9L11 -7L12 -13L13 -17L14 -12L15 -10L16 -7L17 -9L18 -11L19 -10L20 -9L21 -5L22 -1L23 2L24 3L25 0L26 1L27 -1L28 5L29 10L30 12L31 2L32 -3L33 -5L34 2L35 -2L36 -3L37 -8L38 -1M0 -3L1 1L2 -4L3 0L4 0L5 1L6 0L7 2L8 8L9 10L10 6L11 -1L12 -12L13 -10L14 -11L15 -8L16 -9L17 -4L18 -4L19 -6L20 -5L21 4L22 8L23 8L24 8L25 9L26 7L27 4L28 3L29 8L30 6L31 5L32 3L33 0L34 -5L35 -5L36 -3L37 -1L38 -5M0 10L1 8L2 2L3 -4L4 1L5 5L6 10L7 14L8 15L9 11L10 1L11 -7L12 -14L13 -14L14 -10L15 -7L16 -5L17 -3L18 -1L19 -2L20 2L21 5L22 9L23 6L24 6L25 7L26 9L27 10L28 8L29 5L30 3L31 -2L32 -3L33 -1L34 3L35 3L36 1L37 -2L38 -3M0 -2L1 -1L2 -5L3 0L4 -1L5 1L6 -2L7 0L8 8L9 14L10 17L11 6L12 -2L13 -12L14 -8L15 -9L16 -4L17 -4L18 -5L19 -6L20 -7L21 -6L22 -2L23 1L24 0L25 3L26 3L27 4L28 -2L29 -6L30 -4L31 -1L32 4L33 3L34 5L35 5L36 7L37 0L38 -1M0 2L1 3L2 5L3 5L4 7L5 10L6 6L7 9L8 12L9 16L10 10L11 1L12 -7L13 -9L14 -9L15 -5L16 -6L17 -4L18 -4L19 3L20 5L21 6L22 2L23 1L24 -2L25 0L26 0L27 0L28 1L29 5L30 8L31 5L32 5L33 3L34 3L35 1L36 0L37 1L38 -2M0 -2L1 -3L2 -7L3 -9L4 -9L5 -4L6 0L7 7L8 16L9 20L10 10L11 -3L12 -13L13 -16L14 -14L15 -14L16 -10L17 -9L18 -6L19 -6L20 -5L21 -1L22 2L23 0L24 -4L25 -5L26 0L27 1L28 4L29 8L30 7L31 -1L32 -5L33 -4L34 0L35 -2L36 -2L37 0L38 0M0 0L1 1L2 0L3 -5L4 -4L5 -10L6 -2L7 8L8 22L9 20L10 8L11 -6L12 -11L13 -10L14 -9L15 -5L16 -6L17 -7L18 -6L19 -2L20 -2L21 2L22 -3L23 0L24 -1L25 4L26 5L27 3L28 5L29 4L30 3L31 1L32 1L33 4L34 6L35 6L36 5L37 3L38 4M0 1L1 3L2 3L3 -2L4 -4L5 -4L6 2L7 10L8 13L9 14L10 8L11 0L12 -6L13 -9L14 -10L15 -10L16 -10L17 -10L18 -7L19 0L20 3L21 0L22 -2L23 0L24 2L25 6L26 3L27 7L28 2L29 8L30 3L31 3L32 -1L33 2L34 0L35 -5L36 -5L37 -1L38 2M0 -5L1 -4L2 -5L3 -4L4 1L5 3L6 4L7 5L8 11L9 15L10 10L11 -7L12 -13L13 -16L14 -10L15 -10L16 -7L17 -5L18 -4L19 -2L20 -3L21 2L22 3L23 6L24 -1L25 -3L26 -5L27 0L28 4L29 6L30 4L31 1L32 -4L33 -1L34 2L35 6L36 7L37 5L38 1M0 2L1 1L2 4L3 7L4 5L5 2L6 1L7 5L8 10L9 14L10 14L11 7L12 -2L13 -7L14 -9L15 -5L16 -3L17 -5L18 -8L19 -8L20 -4L21 0L22 -1L23 -1L24 -1L25 4L26 8L27 8L28 6L29 6L30 4L31 6L32 3L33 1L34 0L35 2L36 9L37 4L38 -1M0 2L1 -3L2 -3L3 -5L4 -1L5 1L6 6L7 10L8 14L9 14L10 12L11 3L12 -6L13 -9L14 -10L15 -9L16 -8L17 -8L18 -11L19 -12L20 -9L21 -2L22 2L23 4L24 3L25 -2L26 2L27 -1L28 3L29 0L30 6L31 2L32 3L33 1L34 4L35 3L36 1L37 -2L38 3M0 0L1 -2L2 3L3 0L4 1L5 2L6 5L7 7L8 7L9 8L10 4L11 -7L12 -15L13 -17L14 -13L15 -11L16 -7L17 -6L18 -5L19 -4L20 -1L21 2L22 0L23 0L24 1L25 0L26 -4L27 -8L28 -7L29 -6L30 -2L31 2L32 4L33 3L34 -2L35 -3L36 -3L37 -4L38 -3M0 2L1 3L2 2L3 2L4 1L5 -1L6 2L7 4L8 13L9 14L10 10L11 -5L12 -14L13 -16L14 -12L15 -10L16 -10L17 -11L18 -9L19 -6L20 0L21 3L22 4L23 3L24 0L25 -2L26 -2L27 -4L28 -1L29 -3L30 1L31 0L32 5L33 5L34 9L35 5L36 4L37 4L38 5M0 3L1 1L2 1L3 0L4 -1L5 -2L6 3L7 10L8 19L9 19L10 15L11 1L12 -7L13 -14L14 -11L15 -17L16 -14L17 -15L18 -6L19 -5L20 0L21 -4L22 0L23 -2L24 1L25 -2L26 -5L27 -8L28 -5L29 -1L30 6L31 6L32 5L33 2L34 0L35 -3L36 -2L37 -6L38 -6M0 0L1 5L2 4L3 -2L4 -7L5 -9L6 -4L7 3L8 16L9 19L10 12L11 -1L12 -11L13 -14L14 -14L15 -15L16 -10L17 -14L18 -7L19 -8L20 -1L21 0L22 0L23 1L24 0L25 -1L26 -2L27 0L28 3L29 5L30 4L31 4L32 2L33 4L34 4L35 3L36 -1L37 -1L38 2M0 -11L1 -8L2 -3L3 0L4 0L5 -1L6 0L7 -1L8 2L9 4L10 4L11 -1L12 -5L13 -8L14 -7L15 -7L16 -8L17 -7L18 -7L19 -1L20 2L21 6L22 3L23 1L24 0L25 3L26 3L27 1L28 -4L29 -2L30 3L31 5L32 5L33 4L34 8L35 8L36 3L37 3L38 5M0 -4L1 -3L2 0L3 0L4 -2L5 -5L6 -1L7 4L8 17L9 21L10 14L11 -1L12 -10L13 -12L14 -7L15 -8L16 -10L17 -10L18 -7L19 -4L20 -3L21 -1L22 0L23 3L24 0L25 2L26 6L27 8L28 8L29 0L30 2L31 0L32 4L33 2L34 5L35 3L36 1L37 -3L38 -2M0 -2L1 -4L2 -1L3 -4L4 -1L5 -3L6 2L7 10L8 15L9 12L10 4L11 -10L12 -15L13 -17L14 -11L15 -7L16 -4L17 -4L18 0L19 2L20 3L21 2L22 1L23 2L24 -2L25 1L26 2L27 5L28 3L29 -3L30 0L31 -2L32 3L33 1L34 5L35 5L36 1L37 1L38 4M0 5L1 0L2 -5L3 -7L4 -4L5 -4L6 -3L7 0L8 11L9 15L10 6L11 -4L12 -15L13 -13L14 -13L15 -7L16 -7L17 -9L18 -7L19 -6L20 0L21 0L22 0L23 0L24 1L25 4L26 2L27 1L28 2L29 6L30 3L31 3L32 3L33 7L34 7L35 6L36 8L37 8L38 6M0 0L1 -1L2 -3L3 3L4 0L5 3L6 0L7 8L8 13L9 15L10 8L11 -4L12 -7L13 -4L14 -4L15 -7L16 -10L17 -9L18 -4L19 -1L20 2L21 0L22 3L23 3L24 1L25 -3L26 -4L27 -2L28 -1L29 2L30 0L31 1L32 2L33 1L34 1L35 -2L36 3L37 3L38 0M0 -1L1 0L2 0L3 1L4 1L5 5L6 5L7 8L8 8L9 14L10 10L11 1L12 -7L13 -15L14 -14L15 -16L16 -7L17 -2L18 -1L19 -2L20 -3L21 1L22 2L23 3L24 -1L25 0L26 0L27 1L28 -2L29 -2L30 1L31 5L32 7L33 5L34 1L35 -3L36 -1L37 1L38 6M0 1L1 3L2 1L3 1L4 1L5 3L6 5L7 10L8 14L9 14L10 9L11 2L12 -10L13 -17L14 -20L15 -12L16 -9L17 -4L18 -4L19 -2L20 0L21 -1L22 3L23 3L24 6L25 6L26 3L27 3L28 -4L29 1L30 1L31 7L32 5L33 6L34 5L35 6L36 5L37 4L38 -1M0 6L1 4L2 0L3 -2L4 -1L5 2L6 4L7 3L8 7L9 6L10 1L11 -6L12 -9L13 -10L14 -11L15 -8L16 -4L17 0L18 -2L19 -3L20 -1L21 3L22 4L23 4L24 2L25 6L26 11L27 12L28 8L29 4L30 -2L31 0L32 -1L33 1L34 0L35 1L36 0L37 -3L38 -7M0 1L1 1L2 -1L3 2L4 4L5 4L6 3L7 5L8 12L9 13L10 10L11 2L12 -7L13 -10L14 -9L15 -11L16 -15L17 -12L18 -7L19 0L20 3L21 3L22 2L23 -2L24 2L25 5L26 8L27 5L28 3L29 6L30 3L31 0L32 -3L33 0L34 1L35 0L36 1L37 2L38 2M0 0L1 2L2 1L3 2L4 1L5 1L6 0L7 1L8 10L9 17L10 16L11 1L12 -4L13 -11L14 -8L15 -9L16 -8L17 -6L18 -4L19 0L20 1L21 5L22 8L23 8L24 6L25 5L26 4L27 3L28 0L29 0L30 1L31 3L32 3L33 2L34 1L35 5L36 2L37 2L38 -2M0 -2L1 -6L2 -2L3 -4L4 3L5 0L6 7L7 6L8 14L9 12L10 10L11 0L12 -8L13 -11L14 -8L15 -8L16 -8L17 -5L18 -4L19 0L20 -1L21 5L22 6L23 10L24 9L25 6L26 3L27 3L28 2L29 2L30 4L31 4L32 5L33 3L34 2L35 1L36 0L37 6L38 5M0 -2L1 -1L2 2L3 3L4 2L5 -1L6 0L7 8L8 14L9 21L10 13L11 4L12 -5L13 -5L14 -7L15 -9L16 -9L17 -7L18 -7L19 -3L20 2L21 4L22 1L23 -1L24 0L25 0L26 -2L27 -2L28 -1L29 1L30 3L31 4L32 4L33 0L34 -3L35 -1L36 -1L37 -3L38 -7M0 0L1 -3L2 -5L3 -2L4 1L5 6L6 5L7 15L8 17L9 17L10 6L11 -2L12 -10L13 -11L14 -9L15 -11L16 -11L17 -11L18 -4L19 -8L20 -4L21 -4L22 4L23 2L24 5L25 3L26 4L27 -2L28 -2L29 0L30 -2L31 1L32 1L33 5L34 5L35 5L36 5L37 0L38 0M0 7L1 2L2 0L3 -2L4 -1L5 1L6 3L7 7L8 13L9 15L10 8L11 -4L12 -12L13 -12L14 -11L15 -12L16 -10L17 -8L18 -6L19 -4L20 0L21 4L22 2L23 0L24 0L25 -1L26 -1L27 1L28 5L29 2L30 0L31 0L32 4L33 4L34 3L35 4L36 0L37 2L38 -1M0 2L1 2L2 1L3 1L4 2L5 5L6 3L7 7L8 11L9 18L10 12L11 6L12 -4L13 -8L14 -12L15 -12L16 -8L17 -7L18 -3L19 1L20 8L21 7L22 4L23 -3L24 -3L25 -1L26 4L27 4L28 3L29 4L30 2L31 -3L32 -8L33 -8L34 -6L35 -4L36 -1L37 0L38 -3M0 2L1 -2L2 1L3 3L4 4L5 2L6 -1L7 4L8 9L9 14L10 6L11 -2L12 -8L13 -8L14 -8L15 -9L16 -8L17 -5L18 -5L19 -2L20 4L21 7L22 6L23 -2L24 4L25 7L26 8L27 1L28 4L29 5L30 8L31 1L32 5L33 1L34 6L35 2L36 9L37 8L38 10M0 -1L1 3L2 6L3 3L4 0L5 0L6 4L7 7L8 14L9 15L10 10L11 -5L12 -12L13 -16L14 -11L15 -7L16 -2L17 -5L18 -3L19 -2L20 5L21 2L22 -1L23 -3L24 -4L25 0L26 3L27 3L28 3L29 -1L30 3L31 3L32 8L33 13L34 9L35 4L36 -1L37 -1L38 -3M0 2L1 2L2 2L3 2L4 4L5 0L6 -2L7 3L8 14L9 18L10 12L11 -3L12 -10L13 -11L14 -3L15 -2L16 1L17 -2L18 -1L19 -4L20 -2L21 -1L22 1L23 -2L24 -3L25 -2L26 1L27 2L28 3L29 2L30 1L31 0L32 -3L33 0L34 -2L35 0L36 -1L37 2L38 6M0 -7L1 -1L2 -2L3 2L4 0L5 0L6 -1L7 2L8 13L9 18L10 13L11 1L12 -9L13 -15L14 -21L15 -20L16 -17L17 -10L18 -7L19 -6L20 -6L21 -5L22 -5L23 -3L24 0L25 3L26 2L27 4L28 3L29 5L30 -1L31 2L32 2L33 1L34 2L35 1L36 5L37 6L38 6M0 4L1 2L2 -2L3 -4L4 -1L5 1L6 6L7 13L8 21L9 24L10 13L11 0L12 -5L13 -10L14 -10L15 -15L16 -11L17 -11L18 -11L19 -6L20 2L21 4L22 1L23 -4L24 -3L25 -3L26 0L27 -2L28 -2L29 3L30 7L31 10L32 8L33 8L34 5L35 3L36 1L37 6L38 4M0 7L1 2L2 -3L3 -5L4 -8L5 -10L6 -6L7 9L8 15L9 15L10 9L11 -1L12 -9L13 -20L14 -18L15 -15L16 -8L17 -6L18 -6L19 -6L20 -2L21 2L22 3L23 -2L24 -5L25 -3L26 3L27 5L28 8L29 6L30 4L31 2L32 0L33 3L34 3L35 1L36 2L37 2L38 3M0 3L1 4L2 2L3 -3L4 -2L5 -5L6 1L7 4L8 8L9 11L10 3L11 -1L12 -8L13 -7L14 -9L15 -9L16 -7L17 -7L18 -6L19 -8L20 -5L21 -4L22 -1L23 2L24 5L25 4L26 3L27 5L28 4L29 2L30 1L31 0L32 2L33 3L34 7L35 3L36 -1L37 1L38 1M0 -4L1 -2L2 0L3 4L4 -1L5 -4L6 -4L7 4L8 12L9 11L10 5L11 -3L12 -12L13 -10L14 -11L15 -6L16 -9L17 -8L18 -8L19 -3L20 3L21 4L22 3L23 1L24 1L25 -4L26 0L27 0L28 2L29 1L30 2L31 7L32 4L33 3L34 1L35 4L36 7L37 3L38 1M0 2L1 2L2 5L3 1L4 2L5 -2L6 3L7 7L8 15L9 13L10 4L11 -6L12 -14L13 -13L14 -15L15 -7L16 -5L17 0L18 -3L19 -3L20 -2L21 1L22 2L23 2L24 3L25 1L26 5L27 3L28 5L29 2L30 6L31 3L32 3L33 0L34 1L35 -1L36 -2L37 -2L38 2M0 0L1 -1L2 -2L3 -1L4 -5L5 -5L6 -6L7 4L8 13L9 20L10 11L11 1L12 -9L13 -7L14 -8L15 -9L16 -10L17 -10L18 -6L19 -4L20 1L21 0L22 4L23 2L24 5L25 -1L26 3L27 2L28 5L29 -1L30 -4L31 -3L32 -3L33 -2L34 0L35 0L36 2L37 0L38 4M0 6L1 8L2 8L3 3L4 5L5 -1L6 -2L7 -1L8 7L9 12L10 5L11 -8L12 -17L13 -20L14 -15L15 -9L16 -8L17 -9L18 -5L19 -3L20 -1L21 -3L22 -4L23 -2L24 1L25 5L26 6L27 3L28 9L29 8L30 9L31 2L32 6L33 3L34 8L35 4L36 5L37 -2L38 -5M0 0L1 -4L2 -7L3 -7L4 -2L5 3L6 6L7 8L8 11L9 8L10 5L11 0L12 0L13 -8L14 -8L15 -6L16 -3L17 -4L18 -4L19 0L20 -1L21 -2L22 -4L23 -5L24 -4L25 -3L26 2L27 0L28 1L29 3L30 6L31 4L32 -1L33 0L34 4L35 10L36 8L37 7L38 2M0 -5L1 -9L2 -3L3 0L4 1L5 -2L6 -2L7 10L8 18L9 20L10 8L11 -7L12 -11L13 -16L14 -9L15 -13L16 -8L17 -12L18 -11L19 -9L20 0L21 5L22 3L23 1L24 -1L25 1L26 0L27 2L28 4L29 1L30 -1L31 -1L32 1L33 4L34 1L35 1L36 1L37 1L38 -2M0 -2L1 1L2 -3L3 -3L4 -6L5 1L6 -1L7 6L8 15L9 19L10 9L11 -5L12 -11L13 -10L14 -8L15 -6L16 -4L17 2L18 2L19 1L20 -2L21 -4L22 -4L23 -3L24 -4L25 2L26 4L27 9L28 1L29 2L30 3L31 3L32 -3L33 -1L34 7L35 8L36 4L37 -1L38 1M0 3L1 4L2 0L3 1L4 1L5 3L6 -2L7 0L8 7L9 11L10 8L11 -1L12 -9L13 -8L14 -9L15 -9L16 -13L17 -9L18 -6L19 -3L20 -5L21 -1L22 0L23 1L24 -1L25 -1L26 -1L27 1L28 4L29 10L30 7L31 4L32 4L33 6L34 4L35 -2L36 -5L37 -1L38 0M0 0L1 -1L2 -1L3 -3L4 0L5 -1L6 2L7 5L8 10L9 10L10 5L11 -3L12 -16L13 -13L14 -14L15 -5L16 -7L17 0L18 2L19 1L20 -2L21 0L22 1L23 4L24 5L25 6L26 5L27 1L28 2L29 1L30 3L31 -2L32 -1L33 0L34 4L35 0L36 -3L37 -3L38 0M0 3L1 5L2 -1L3 -1L4 -4L5 0L6 0L7 7L8 17L9 19L10 13L11 -3L12 -8L13 -8L14 -7L15 -5L16 -6L17 -6L18 -8L19 -1L20 1L21 6L22 4L23 4L24 2L25 -2L26 0L27 -3L28 -2L29 -5L30 -3L31 4L32 4L33 6L34 1L35 4L36 6L37 4L38 3M0 3L1 3L2 -2L3 -7L4 -7L5 -4L6 5L7 11L8 23L9 18L10 9L11 -8L12 -16L13 -13L14 -14L15 -11L16 -13L17 -15L18 -10L19 -4L20 4L21 1L22 -3L23 -3L24 2L25 3L26 4L27 0L28 1L29 0L30 6L31 5L32 5L33 4L34 4L35 5L36 4L37 3L38 2M0 3L1 3L2 3L3 5L4 -2L5 -2L6 -1L7 9L8 13L9 15L10 6L11 -2L12 -14L13 -9L14 -7L15 1L16 0L17 -1L18 -3L19 -3L20 1L21 2L22 0L23 1L24 7L25 11L26 8L27 7L28 5L29 1L30 -2L31 4L32 7L33 11L34 8L35 9L36 3L37 -2L38 0M0 1L1 -4L2 -6L3 -4L4 -2L5 2L6 5L7 8L8 12L9 9L10 5L11 -4L12 -4L13 -6L14 -5L15 -6L16 -6L17 -2L18 -2L19 0L20 -5L21 -7L22 -5L23 0L24 5L25 2L26 3L27 4L28 6L29 6L30 1L31 5L32 0L33 0L34 -2L35 1L36 6L37 5L38 0M0 -1L1 1L2 4L3 5L4 2L5 -3L6 -5L7 1L8 9L9 16L10 10L11 -2L12 -11L13 -15L14 -12L15 -7L16 -5L17 -6L18 -9L19 -10L20 0L21 3L22 4L23 -3L24 -9L25 -4L26 2L27 8L28 6L29 3L30 3L31 0L32 0L33 2L34 1L35 4L36 -1L37 -2L38 0M0 -2L1 -1L2 -1L3 2L4 2L5 2L6 -3L7 3L8 11L9 13L10 6L11 -2L12 -6L13 -9L14 -9L15 -10L16 -5L17 -6L18 -4L19 -2L20 2L21 2L22 0L23 -2L24 1L25 2L26 2L27 0L28 -1L29 -3L30 -1L31 -1L32 2L33 -3L34 -1L35 -5L36 -1L37 1L38 5M0 2L1 -2L2 -3L3 -4L4 -2L5 2L6 4L7 7L8 19L9 22L10 18L11 -2L12 -13L13 -15L14 -9L15 -5L16 -8L17 -10L18 -9L19 2L20 3L21 6L22 1L23 -1L24 0L25 0L26 1L27 7L28 7L29 6L30 2L31 6L32 6L33 6L34 5L35 6L36 2L37 -1L38 2M0 7L1 6L2 0L3 -2L4 -4L5 -1L6 2L7 7L8 15L9 16L10 10L11 -2L12 -15L13 -16L14 -13L15 -6L16 -3L17 -3L18 -2L19 2L20 0L21 -4L22 -2L23 0L24 3L25 0L26 -5L27 -2L28 -4L29 1L30 -1L31 -3L32 -2L33 -1L34 2L35 2L36 1L37 1L38 1M0 3L1 2L2 4L3 3L4 2L5 -5L6 -3L7 0L8 10L9 12L10 10L11 2L12 -7L13 -15L14 -16L15 -12L16 -7L17 -4L18 -3L19 1L20 1L21 1L22 -4L23 0L24 2L25 5L26 1L27 -3L28 0L29 -1L30 4L31 3L32 5L33 4L34 1L35 0L36 -2L37 -2L38 -2M0 -3L1 -1L2 -2L3 -2L4 0L5 0L6 5L7 11L8 14L9 13L10 5L11 -5L12 -10L13 -14L14 -12L15 -10L16 -7L17 -6L18 -5L19 -5L20 -1L21 -2L22 2L23 0L24 1L25 3L26 4L27 6L28 0L29 0L30 2L31 5L32 3L33 0L34 1L35 1L36 3L37 -1L38 -5M0 -8L1 -6L2 -3L3 -2L4 1L5 2L6 3L7 10L8 15L9 18L10 11L11 2L12 -4L13 -12L14 -12L15 -14L16 -8L17 -3L18 1L19 1L20 5L21 5L22 5L23 -1L24 -3L25 2L26 3L27 5L28 1L29 2L30 1L31 5L32 2L33 1L34 -1L35 2L36 2L37 4L38 3M0 1L1 -1L2 -1L3 -1L4 0L5 5L6 4L7 11L8 11L9 15L10 8L11 2L12 -10L13 -16L14 -19L15 -12L16 -9L17 -5L18 -6L19 -6L20 -9L21 -9L22 -6L23 -3L24 2L25 0L26 -2L27 -4L28 -1L29 4L30 1L31 -1L32 -3L33 -2L34 5L35 6L36 9L37 3L38 4M0 -1L1 4L2 3L3 4L4 2L5 5L6 2L7 8L8 16L9 21L10 13L11 -2L12 -9L13 -9L14 -4L15 -7L16 -9L17 -12L18 -11L19 -10L20 -5L21 -7L22 -6L23 -5L24 4L25 8L26 5L27 4L28 5L29 6L30 3L31 1L32 1L33 2L34 4L35 4L36 6L37 4L38 5M0 -3L1 -2L2 3L3 2L4 4L5 1L6 1L7 7L8 12L9 16L10 6L11 -4L12 -13L13 -13L14 -12L15 -6L16 -6L17 -2L18 -5L19 -5L20 -6L21 -4L22 1L23 9L24 6L25 4L26 1L27 3L28 4L29 1L30 2L31 0L32 4L33 4L34 7L35 2L36 2L37 4L38 7M0 -3L1 -2L2 2L3 3L4 6L5 5L6 5L7 5L8 12L9 15L10 5L11 -8L12 -16L13 -11L14 -8L15 -5L16 -3L17 -4L18 -3L19 -8L20 -7L21 -5L22 -3L23 3L24 4L25 5L26 2L27 7L28 7L29 9L30 -3L31 -5L32 -6L33 0L34 -2L35 2L36 -1L37 1L38 -1M0 -4L1 -6L2 -7L3 -2L4 -5L5 -3L6 -3L7 7L8 11L9 13L10 5L11 -4L12 -14L13 -15L14 -14L15 -10L16 -10L17 -5L18 -5L19 -3L20 0L21 4L22 3L23 0L24 -1L25 2L26 0L27 3L28 2L29 2L30 1L31 2L32 2L33 3L34 1L35 -2L36 -5L37 -8L38 -5M0 2L1 3L2 2L3 1L4 -1L5 1L6 3L7 10L8 17L9 19L10 10L11 -5L12 -15L13 -16L14 -13L15 -12L16 -9L17 -7L18 -6L19 -6L20 -7L21 -2L22 -2L23 6L24 6L25 12L26 7L27 6L28 4L29 5L30 5L31 7L32 4L33 3L34 0L35 4L36 6L37 8L38 6M0 5L1 7L2 5L3 0L4 -3L5 -7L6 0L7 4L8 14L9 9L10 4L11 -7L12 -11L13 -14L14 -12L15 -13L16 -10L17 -13L18 -9L19 -8L20 -3L21 -1L22 1L23 4L24 7L25 3L26 0L27 -2L28 3L29 3L30 5L31 4L32 5L33 4L34 3L35 2L36 2L37 3L38 3M0 4L1 -1L2 1L3 -4L4 -2L5 0L6 0L7 1L8 9L9 17L10 15L11 3L12 -7L13 -6L14 -10L15 -8L16 -11L17 -5L18 -6L19 -8L20 -1L21 1L22 7L23 1L24 3L25 3L26 4L27 4L28 6L29 4L30 4L31 1L32 1L33 4L34 6L35 3L36 0L37 1L38 7M0 -4L1 -5L2 -5L3 -1L4 2L5 2L6 1L7 6L8 14L9 17L10 14L11 -1L12 -11L13 -16L14 -17L15 -17L16 -13L17 -8L18 -3L19 -1L20 0L21 -2L22 -7L23 -8L24 -5L25 3L26 7L27 8L28 4L29 6L30 9L31 11L32 7L33 3L34 5L35 5L36 7L37 6L38 8M0 3L1 -1L2 -2L3 0L4 3L5 2L6 5L7 8L8 17L9 20L10 16L11 -1L12 -12L13 -13L14 -11L15 -7L16 -9L17 -2L18 -2L19 1L20 0L21 6L22 9L23 10L24 8L25 7L26 6L27 4L28 4L29 5L30 3L31 2L32 0L33 2L34 0L35 -1L36 0L37 0L38 2M0 -7L1 -5L2 -4L3 3L4 -1L5 -1L6 -2L7 2L8 6L9 12L10 12L11 6L12 -5L13 -13L14 -14L15 -16L16 -13L17 -13L18 -11L19 -6L20 -1L21 3L22 0L23 -3L24 0L25 4L26 7L27 6L28 4L29 1L30 2L31 3L32 2L33 1L34 2L35 1L36 1L37 -2L38 1M0 4L1 4L2 4L3 3L4 1L5 0L6 6L7 12L8 19L9 20L10 13L11 4L12 -4L13 -11L14 -13L15 -12L16 -3L17 -1L18 -3L19 -7L20 2L21 5L22 11L23 7L24 8L25 5L26 0L27 -4L28 -2L29 1L30 5L31 2L32 1L33 2L34 3L35 2L36 0L37 4L38 5M0 2L1 1L2 2L3 -1L4 -1L5 -3L6 1L7 6L8 14L9 13L10 5L11 -5L12 -9L13 -13L14 -14L15 -14L16 -13L17 -8L18 -4L19 -4L20 -2L21 2L22 4L23 0L24 -1L25 -1L26 1L27 0L28 4L29 6L30 7L31 3L32 1L33 5L34 8L35 7L36 3L37 4L38 4M0 6L1 6L2 4L3 2L4 1L5 -1L6 3L7 10L8 15L9 16L10 11L11 3L12 -8L13 -17L14 -19L15 -17L16 -12L17 -10L18 -7L19 -2L20 0L21 -2L22 0L23 5L24 7L25 0L26 -4L27 -3L28 2L29 8L30 10L31 7L32 4L33 -1L34 -1L35 1L36 5L37 7L38 2M0 7L1 6L2 7L3 7L4 2L5 -3L6 -6L7 0L8 10L9 17L10 12L11 0L12 -7L13 -8L14 -8L15 -9L16 -11L17 -6L18 -6L19 -3L20 -5L21 0L22 1L23 4L24 1L25 4L26 6L27 7L28 2L29 -1L30 0L31 4L32 5L33 2L34 -1L35 -2L36 2L37 3L38 5M0 -6L1 -2L2 3L3 4L4 3L5 2L6 2L7 4L8 5L9 11L10 5L11 -1L12 -10L13 -11L14 -13L15 -8L16 -8L17 -3L18 1L19 0L20 -1L21 -4L22 7L23 7L24 7L25 0L26 1L27 8L28 7L29 8L30 0L31 4L32 4L33 8L34 2L35 -1L36 -2L37 -1L38 4M0 -1L1 -7L2 -4L3 -4L4 0L5 0L6 3L7 9L8 18L9 17L10 13L11 1L12 -10L13 -11L14 -9L15 -3L16 -5L17 -1L18 -2L19 -1L20 -1L21 4L22 5L23 5L24 6L25 10L26 12L27 7L28 5L29 2L30 4L31 1L32 1L33 1L34 -2L35 -1L36 -4L37 0L38 0M0 1L1 0L2 1L3 0L4 0L5 3L6 5L7 6L8 9L9 10L10 6L11 -3L12 -8L13 -9L14 -8L15 -9L16 -5L17 -8L18 -10L19 -14L20 -7L21 -2L22 2L23 2L24 4L25 7L26 4L27 0L28 -2L29 0L30 1L31 1L32 1L33 4L34 6L35 7L36 4L37 3L38 -2M0 6L1 4L2 5L3 5L4 3L5 4L6 9L7 16L8 20L9 13L10 5L11 -5L12 -7L13 -5L14 -8L15 -7L16 -8L17 -4L18 -3L19 -2L20 2L21 5L22 5L23 3L24 5L25 5L26 5L27 0L28 3L29 5L30 6L31 3L32 3L33 2L34 0L35 -2L36 -2L37 -2L38 0M0 1L1 -1L2 -2L3 0L4 4L5 3L6 4L7 5L8 13L9 14L10 11L11 -1L12 -10L13 -15L14 -14L15 -9L16 -6L17 -4L18 -1L19 -5L20 -9L21 -9L22 -8L23 1L24 -1L25 6L26 4L27 0L28 -9L29 -7L30 -2L31 4L32 3L33 0L34 0L35 -5L36 -3L37 -4L38 -4M0 -5L1 1L2 -2L3 4L4 1L5 6L6 2L7 8L8 14L9 13L10 6L11 -5L12 -9L13 -12L14 -12L15 -12L16 -15L17 -12L18 -11L19 -4L20 -3L21 -1L22 0L23 4L24 6L25 6L26 4L27 2L28 2L29 0L30 0L31 3L32 4L33 10L34 10L35 12L36 3L37 2L38 2M0 -3L1 -4L2 -2L3 4L4 6L5 6L6 2L7 3L8 13L9 17L10 13L11 0L12 -6L13 -6L14 -10L15 -8L16 -7L17 -3L18 1L19 1L20 3L21 -1L22 0L23 -2L24 -1L25 0L26 1L27 3L28 4L29 6L30 7L31 11L32 12L33 9L34 2L35 -4L36 -7L37 -8L38 -9M0 -1L1 0L2 -3L3 -1L4 -5L5 -6L6 -6L7 2L8 12L9 18L10 9L11 -2L12 -12L13 -14L14 -16L15 -13L16 -7L17 -2L18 0L19 1L20 1L21 1L22 4L23 0L24 5L25 1L26 8L27 2L28 5L29 2L30 11L31 10L32 13L33 9L34 5L35 1L36 -2L37 1L38 5M0 6L1 3L2 0L3 -2L4 0L5 1L6 5L7 6L8 13L9 16L10 15L11 6L12 -3L13 -9L14 -10L15 -13L16 -8L17 -8L18 -2L19 -2L20 0L21 0L22 0L23 -1L24 1L25 2L26 4L27 1L28 0L29 -2L30 1L31 2L32 4L33 7L34 4L35 4L36 7L37 6L38 9M0 4L1 -1L2 -2L3 -1L4 2L5 6L6 9L7 15L8 21L9 22L10 10L11 -3L12 -11L13 -12L14 -8L15 -6L16 -6L17 -6L18 -5L19 -3L20 -5L21 -5L22 -3L23 2L24 1L25 0L26 0L27 4L28 4L29 4L30 3L31 4L32 2L33 1L34 -1L35 -2L36 -2L37 1L38 -1M0 0L1 -1L2 0L3 -5L4 -4L5 -3L6 4L7 13L8 23L9 23L10 14L11 -1L12 -9L13 -11L14 -10L15 -9L16 -6L17 -3L18 2L19 3L20 2L21 -2L22 0L23 1L24 1L25 2L26 -1L27 -4L28 -7L29 -2L30 3L31 3L32 2L33 2L34 3L35 6L36 8L37 6L38 5M0 7L1 1L2 -1L3 -6L4 -5L5 -5L6 1L7 8L8 16L9 18L10 12L11 7L12 -2L13 -7L14 -7L15 -9L16 -4L17 -8L18 -4L19 -3L20 -3L21 0L22 -1L23 3L24 1L25 -4L26 -7L27 -12L28 -9L29 -9L30 -3L31 -3L32 -1L33 -2L34 2L35 -1L36 2L37 1L38 3M0 4L1 2L2 0L3 -2L4 1L5 5L6 9L7 14L8 17L9 16L10 7L11 -2L12 -13L13 -14L14 -14L15 -7L16 -4L17 -1L18 3L19 4L20 6L21 5L22 3L23 2L24 -1L25 2L26 2L27 2L28 3L29 5L30 7L31 7L32 4L33 0L34 -2L35 -2L36 1L37 2L38 2M0 -1L1 2L2 0L3 1L4 -3L5 -4L6 -3L7 3L8 9L9 11L10 2L11 -6L12 -9L13 -8L14 -8L15 -8L16 -9L17 -4L18 -2L19 0L20 -2L21 0L22 5L23 7L24 5L25 3L26 0L27 -2L28 1L29 4L30 7L31 9L32 12L33 13L34 5L35 4L36 1L37 8L38 2M0 5L1 3L2 7L3 3L4 4L5 -5L6 -1L7 5L8 16L9 21L10 15L11 3L12 -4L13 -10L14 -11L15 -14L16 -11L17 -7L18 -4L19 -2L20 1L21 5L22 5L23 2L24 0L25 1L26 1L27 0L28 -1L29 2L30 5L31 5L32 3L33 -1L34 2L35 2L36 0L37 -2L38 -1M0 4L1 1L2 0L3 1L4 3L5 4L6 3L7 6L8 12L9 13L10 10L11 -1L12 -11L13 -15L14 -16L15 -9L16 -9L17 -4L18 -3L19 0L20 1L21 1L22 -1L23 2L24 1L25 6L26 3L27 6L28 5L29 7L30 5L31 8L32 6L33 6L34 0L35 -1L36 -1L37 -2L38 -5M0 3L1 1L2 1L3 0L4 -1L5 -4L6 -4L7 2L8 12L9 19L10 15L11 5L12 -5L13 -11L14 -11L15 -7L16 -2L17 2L18 -1L19 -2L20 -1L21 2L22 8L23 7L24 7L25 6L26 4L27 7L28 3L29 5L30 1L31 4L32 0L33 0L34 -2L35 3L36 4L37 7L38 4M0 -1L1 -1L2 0L3 -2L4 -1L5 -1L6 3L7 5L8 16L9 15L10 12L11 -4L12 -9L13 -9L14 -6L15 -9L16 -10L17 -9L18 0L19 2L20 2L21 -1L22 1L23 5L24 4L25 1L26 4L27 9L28 11L29 5L30 3L31 1L32 0L33 -1L34 -4L35 -5L36 0L37 5L38 8M0 -2L1 3L2 6L3 4L4 4L5 5L6 6L7 10L8 13L9 14L10 8L11 0L12 -10L13 -9L14 -9L15 -3L16 -7L17 -11L18 -8L19 0L20 6L21 2L22 -3L23 -4L24 -3L25 0L26 1L27 5L28 6L29 4L30 5L31 1L32 1L33 2L34 4L35 2L36 -5L37 -8L38 -3M0 -2L1 2L2 6L3 8L4 5L5 6L6 7L7 11L8 15L9 18L10 15L11 1L12 -9L13 -12L14 -7L15 -5L16 -7L17 -6L18 -3L19 1L20 4L21 5L22 6L23 4L24 6L25 9L26 11L27 11L28 4L29 -2L30 -4L31 1L32 4L33 5L34 3L35 5L36 6L37 4L38 4M0 1L1 -2L2 2L3 1L4 -2L5 -5L6 1L7 9L8 18L9 15L10 4L11 -8L12 -12L13 -7L14 -4L15 -5L16 -5L17 -6L18 -6L19 -4L20 -2L21 1L22 4L23 9L24 8L25 8L26 0L27 -1L28 -2L29 -1L30 -2L31 -5L32 1L33 3L34 7L35 7L36 5L37 6L38 6M0 -2L1 -6L2 -1L3 -1L4 4L5 4L6 7L7 7L8 15L9 18L10 16L11 6L12 -4L13 -12L14 -13L15 -19L16 -16L17 -16L18 -7L19 -6L20 -1L21 -3L22 1L23 0L24 2L25 6L26 6L27 6L28 6L29 6L30 3L31 -2L32 -4L33 -2L34 2L35 6L36 7L37 7L38 4M0 -1L1 -1L2 1L3 3L4 8L5 9L6 9L7 5L8 7L9 12L10 8L11 6L12 -2L13 -3L14 -3L15 -3L16 -3L17 -5L18 -1L19 1L20 5L21 1L22 4L23 4L24 6L25 6L26 3L27 8L28 9L29 9L30 3L31 1L32 4L33 5L34 3L35 -2L36 -4L37 -3L38 0M0 0L1 -4L2 -5L3 -2L4 -2L5 -1L6 -3L7 2L8 9L9 12L10 10L11 3L12 -6L13 -13L14 -9L15 -3L16 1L17 -5L18 -4L19 -1L20 1L21 3L22 5L23 6L24 8L25 6L26 6L27 2L28 1L29 3L30 1L31 3L32 5L33 5L34 4L35 1L36 3L37 0L38 0M0 -1L1 8L2 5L3 1L4 -6L5 -4L6 -1L7 9L8 17L9 18L10 13L11 4L12 -6L13 -10L14 -12L15 -8L16 -7L17 -8L18 -2L19 -3L20 5L21 2L22 5L23 1L24 3L25 5L26 4L27 3L28 1L29 4L30 4L31 5L32 5L33 4L34 3L35 1L36 4L37 3L38 4M0 0L1 -2L2 0L3 -2L4 0L5 0L6 3L7 9L8 14L9 21L10 11L11 -2L12 -12L13 -13L14 -6L15 -10L16 -7L17 -11L18 -3L19 1L20 4L21 1L22 1L23 1L24 5L25 1L26 -1L27 -2L28 2L29 3L30 1L31 1L32 0L33 4L34 3L35 4L36 6L37 6L38 7M0 -3L1 -6L2 -3L3 -2L4 -2L5 1L6 2L7 7L8 12L9 15L10 7L11 -5L12 -16L13 -16L14 -13L15 -9L16 -10L17 -8L18 -2L19 2L20 5L21 4L22 5L23 3L24 3L25 3L26 6L27 3L28 2L29 1L30 4L31 2L32 -2L33 -6L34 -3L35 -1L36 1L37 -1L38 0M0 -3L1 -3L2 -2L3 -1L4 -2L5 0L6 2L7 9L8 14L9 17L10 8L11 0L12 -9L13 -10L14 -9L15 -11L16 -9L17 -10L18 -5L19 -3L20 -4L21 -6L22 -4L23 -3L24 -1L25 -5L26 -4L27 0L28 2L29 5L30 0L31 0L32 3L33 8L34 9L35 -2L36 -5L37 -7L38 1M0 6L1 4L2 2L3 1L4 -1L5 -1L6 -2L7 2L8 9L9 16L10 12L11 1L12 -7L13 -11L14 -11L15 -12L16 -5L17 -4L18 -1L19 -3L20 1L21 0L22 3L23 5L24 4L25 0L26 -4L27 -2L28 1L29 0L30 0L31 -1L32 2L33 6L34 4L35 6L36 1L37 1L38 -3M0 2L1 4L2 4L3 3L4 5L5 6L6 8L7 9L8 12L9 15L10 9L11 -3L12 -13L13 -19L14 -17L15 -12L16 -9L17 -6L18 -9L19 -4L20 -7L21 -2L22 1L23 7L24 10L25 6L26 5L27 1L28 -1L29 -1L30 5L31 7L32 7L33 5L34 5L35 2L36 -1L37 -1L38 5M0 -1L1 -2L2 -2L3 -6L4 0L5 -1L6 1L7 0L8 8L9 10L10 10L11 3L12 0L13 -5L14 -6L15 -7L16 -7L17 -4L18 -1L19 4L20 9L21 10L22 11L23 5L24 3L25 3L26 4L27 6L28 4L29 2L30 1L31 2L32 6L33 7L34 13L35 13L36 11L37 7L38 6M0 0L1 -3L2 -2L3 -4L4 -2L5 -1L6 3L7 6L8 15L9 19L10 13L11 -1L12 -9L13 -12L14 -8L15 -9L16 -6L17 -8L18 -2L19 -1L20 0L21 1L22 8L23 8L24 7L25 1L26 -1L27 -1L28 0L29 5L30 3L31 5L32 0L33 2L34 0L35 2L36 1L37 1L38 -1M0 -4L1 -3L2 1L3 7L4 6L5 3L6 -3L7 0L8 10L9 15L10 11L11 -3L12 -10L13 -13L14 -12L15 -10L16 -11L17 -13L18 -13L19 -10L20 -5L21 -3L22 2L23 2L24 3L25 1L26 3L27 3L28 5L29 4L30 3L31 2L32 3L33 4L34 2L35 -1L36 -4L37 -1L38 -1M0 0L1 0L2 1L3 0L4 -3L5 -7L6 -7L7 3L8 21L9 26L10 12L11 -4L12 -9L13 -4L14 -1L15 -2L16 -3L17 -6L18 -5L19 -3L20 2L21 4L22 2L23 -1L24 0L25 3L26 1L27 -2L28 -3L29 -3L30 -2L31 -1L32 2L33 5L34 10L35 8L36 4L37 -2L38 -2M0 -1L1 2L2 5L3 5L4 3L5 -2L6 -3L7 3L8 12L9 17L10 10L11 -2L12 -10L13 -11L14 -11L15 -8L16 -8L17 0L18 3L19 3L20 -1L21 -2L22 3L23 6L24 6L25 4L26 4L27 1L28 2L29 4L30 8L31 4L32 4L33 2L34 4L35 5L36 5L37 6L38 5M0 7L1 3L2 -2L3 -7L4 -6L5 0L6 5L7 11L8 14L9 15L10 10L11 -1L12 -9L13 -10L14 -10L15 -9L16 -13L17 -13L18 -7L19 -3L20 3L21 2L22 8L23 0L24 -1L25 -5L26 0L27 2L28 2L29 5L30 3L31 2L32 1L33 4L34 2L35 2L36 0L37 2L38 -2M0 -1L1 1L2 1L3 1L4 -2L5 -2L6 -3L7 4L8 11L9 17L10 8L11 -1L12 -13L13 -14L14 -16L15 -12L16 -10L17 -9L18 -9L19 -9L20 -5L21 -2L22 1L23 4L24 4L25 6L26 4L27 3L28 0L29 -1L30 4L31 7L32 7L33 2L34 4L35 4L36 5L37 5L38 4M0 -1L1 1L2 3L3 4L4 6L5 3L6 8L7 6L8 15L9 11L10 9L11 -2L12 -7L13 -11L14 -11L15 -4L16 -6L17 -3L18 -8L19 -3L20 0L21 1L22 6L23 5L24 4L25 -1L26 -2L27 2L28 1L29 1L30 -4L31 2L32 2L33 4L34 1L35 6L36 7L37 8L38 2M0 5L1 8L2 4L3 -3L4 -3L5 -6L6 -1L7 6L8 20L9 20L10 7L11 -5L12 -11L13 -9L14 -9L15 -6L16 -4L17 -2L18 -3L19 -3L20 -2L21 0L22 0L23 2L24 1L25 4L26 -1L27 -1L28 -2L29 2L30 9L31 9L32 8L33 6L34 2L35 3L36 0L37 4L38 3M0 2L1 -3L2 -1L3 -4L4 -4L5 -6L6 -2L7 5L8 13L9 17L10 7L11 -2L12 -11L13 -10L14 -11L15 -12L16 -11L17 -14L18 -9L19 -6L20 2L21 1L22 0L23 -2L24 -3L25 2L26 2L27 3L28 5L29 5L30 9L31 4L32 6L33 0L34 3L35 0L36 3L37 1L38 2M0 3L1 3L2 6L3 5L4 5L5 5L6 10L7 7L8 9L9 10L10 13L11 3L12 -10L13 -12L14 -10L15 -6L16 -11L17 -11L18 -6L19 -1L20 -1L21 1L22 3L23 6L24 0L25 0L26 -2L27 2L28 2L29 8L30 6L31 7L32 4L33 6L34 7L35 2L36 2L37 2L38 2M0 -4L1 -5L2 -1L3 0L4 3L5 -1L6 1L7 5L8 14L9 18L10 13L11 5L12 -5L13 -11L14 -10L15 -11L16 -12L17 -13L18 -9L19 1L20 5L21 3L22 -3L23 -2L24 -2L25 3L26 0L27 2L28 0L29 2L30 0L31 -2L32 -2L33 0L34 0L35 0L36 -3L37 -1L38 1M0 2L1 3L2 1L3 6L4 4L5 3L6 -2L7 5L8 13L9 20L10 13L11 4L12 -4L13 -8L14 -12L15 -12L16 -12L17 -8L18 -6L19 -3L20 2L21 -4L22 -3L23 -5L24 0L25 -3L26 -2L27 2L28 1L29 -4L30 -6L31 -4L32 -3L33 1L34 1L35 2L36 0L37 2L38 3M0 -4L1 -6L2 0L3 2L4 1L5 -1L6 2L7 9L8 16L9 19L10 11L11 -1L12 -12L13 -19L14 -20L15 -16L16 -13L17 -11L18 -12L19 -5L20 0L21 6L22 3L23 3L24 1L25 3L26 4L27 6L28 7L29 8L30 6L31 4L32 1L33 1L34 -2L35 1L36 0L37 2L38 -4M0 3L1 5L2 2L3 -2L4 -3L5 -2L6 7L7 10L8 19L9 20L10 15L11 0L12 -8L13 -11L14 -15L15 -15L16 -13L17 -4L18 1L19 4L20 1L21 1L22 -3L23 -3L24 -6L25 -3L26 -1L27 0L28 -1L29 0L30 -1L31 -2L32 0L33 3L34 5L35 2L36 2L37 -1L38 -3M0 5L1 2L2 0L3 -4L4 0L5 4L6 9L7 12L8 13L9 13L10 12L11 0L12 -7L13 -12L14 -9L15 -7L16 -8L17 -6L18 -6L19 -6L20 -5L21 -3L22 -3L23 0L24 2L25 5L26 4L27 3L28 5L29 4L30 4L31 4L32 7L33 5L34 -1L35 -5L36 -5L37 0L38 2M0 3L1 2L2 -1L3 -4L4 -8L5 -7L6 -8L7 2L8 12L9 18L10 13L11 3L12 -3L13 -10L14 -13L15 -16L16 -12L17 -11L18 -9L19 -8L20 -4L21 -1L22 -2L23 6L24 5L25 6L26 -1L27 -1L28 -1L29 -1L30 1L31 2L32 4L33 -1L34 -4L35 -4L36 3L37 6L38 5M0 6L1 9L2 6L3 5L4 -3L5 0L6 2L7 7L8 10L9 14L10 11L11 2L12 -8L13 -8L14 -6L15 -6L16 -12L17 -15L18 -10L19 -4L20 0L21 2L22 0L23 1L24 -2L25 -2L26 -3L27 2L28 3L29 5L30 2L31 0L32 -5L33 -4L34 -1L35 1L36 1L37 0L38 2M0 2L1 -3L2 -3L3 -8L4 -2L5 0L6 0L7 1L8 9L9 15L10 5L11 -5L12 -13L13 -10L14 -9L15 -9L16 -11L17 -12L18 -9L19 -2L20 1L21 3L22 1L23 3L24 4L25 4L26 2L27 0L28 -1L29 2L30 5L31 6L32 1L33 2L34 5L35 7L36 5L37 5L38 1M0 10L1 8L2 5L3 3L4 4L5 4L6 5L7 10L8 14L9 17L10 14L11 4L12 -2L13 -3L14 -4L15 -4L16 -7L17 -2L18 -1L19 2L20 1L21 3L22 2L23 2L24 0L25 3L26 0L27 -2L28 -7L29 -6L30 -4L31 2L32 1L33 -1L34 1L35 2L36 2L37 -4L38 2M0 -1L1 -3L2 2L3 0L4 -1L5 -4L6 -7L7 2L8 7L9 18L10 16L11 4L12 -8L13 -9L14 -8L15 -7L16 -8L17 -10L18 -6L19 -6L20 -4L21 -4L22 -4L23 -4L24 -5L25 -8L26 -4L27 0L28 8L29 9L30 8L31 3L32 2L33 -1L34 -1L35 -2L36 0L37 3L38 3M0 2L1 -1L2 4L3 3L4 2L5 0L6 3L7 8L8 12L9 15L10 10L11 -3L12 -13L13 -16L14 -14L15 -13L16 -10L17 -5L18 -2L19 -3L20 -2L21 -3L22 1L23 2L24 6L25 5L26 1L27 0L28 -3L29 1L30 4L31 6L32 4L33 1L34 5L35 5L36 4L37 3L38 -1M0 -6L1 -3L2 -4L3 -3L4 -6L5 -3L6 -3L7 6L8 11L9 15L10 10L11 2L12 -7L13 -12L14 -13L15 -12L16 -9L17 -10L18 -10L19 -7L20 -3L21 -2L22 0L23 0L24 2L25 3L26 3L27 0L28 3L29 5L30 9L31 3L32 4L33 2L34 5L35 -1L36 0L37 0L38 2M0 -6L1 -10L2 -6L3 -5L4 -1L5 2L6 4L7 9L8 10L9 12L10 1L11 -9L12 -17L13 -16L14 -13L15 -10L16 -7L17 -10L18 -11L19 -6L20 2L21 4L22 4L23 2L24 4L25 3L26 0L27 -3L28 0L29 3L30 5L31 4L32 4L33 2L34 1L35 1L36 0L37 -4L38 -5M0 -3L1 -1L2 -2L3 4L4 3L5 5L6 4L7 10L8 14L9 14L10 5L11 -1L12 -7L13 -6L14 -9L15 -9L16 -5L17 -1L18 0L19 -4L20 -3L21 1L22 6L23 4L24 0L25 -3L26 3L27 4L28 7L29 1L30 5L31 1L32 1L33 -3L34 3L35 8L36 9L37 5L38 1M0 1L1 7L2 5L3 2L4 -4L5 -5L6 -4L7 7L8 16L9 21L10 18L11 -1L12 -10L13 -16L14 -8L15 -8L16 -11L17 -7L18 -4L19 2L20 -1L21 0L22 1L23 5L24 5L25 4L26 0L27 1L28 -1L29 0L30 -3L31 0L32 -2L33 -1L34 1L35 5L36 8L37 2L38 3M0 -5L1 -8L2 -2L3 -1L4 -4L5 -6L6 -3L7 6L8 13L9 14L10 4L11 -7L12 -16L13 -17L14 -15L15 -11L16 -11L17 -10L18 -10L19 -4L20 -2L21 0L22 5L23 2L24 -1L25 -2L26 3L27 8L28 1L29 -1L30 -2L31 3L32 1L33 4L34 0L35 4L36 -1L37 -1L38 -7M0 -2L1 3L2 5L3 2L4 3L5 3L6 9L7 11L8 16L9 14L10 8L11 -1L12 -7L13 -8L14 -11L15 -11L16 -7L17 -6L18 -7L19 -12L20 -9L21 0L22 6L23 6L24 6L25 3L26 5L27 8L28 13L29 13L30 9L31 2L32 2L33 3L34 3L35 0L36 -1L37 2L38 2M0 2L1 1L2 5L3 5L4 4L5 -1L6 -2L7 1L8 6L9 8L10 6L11 1L12 -6L13 -8L14 -6L15 -7L16 -8L17 -9L18 -6L19 -4L20 -3L21 3L22 3L23 6L24 4L25 5L26 3L27 0L28 0L29 4L30 5L31 2L32 0L33 -1L34 3L35 0L36 2L37 1L38 2M0 0L1 1L2 2L3 1L4 0L5 -2L6 -1L7 8L8 17L9 17L10 7L11 -5L12 -12L13 -11L14 -12L15 -9L16 -8L17 -1L18 3L19 5L20 4L21 6L22 5L23 3L24 2L25 3L26 8L27 9L28 8L29 5L30 4L31 4L32 3L33 3L34 3L35 8L36 3L37 4L38 3M0 -1L1 1L2 -2L3 0L4 6L5 8L6 9L7 10L8 16L9 17L10 8L11 2L12 -11L13 -9L14 -11L15 -6L16 -9L17 -8L18 -4L19 1L20 1L21 1L22 -1L23 -2L24 -2L25 -1L26 4L27 4L28 5L29 4L30 3L31 3L32 4L33 5L34 5L35 1L36 1L37 -2L38 0M0 0L1 1L2 0L3 2L4 0L5 1L6 -2L7 5L8 15L9 19L10 15L11 0L12 -7L13 -12L14 -9L15 -8L16 -7L17 -6L18 -5L19 -3L20 -1L21 3L22 4L23 2L24 1L25 3L26 4L27 4L28 2L29 2L30 1L31 0L32 -2L33 -2L34 -8L35 -3L36 -1L37 4L38 -1M0 -1L1 -5L2 -1L3 -4L4 0L5 1L6 7L7 13L8 18L9 18L10 14L11 5L12 -7L13 -9L14 -11L15 -7L16 -9L17 -5L18 -7L19 -6L20 -10L21 -3L22 4L23 5L24 4L25 1L26 1L27 -1L28 1L29 5L30 6L31 7L32 2L33 3L34 0L35 4L36 0L37 -1L38 1M0 -10L1 -7L2 -5L3 1L4 -4L5 -3L6 -3L7 3L8 9L9 15L10 12L11 -3L12 -10L13 -8L14 4L15 -3L16 -7L17 -11L18 2L19 6L20 3L21 -3L22 -2L23 -3L24 0L25 -1L26 7L27 6L28 4L29 -1L30 -6L31 -6L32 -7L33 0L34 3L35 6L36 5L37 4L38 4M0 -1L1 0L2 -3L3 -3L4 -4L5 -4L6 -1L7 7L8 15L9 14L10 6L11 -4L12 -10L13 -10L14 -9L15 -10L16 -12L17 -12L18 -11L19 -9L20 -8L21 -3L22 -7L23 -2L24 -4L25 2L26 1L27 2L28 2L29 0L30 2L31 1L32 2L33 -3L34 -1L35 -2L36 2L37 0L38 5M0 -3L1 -4L2 -2L3 3L4 3L5 -1L6 -1L7 2L8 11L9 15L10 6L11 -11L12 -24L13 -24L14 -16L15 -9L16 -10L17 -8L18 -6L19 -1L20 -1L21 -4L22 1L23 1L24 3L25 0L26 2L27 4L28 3L29 1L30 -3L31 -2L32 2L33 8L34 7L35 2L36 0L37 -1L38 0M0 -6L1 -7L2 -4L3 0L4 1L5 5L6 5L7 17L8 16L9 18L10 5L11 -6L12 -13L13 -20L14 -15L15 -11L16 -8L17 -9L18 -12L19 -7L20 -2L21 3L22 3L23 4L24 4L25 5L26 6L27 5L28 4L29 2L30 -1L31 1L32 2L33 5L34 7L35 3L36 -3L37 -8L38 -9M0 -2L1 0L2 8L3 6L4 2L5 -1L6 1L7 7L8 10L9 15L10 11L11 2L12 -5L13 -11L14 -11L15 -12L16 -7L17 -5L18 2L19 7L20 7L21 5L22 7L23 5L24 5L25 0L26 2L27 5L28 6L29 8L30 5L31 6L32 2L33 4L34 3L35 4L36 2L37 4L38 5M0 1L1 0L2 2L3 3L4 1L5 -4L6 -5L7 0L8 11L9 16L10 15L11 5L12 -2L13 -9L14 -11L15 -10L16 -9L17 -3L18 -1L19 4L20 -2L21 1L22 2L23 5L24 2L25 0L26 4L27 5L28 7L29 5L30 2L31 2L32 0L33 -1L34 -3L35 -5L36 0L37 0L38 3M0 -4L1 -1L2 -3L3 -2L4 -2L5 5L6 6L7 9L8 12L9 15L10 12L11 3L12 -7L13 -11L14 -14L15 -7L16 -5L17 1L18 -2L19 -2L20 -4L21 -2L22 -3L23 2L24 1L25 6L26 5L27 6L28 4L29 3L30 5L31 5L32 6L33 6L34 7L35 5L36 6L37 5L38 4M0 1L1 -1L2 1L3 -1L4 1L5 -1L6 -1L7 4L8 14L9 15L10 5L11 -5L12 -16L13 -14L14 -17L15 -16L16 -13L17 -8L18 -2L19 -4L20 0L21 0L22 1L23 0L24 -1L25 0L26 0L27 -1L28 2L29 1L30 3L31 1L32 5L33 3L34 2L35 1L36 2L37 4L38 2M0 -5L1 -6L2 -2L3 0L4 0L5 -4L6 -2L7 7L8 16L9 14L10 9L11 -1L12 -6L13 -8L14 -8L15 -6L16 -5L17 -2L18 -2L19 -5L20 -4L21 -3L22 1L23 1L24 6L25 5L26 3L27 -2L28 -1L29 2L30 6L31 6L32 4L33 -2L34 -1L35 1L36 5L37 7L38 5M0 -2L1 1L2 2L3 1L4 -3L5 -2L6 1L7 8L8 11L9 11L10 6L11 2L12 -8L13 -12L14 -18L15 -15L16 -15L17 -11L18 -3L19 2L20 5L21 0L22 -1L23 -1L24 2L25 0L26 -2L27 0L28 7L29 8L30 2L31 -3L32 -5L33 -8L34 -7L35 -6L36 3L37 5L38 7M0 -4L1 0L2 -4L3 -4L4 -5L5 -1L6 4L7 13L8 18L9 21L10 10L11 -3L12 -12L13 -12L14 -9L15 -9L16 -9L17 -1L18 1L19 4L20 0L21 -1L22 -4L23 -4L24 -2L25 6L26 6L27 9L28 3L29 3L30 -1L31 -3L32 -1L33 0L34 0L35 -4L36 -3L37 0L38 2M0 -1L1 2L2 2L3 5L4 2L5 2L6 2L7 1L8 8L9 7L10 7L11 -2L12 -9L13 -11L14 -11L15 -9L16 -9L17 -11L18 -6L19 0L20 4L21 7L22 9L23 9L24 4L25 -2L26 -8L27 -9L28 -7L29 3L30 5L31 6L32 3L33 0L34 2L35 7L36 12L37 12L38 4M0 6L1 6L2 -2L3 -5L4 -6L5 -1L6 0L7 3L8 5L9 11L10 5L11 1L12 -6L13 -3L14 -4L15 -3L16 -5L17 -1L18 -5L19 -3L20 -2L21 1L22 1L23 3L24 4L25 5L26 3L27 5L28 5L29 3L30 2L31 2L32 6L33 5L34 2L35 -3L36 1L37 -3L38 -1M0 4L1 3L2 3L3 5L4 6L5 0L6 2L7 5L8 14L9 17L10 13L11 6L12 -7L13 -10L14 -15L15 -11L16 -9L17 -7L18 -2L19 0L20 2L21 0L22 2L23 5L24 6L25 0L26 -3L27 -4L28 0L29 2L30 3L31 1L32 2L33 4L34 9L35 5L36 5L37 -1L38 0M0 -4L1 -2L2 1L3 4L4 1L5 -1L6 -3L7 2L8 12L9 15L10 8L11 0L12 -6L13 -9L14 -11L15 -14L16 -10L17 -3L18 1L19 0L20 -3L21 -5L22 -7L23 -6L24 -4L25 3L26 2L27 5L28 5L29 5L30 6L31 3L32 5L33 3L34 0L35 -1L36 3L37 5L38 7M0 -1L1 2L2 0L3 7L4 5L5 5L6 4L7 12L8 21L9 19L10 14L11 4L12 -3L13 -7L14 -8L15 -5L16 -3L17 -3L18 -1L19 -1L20 -1L21 -3L22 1L23 3L24 2L25 -3L26 0L27 2L28 6L29 2L30 2L31 0L32 -1L33 1L34 -1L35 3L36 5L37 6L38 8M0 1L1 -3L2 1L3 4L4 3L5 2L6 -1L7 5L8 16L9 18L10 10L11 -4L12 -10L13 -13L14 -10L15 -10L16 -7L17 -7L18 -3L19 0L20 2L21 3L22 1L23 3L24 8L25 8L26 3L27 -1L28 -2L29 4L30 6L31 6L32 2L33 -2L34 1L35 5L36 8L37 7L38 6M0 -5L1 -4L2 1L3 3L4 3L5 0L6 0L7 3L8 12L9 17L10 12L11 -2L12 -12L13 -15L14 -13L15 -9L16 -6L17 -5L18 -7L19 -7L20 -3L21 1L22 4L23 6L24 6L25 1L26 4L27 3L28 7L29 3L30 5L31 1L32 -1L33 -5L34 -4L35 1L36 3L37 4L38 0M0 6L1 3L2 1L3 0L4 -3L5 0L6 0L7 4L8 9L9 10L10 6L11 -4L12 -11L13 -10L14 -4L15 -2L16 -2L17 -10L18 -7L19 -3L20 3L21 0L22 0L23 5L24 9L25 11L26 6L27 4L28 3L29 5L30 5L31 4L32 3L33 3L34 4L35 3L36 2L37 1L38 3M0 1L1 -8L2 -7L3 -6L4 -2L5 0L6 0L7 9L8 12L9 15L10 7L11 -4L12 -13L13 -14L14 -8L15 -7L16 -3L17 -6L18 2L19 -1L20 2L21 -3L22 0L23 0L24 3L25 1L26 4L27 1L28 -3L29 -8L30 2L31 6L32 10L33 3L34 2L35 -2L36 1L37 3L38 6M0 -1L1 0L2 -3L3 -5L4 -4L5 -6L6 1L7 4L8 13L9 15L10 7L11 -2L12 -10L13 -9L14 -7L15 -4L16 -5L17 -8L18 -8L19 -4L20 -4L21 -4L22 -3L23 -1L24 -2L25 0L26 1L27 8L28 7L29 2L30 1L31 0L32 4L33 0L34 3L35 2L36 1L37 -4L38 -4M0 3L1 3L2 3L3 8L4 3L5 1L6 1L7 9L8 16L9 15L10 6L11 -6L12 -8L13 -14L14 -9L15 -13L16 -6L17 -4L18 -3L19 -3L20 -2L21 3L22 2L23 4L24 0L25 4L26 2L27 6L28 3L29 0L30 2L31 7L32 4L33 0L34 -3L35 6L36 7L37 7L38 -1M0 -1L1 -1L2 -1L3 -1L4 1L5 2L6 5L7 7L8 15L9 14L10 7L11 -6L12 -13L13 -20L14 -15L15 -12L16 -6L17 -5L18 -5L19 -6L20 -5L21 -4L22 -5L23 -5L24 0L25 7L26 4L27 2L28 2L29 7L30 7L31 6L32 7L33 4L34 4L35 5L36 5L37 3L38 -4M0 2L1 4L2 2L3 3L4 4L5 1L6 3L7 4L8 18L9 20L10 10L11 -4L12 -14L13 -10L14 -8L15 -5L16 -8L17 -8L18 -10L19 -9L20 -9L21 -3L22 1L23 3L24 7L25 8L26 6L27 4L28 6L29 8L30 3L31 -3L32 1L33 5L34 9L35 4L36 5L37 5L38 5M0 -3L1 -1L2 -2L3 0L4 1L5 3L6 -3L7 6L8 10L9 16L10 9L11 1L12 -8L13 -12L14 -13L15 -10L16 -11L17 -11L18 -10L19 -3L20 -2L21 3L22 -1L23 -1L24 -5L25 -5L26 -4L27 0L28 2L29 3L30 -2L31 -5L32 -4L33 1L34 4L35 5L36 0L37 2L38 -5M0 -3L1 0L2 4L3 3L4 3L5 -3L6 -3L7 -3L8 6L9 9L10 3L11 -4L12 -9L13 -9L14 -9L15 -6L16 -9L17 -8L18 -4L19 2L20 3L21 3L22 7L23 6L24 6L25 6L26 6L27 5L28 -1L29 -2L30 -1L31 -2L32 3L33 -1L34 2L35 -1L36 2L37 0L38 0M0 0L1 1L2 -3L3 -6L4 -8L5 0L6 0L7 8L8 16L9 22L10 13L11 1L12 -7L13 -4L14 -8L15 -3L16 -5L17 -2L18 -5L19 -6L20 -2L21 2L22 2L23 1L24 -2L25 -4L26 -3L27 1L28 5L29 1L30 1L31 -2L32 2L33 1L34 5L35 5L36 4L37 2L38 2M0 2L1 1L2 0L3 -2L4 0L5 5L6 5L7 9L8 15L9 17L10 13L11 -2L12 -10L13 -17L14 -17L15 -15L16 -14L17 -7L18 -5L19 0L20 0L21 6L22 9L23 9L24 3L25 1L26 3L27 4L28 0L29 -6L30 -4L31 -4L32 1L33 -1L34 1L35 -1L36 -2L37 -4L38 -5M0 -6L1 -3L2 -4L3 -2L4 -4L5 0L6 6L7 13L8 21L9 16L10 9L11 -5L12 -8L13 -11L14 -8L15 -5L16 -5L17 -10L18 -7L19 -8L20 1L21 -2L22 0L23 -2L24 -1L25 1L26 4L27 7L28 4L29 6L30 -1L31 2L32 -3L33 4L34 3L35 7L36 5L37 6L38 6M0 -1L1 -3L2 4L3 2L4 1L5 -4L6 -7L7 1L8 8L9 11L10 6L11 -5L12 -8L13 -12L14 -7L15 -4L16 -1L17 -2L18 -2L19 1L20 -1L21 -5L22 -6L23 -1L24 -2L25 2L26 3L27 9L28 4L29 3L30 -1L31 1L32 4L33 6L34 4L35 -2L36 -7L37 -3L38 0M0 -4L1 -5L2 -1L3 0L4 0L5 -1L6 0L7 3L8 9L9 16L10 10L11 -3L12 -14L13 -13L14 -9L15 -4L16 -4L17 -1L18 -5L19 -2L20 -5L21 -3L22 -4L23 0L24 5L25 6L26 4L27 4L28 3L29 3L30 -4L31 -3L32 -2L33 5L34 3L35 3L36 3L37 6L38 2M0 -5L1 -12L2 -12L3 -6L4 -2L5 2L6 -1L7 8L8 11L9 15L10 2L11 -6L12 -13L13 -8L14 -12L15 -9L16 -7L17 -2L18 1L19 -1L20 0L21 0L22 4L23 4L24 5L25 5L26 3L27 3L28 -3L29 -1L30 1L31 3L32 2L33 -4L34 -2L35 -8L36 -9L37 -10L38 -4M0 5L1 1L2 -2L3 -2L4 -3L5 -6L6 -8L7 -1L8 12L9 18L10 14L11 2L12 -9L13 -12L14 -15L15 -9L16 -3L17 -3L18 -5L19 -5L20 2L21 2L22 0L23 0L24 2L25 3L26 4L27 4L28 8L29 4L30 3L31 2L32 3L33 3L34 0L35 3L36 2L37 3L38 2M0 -3L1 -1L2 -2L3 -3L4 -3L5 -2L6 4L7 5L8 11L9 11L10 4L11 -7L12 -13L13 -9L14 -6L15 -6L16 -8L17 -5L18 -2L19 -2L20 -4L21 -2L22 1L23 6L24 2L25 3L26 5L27 5L28 3L29 -2L30 3L31 2L32 2L33 2L34 1L35 2L36 -3L37 -6L38 -7M0 1L1 -1L2 1L3 -2L4 1L5 -2L6 -2L7 4L8 11L9 15L10 7L11 -3L12 -10L13 -11L14 -4L15 -5L16 -5L17 -6L18 -4L19 -4L20 -5L21 -5L22 0L23 3L24 8L25 2L26 -2L27 -7L28 -3L29 0L30 4L31 2L32 3L33 3L34 3L35 0L36 -1L37 -4L38 -1M0 -3L1 -3L2 -6L3 0L4 2L5 5L6 -1L7 0L8 5L9 11L10 6L11 -4L12 -11L13 -12L14 -13L15 -11L16 -9L17 -7L18 -8L19 -3L20 -4L21 1L22 -3L23 0L24 -3L25 0L26 3L27 -1L28 -4L29 -6L30 -2L31 0L32 -1L33 -6L34 -11L35 -11L36 0L37 3L38 7M0 2L1 -2L2 -4L3 1L4 6L5 6L6 5L7 9L8 16L9 17L10 11L11 6L12 -2L13 -7L14 -10L15 -6L16 -5L17 -3L18 -5L19 -3L20 -5L21 -1L22 -1L23 2L24 -3L25 -2L26 -1L27 3L28 6L29 4L30 5L31 -2L32 1L33 2L34 5L35 3L36 4L37 9L38 7M0 -3L1 -2L2 1L3 -2L4 2L5 -3L6 -1L7 0L8 9L9 13L10 7L11 -2L12 -9L13 -8L14 -9L15 -11L16 -12L17 -10L18 -8L19 -8L20 -10L21 -9L22 -7L23 -7L24 -6L25 -4L26 1L27 7L28 7L29 6L30 2L31 2L32 0L33 1L34 4L35 6L36 6L37 3L38 5M0 3L1 6L2 6L3 11L4 7L5 3L6 -3L7 4L8 11L9 15L10 7L11 -1L12 -9L13 -12L14 -14L15 -13L16 -10L17 -8L18 -6L19 -3L20 1L21 3L22 5L23 2L24 2L25 -3L26 -2L27 3L28 4L29 11L30 9L31 9L32 3L33 2L34 0L35 0L36 1L37 9L38 11M0 3L1 5L2 4L3 2L4 4L5 0L6 1L7 3L8 12L9 14L10 8L11 -1L12 -9L13 -13L14 -12L15 -10L16 -9L17 -8L18 -5L19 -2L20 2L21 4L22 7L23 4L24 0L25 -3L26 1L27 5L28 10L29 4L30 6L31 3L32 7L33 6L34 8L35 7L36 4L37 0L38 0M0 -1L1 -7L2 -6L3 -6L4 -3L5 -3L6 0L7 2L8 6L9 7L10 3L11 -6L12 -11L13 -12L14 -6L15 -7L16 -4L17 -4L18 -9L19 -9L20 -8L21 0L22 3L23 -1L24 -4L25 -5L26 -1L27 -1L28 0L29 3L30 2L31 -1L32 -4L33 -1L34 3L35 4L36 2L37 4L38 9M0 6L1 3L2 -4L3 -4L4 -4L5 3L6 10L7 14L8 18L9 18L10 10L11 -2L12 -12L13 -13L14 -16L15 -15L16 -16L17 -7L18 1L19 7L20 8L21 4L22 7L23 4L24 3L25 -1L26 -1L27 3L28 5L29 7L30 2L31 -1L32 0L33 0L34 3L35 2L36 4L37 3L38 3M0 -3L1 -5L2 0L3 -2L4 1L5 1L6 5L7 9L8 12L9 14L10 8L11 1L12 -4L13 -7L14 -3L15 -3L16 1L17 -2L18 -2L19 -3L20 -1L21 0L22 6L23 5L24 5L25 1L26 3L27 4L28 10L29 7L30 4L31 -1L32 0L33 7L34 5L35 4L36 -3L37 1L38 1M0 -1L1 0L2 1L3 4L4 0L5 4L6 4L7 11L8 17L9 20L10 13L11 -3L12 -14L13 -12L14 -7L15 -7L16 -9L17 -12L18 -11L19 -11L20 -9L21 -3L22 1L23 3L24 1L25 3L26 3L27 8L28 5L29 1L30 0L31 1L32 2L33 0L34 1L35 3L36 6L37 5L38 0M0 3L1 3L2 1L3 4L4 1L5 7L6 3L7 10L8 11L9 13L10 7L11 -2L12 -7L13 -8L14 -8L15 -8L16 -10L17 -8L18 -9L19 -5L20 -3L21 1L22 4L23 4L24 6L25 7L26 11L27 9L28 5L29 4L30 7L31 10L32 10L33 6L34 6L35 6L36 9L37 4L38 1M0 0L1 5L2 9L3 4L4 4L5 -1L6 7L7 9L8 12L9 9L10 1L11 -4L12 -10L13 -12L14 -14L15 -16L16 -13L17 -9L18 -5L19 -2L20 -2L21 2L22 3L23 4L24 3L25 3L26 4L27 4L28 5L29 5L30 2L31 2L32 1L33 4L34 3L35 2L36 3L37 3L38 4M0 2L1 1L2 -1L3 0L4 2L5 1L6 1L7 3L8 13L9 13L10 11L11 2L12 -4L13 -8L14 -13L15 -10L16 -14L17 -12L18 -7L19 -2L20 1L21 -4L22 -2L23 0L24 2L25 4L26 3L27 8L28 5L29 4L30 -3L31 0L32 2L33 2L34 -2L35 -1L36 -1L37 1L38 -3M0 -1L1 -1L2 -1L3 -1L4 -2L5 -6L6 0L7 7L8 18L9 17L10 10L11 -8L12 -13L13 -17L14 -9L15 -11L16 -7L17 -8L18 -5L19 -4L20 2L21 2L22 1L23 -2L24 3L25 5L26 7L27 4L28 8L29 8L30 8L31 2L32 3L33 1L34 1L35 -3L36 -2L37 -3L38 0M0 5L1 5L2 6L3 2L4 4L5 4L6 6L7 7L8 8L9 9L10 5L11 -2L12 -7L13 -12L14 -12L15 -11L16 -8L17 -4L18 1L19 3L20 1L21 -3L22 -2L23 2L24 4L25 5L26 4L27 1L28 2L29 3L30 5L31 2L32 3L33 4L34 4L35 3L36 0L37 1L38 3M0 5L1 3L2 -1L3 -4L4 -2L5 -5L6 -3L7 1L8 10L9 13L10 4L11 -7L12 -17L13 -18L14 -11L15 -7L16 0L17 -2L18 0L19 1L20 4L21 4L22 3L23 0L24 1L25 -1L26 -2L27 -1L28 1L29 3L30 0L31 -4L32 -6L33 -1L34 2L35 3L36 -2L37 3L38 5M0 -2L1 1L2 2L3 4L4 -3L5 -1L6 -3L7 2L8 8L9 10L10 6L11 -2L12 -15L13 -16L14 -16L15 -8L16 -7L17 -5L18 1L19 1L20 4L21 2L22 4L23 4L24 -1L25 0L26 -1L27 6L28 5L29 1L30 -2L31 1L32 3L33 5L34 7L35 8L36 8L37 2L38 -2M0 2L1 4L2 2L3 -2L4 -4L5 0L6 6L7 11L8 15L9 16L10 7L11 -6L12 -16L13 -15L14 -9L15 -6L16 -5L17 -5L18 -5L19 -4L20 -4L21 2L22 1L23 1L24 -3L25 -3L26 0L27 3L28 0L29 -4L30 -4L31 2L32 5L33 4L34 0L35 1L36 5L37 6L38 5M0 2L1 0L2 1L3 1L4 -1L5 -2L6 -6L7 1L8 12L9 19L10 9L11 -6L12 -12L13 -11L14 -10L15 -9L16 -8L17 -7L18 -5L19 -2L20 1L21 1L22 0L23 -3L24 0L25 0L26 1L27 1L28 -1L29 -2L30 -4L31 -2L32 -1L33 0L34 2L35 -1L36 -2L37 -2L38 3M0 0L1 0L2 -1L3 0L4 -5L5 0L6 2L7 5L8 8L9 8L10 5L11 -5L12 -11L13 -10L14 -9L15 -8L16 -8L17 -11L18 -11L19 -7L20 -3L21 2L22 2L23 4L24 3L25 3L26 5L27 4L28 5L29 1L30 5L31 5L32 7L33 1L34 -2L35 -6L36 -2L37 -2L38 0M0 -5L1 -7L2 -6L3 -4L4 -2L5 0L6 -1L7 6L8 11L9 15L10 12L11 1L12 -8L13 -15L14 -14L15 -11L16 -6L17 -2L18 -1L19 -1L20 0L21 3L22 6L23 6L24 -2L25 -3L26 -3L27 -1L28 3L29 5L30 7L31 6L32 3L33 1L34 -2L35 2L36 5L37 8L38 7M0 4L1 3L2 3L3 0L4 -3L5 2L6 2L7 8L8 11L9 14L10 7L11 -9L12 -18L13 -18L14 -11L15 -3L16 -4L17 -3L18 -7L19 0L20 1L21 4L22 -1L23 0L24 -2L25 -1L26 -3L27 0L28 6L29 5L30 3L31 -1L32 2L33 -1L34 -2L35 -2L36 2L37 5L38 6M0 3L1 -1L2 -4L3 -5L4 -2L5 -1L6 -4L7 -1L8 7L9 11L10 4L11 -6L12 -10L13 -8L14 -11L15 -11L16 -10L17 -5L18 -6L19 -4L20 -9L21 -4L22 0L23 1L24 2L25 1L26 7L27 6L28 5L29 4L30 1L31 0L32 -3L33 -2L34 -1L35 1L36 3L37 3L38 2M0 0L1 0L2 1L3 1L4 -1L5 -1L6 4L7 12L8 18L9 19L10 10L11 -1L12 -11L13 -15L14 -13L15 -14L16 -11L17 -15L18 -6L19 -1L20 2L21 2L22 3L23 7L24 6L25 3L26 4L27 1L28 6L29 6L30 6L31 2L32 4L33 6L34 2L35 0L36 -2L37 3L38 3M0 -5L1 -4L2 -6L3 -2L4 -4L5 1L6 2L7 8L8 16L9 20L10 13L11 1L12 -11L13 -13L14 -11L15 -8L16 -6L17 -7L18 -5L19 -8L20 -7L21 -6L22 -3L23 1L24 2L25 4L26 3L27 3L28 8L29 8L30 7L31 1L32 0L33 -2L34 2L35 1L36 6L37 4L38 4M0 4L1 0L2 1L3 2L4 -2L5 -5L6 -5L7 4L8 9L9 11L10 7L11 0L12 -6L13 -8L14 -10L15 -13L16 -16L17 -16L18 -12L19 -5L20 -4L21 -1L22 1L23 5L24 1L25 -4L26 -3L27 -4L28 -2L29 -2L30 4L31 2L32 2L33 0L34 -2L35 -1L36 2L37 4L38 3M0 -2L1 2L2 4L3 2L4 -2L5 -2L6 2L7 8L8 11L9 8L10 3L11 -4L12 -7L13 -10L14 -7L15 -7L16 -8L17 -14L18 -18L19 -10L20 -2L21 1L22 -4L23 -3L24 0L25 8L26 5L27 6L28 0L29 -2L30 -2L31 0L32 1L33 1L34 -1L35 -4L36 -2L37 0L38 6M0 0L1 0L2 -4L3 -5L4 -4L5 1L6 -1L7 6L8 11L9 18L10 6L11 -4L12 -12L13 -13L14 -13L15 -11L16 -8L17 -5L18 -5L19 -3L20 -2L21 0L22 0L23 7L24 7L25 7L26 3L27 3L28 4L29 0L30 1L31 2L32 7L33 5L34 5L35 3L36 0L37 0L38 1M0 -7L1 -4L2 2L3 -1L4 0L5 -1L6 -2L7 6L8 10L9 13L10 5L11 -5L12 -8L13 -11L14 -9L15 -8L16 -5L17 -7L18 -7L19 -4L20 3L21 6L22 5L23 2L24 1L25 0L26 4L27 0L28 0L29 -4L30 1L31 4L32 2L33 0L34 -3L35 0L36 1L37 2L38 5M0 6L1 7L2 1L3 -1L4 -5L5 -2L6 2L7 8L8 15L9 18L10 11L11 2L12 -9L13 -16L14 -16L15 -15L16 -6L17 -3L18 1L19 3L20 3L21 2L22 3L23 1L24 3L25 0L26 1L27 -4L28 -3L29 -1L30 1L31 2L32 2L33 4L34 3L35 3L36 3L37 7L38 9M0 3L1 1L2 -7L3 -7L4 -3L5 2L6 2L7 9L8 16L9 17L10 5L11 -6L12 -16L13 -16L14 -10L15 -3L16 1L17 -4L18 -5L19 -3L20 2L21 3L22 6L23 2L24 4L25 -1L26 0L27 -2L28 0L29 2L30 3L31 4L32 5L33 3L34 2L35 2L36 6L37 5L38 4M0 3L1 1L2 2L3 6L4 5L5 4L6 2L7 4L8 7L9 6L10 3L11 -1L12 -4L13 -10L14 -7L15 -11L16 -5L17 -11L18 -3L19 -1L20 7L21 7L22 8L23 6L24 4L25 0L26 2L27 4L28 4L29 1L30 0L31 1L32 0L33 0L34 -1L35 5L36 7L37 10L38 3M0 0L1 -1L2 2L3 3L4 4L5 -1L6 2L7 5L8 12L9 10L10 6L11 -2L12 -5L13 -7L14 -11L15 -15L16 -16L17 -8L18 -3L19 2L20 2L21 1L22 -1L23 -3L24 -1L25 -4L26 1L27 -3L28 -2L29 -5L30 0L31 1L32 1L33 -2L34 1L35 1L36 3L37 4L38 5M0 -3L1 -3L2 -4L3 -4L4 -4L5 -1L6 6L7 9L8 15L9 12L10 4L11 -8L12 -13L13 -13L14 -9L15 -8L16 -6L17 -8L18 -8L19 -4L20 -2L21 1L22 1L23 4L24 0L25 2L26 4L27 7L28 3L29 -2L30 -3L31 -1L32 0L33 4L34 4L35 4L36 2L37 1L38 1M0 1L1 -5L2 -8L3 -13L4 -11L5 -9L6 -6L7 0L8 9L9 12L10 7L11 -3L12 -11L13 -12L14 -13L15 -8L16 -5L17 -5L18 -3L19 -1L20 3L21 3L22 2L23 0L24 3L25 2L26 1L27 -1L28 2L29 2L30 4L31 5L32 1L33 -2L34 -3L35 4L36 2L37 3L38 1M0 1L1 2L2 1L3 3L4 2L5 0L6 1L7 1L8 9L9 11L10 10L11 -2L12 -8L13 -12L14 -7L15 -14L16 -13L17 -13L18 -6L19 -1L20 1L21 3L22 -1L23 -2L24 2L25 5L26 6L27 1L28 -1L29 1L30 3L31 7L32 2L33 5L34 -2L35 -3L36 -3L37 -3L38 -2M0 4L1 -1L2 -1L3 -6L4 -1L5 1L6 5L7 11L8 16L9 17L10 9L11 -1L12 -11L13 -12L14 -11L15 -8L16 -3L17 -1L18 0L19 -2L20 -2L21 0L22 0L23 0L24 0L25 2L26 2L27 1L28 -2L29 -1L30 3L31 3L32 7L33 7L34 10L35 8L36 6L37 4L38 4M0 4L1 2L2 1L3 3L4 2L5 0L6 -4L7 2L8 11L9 11L10 7L11 -5L12 -7L13 -9L14 -7L15 -4L16 -4L17 -1L18 0L19 4L20 4L21 -2L22 0L23 -1L24 3L25 1L26 7L27 6L28 4L29 0L30 7L31 6L32 7L33 2L34 2L35 2L36 1L37 -2L38 -7M0 -2L1 3L2 4L3 0L4 -2L5 -5L6 1L7 6L8 14L9 13L10 6L11 -4L12 -9L13 -7L14 -10L15 -7L16 -10L17 -2L18 -2L19 3L20 1L21 5L22 1L23 -2L24 -2L25 1L26 3L27 -2L28 1L29 -2L30 7L31 3L32 10L33 4L34 5L35 4L36 4L37 1L38 0M0 4L1 1L2 0L3 -3L4 -3L5 3L6 3L7 9L8 11L9 19L10 13L11 1L12 -10L13 -12L14 -11L15 -9L16 -7L17 -9L18 -9L19 -7L20 -1L21 3L22 3L23 2L24 2L25 4L26 3L27 -1L28 1L29 3L30 6L31 5L32 2L33 -1L34 -3L35 2L36 2L37 -1L38 -7M0 -4L1 -4L2 -4L3 -6L4 -6L5 -2L6 7L7 12L8 18L9 15L10 7L11 -4L12 -13L13 -13L14 -11L15 -10L16 -12L17 -5L18 -3L19 1L20 -3L21 -1L22 -2L23 0L24 2L25 1L26 -1L27 -2L28 1L29 0L30 1L31 -1L32 0L33 -1L34 0L35 1L36 0L37 0L38 -1M0 2L1 4L2 4L3 3L4 2L5 -1L6 -4L7 1L8 8L9 13L10 6L11 0L12 -11L13 -10L14 -10L15 -7L16 -11L17 -10L18 -7L19 -3L20 0L21 1L22 1L23 0L24 -3L25 -2L26 -3L27 3L28 6L29 10L30 5L31 3L32 3L33 9L34 4L35 2L36 -1L37 5L38 3M0 0L1 -1L2 0L3 0L4 -1L5 -3L6 -4L7 5L8 13L9 16L10 11L11 3L12 -6L13 -11L14 -12L15 -7L16 -9L17 -8L18 -5L19 0L20 1L21 1L22 -1L23 1L24 3L25 2L26 2L27 0L28 2L29 3L30 4L31 5L32 4L33 1L34 1L35 0L36 2L37 -1L38 -2M0 3L1 3L2 5L3 1L4 -1L5 0L6 2L7 6L8 12L9 16L10 10L11 1L12 -10L13 -10L14 -10L15 -11L16 -11L17 -9L18 -4L19 -1L20 -2L21 1L22 1L23 4L24 2L25 0L26 2L27 3L28 0L29 1L30 3L31 8L32 5L33 3L34 0L35 2L36 -2L37 -2L38 -2M0 8L1 6L2 5L3 4L4 1L5 0L6 4L7 11L8 19L9 11L10 0L11 -13L12 -21L13 -21L14 -20L15 -8L16 -9L17 -4L18 -6L19 -1L20 -1L21 -3L22 0L23 2L24 6L25 6L26 2L27 2L28 2L29 1L30 2L31 0L32 2L33 -1L34 3L35 0L36 1L37 0L38 3M0 -6L1 -2L2 -4L3 -2L4 -7L5 -3L6 -2L7 5L8 16L9 18L10 13L11 2L12 -5L13 -8L14 -9L15 -5L16 -5L17 -4L18 -4L19 -4L20 -4L21 -4L22 -1L23 1L24 2L25 -1L26 -2L27 0L28 1L29 4L30 5L31 7L32 8L33 4L34 4L35 -2L36 2L37 -2L38 3M0 -1L1 -4L2 -6L3 -6L4 -4L5 -2L6 3L7 8L8 16L9 22L10 14L11 0L12 -16L13 -18L14 -19L15 -8L16 -1L17 0L18 -2L19 -9L20 -3L21 -4L22 2L23 1L24 1L25 2L26 2L27 4L28 5L29 10L30 6L31 6L32 6L33 7L34 4L35 1L36 2L37 6L38 8M0 2L1 0L2 -2L3 -7L4 -7L5 -3L6 -1L7 4L8 11L9 17L10 12L11 0L12 -13L13 -17L14 -15L15 -11L16 -8L17 -4L18 1L19 2L20 -3L21 -6L22 -7L23 1L24 0L25 2L26 -4L27 1L28 -2L29 3L30 1L31 8L32 1L33 -1L34 -1L35 4L36 6L37 1L38 6M0 4L1 6L2 5L3 2L4 -2L5 -5L6 -4L7 0L8 7L9 12L10 10L11 1L12 -9L13 -12L14 -15L15 -14L16 -15L17 -6L18 -6L19 -2L20 -3L21 6L22 9L23 8L24 6L25 6L26 9L27 8L28 9L29 7L30 3L31 -3L32 -3L33 -3L34 2L35 -2L36 1L37 -1L38 3M0 0L1 -1L2 -1L3 -5L4 -2L5 -1L6 1L7 0L8 9L9 12L10 13L11 3L12 -5L13 -10L14 -11L15 -11L16 -9L17 -7L18 -6L19 -3L20 -2L21 -1L22 -4L23 2L24 3L25 6L26 3L27 -1L28 1L29 3L30 4L31 1L32 -1L33 6L34 6L35 6L36 1L37 4L38 1M0 -9L1 -5L2 -6L3 -4L4 -3L5 -1L6 -1L7 6L8 13L9 16L10 9L11 1L12 -8L13 -11L14 -13L15 -15L16 -13L17 -13L18 -6L19 -6L20 -1L21 -1L22 1L23 2L24 3L25 2L26 6L27 8L28 10L29 8L30 3L31 -4L32 -4L33 0L34 3L35 3L36 5L37 9L38 8M0 0L1 1L2 -2L3 0L4 -1L5 1L6 1L7 8L8 16L9 18L10 15L11 4L12 0L13 -6L14 -13L15 -15L16 -9L17 -4L18 1L19 0L20 0L21 2L22 9L23 12L24 12L25 8L26 9L27 4L28 0L29 -4L30 -3L31 -2L32 2L33 3L34 0L35 1L36 1L37 3L38 5M0 6L1 3L2 2L3 -3L4 -4L5 -7L6 -6L7 4L8 13L9 17L10 8L11 -2L12 -8L13 -11L14 -15L15 -12L16 -8L17 -5L18 -6L19 -2L20 3L21 5L22 2L23 4L24 3L25 3L26 -1L27 3L28 1L29 -1L30 -3L31 0L32 1L33 1L34 1L35 7L36 5L37 6L38 6M0 -4L1 4L2 10L3 7L4 0L5 -3L6 4L7 10L8 13L9 9L10 3L11 -1L12 -4L13 -4L14 -4L15 -5L16 -6L17 -6L18 -6L19 -5L20 -5L21 -4L22 -4L23 -2L24 1L25 5L26 2L27 4L28 3L29 5L30 1L31 1L32 4L33 5L34 1L35 -2L36 -2L37 0L38 -1M0 2L1 4L2 3L3 3L4 0L5 -2L6 -1L7 5L8 15L9 19L10 12L11 1L12 -8L13 -8L14 -9L15 -10L16 -7L17 -8L18 -4L19 -3L20 0L21 2L22 1L23 4L24 7L25 5L26 3L27 -1L28 3L29 3L30 0L31 0L32 4L33 6L34 7L35 3L36 6L37 1L38 -1M0 -6L1 -7L2 -6L3 -6L4 -5L5 -6L6 1L7 5L8 12L9 13L10 10L11 1L12 -8L13 -12L14 -10L15 -7L16 -8L17 -10L18 -9L19 -5L20 -2L21 -1L22 2L23 5L24 4L25 2L26 -1L27 -3L28 1L29 0L30 3L31 -3L32 -2L33 0L34 0L35 5L36 2L37 5L38 1M0 2L1 -1L2 0L3 1L4 3L5 -2L6 -3L7 1L8 11L9 17L10 12L11 1L12 -9L13 -11L14 -9L15 -7L16 -5L17 -1L18 -1L19 0L20 -4L21 -4L22 -1L23 -2L24 0L25 -3L26 2L27 -2L28 -1L29 0L30 0L31 4L32 5L33 6L34 3L35 -1L36 -2L37 1L38 0M0 2L1 -2L2 1L3 0L4 2L5 0L6 0L7 3L8 11L9 13L10 8L11 -5L12 -14L13 -14L14 -13L15 -11L16 -14L17 -12L18 -3L19 2L20 8L21 6L22 6L23 4L24 4L25 1L26 3L27 3L28 5L29 4L30 4L31 10L32 11L33 10L34 2L35 0L36 -1L37 1L38 1M0 2L1 1L2 -1L3 1L4 2L5 4L6 4L7 7L8 18L9 18L10 11L11 -7L12 -12L13 -13L14 -7L15 -4L16 -4L17 -5L18 0L19 6L20 10L21 3L22 0L23 -1L24 3L25 4L26 1L27 -1L28 -2L29 1L30 3L31 2L32 0L33 0L34 1L35 -1L36 -2L37 -2L38 -1M0 1L1 2L2 2L3 6L4 7L5 5L6 2L7 5L8 15L9 19L10 12L11 1L12 -11L13 -12L14 -18L15 -10L16 -6L17 -2L18 -4L19 -2L20 1L21 2L22 0L23 -2L24 -2L25 -3L26 -4L27 -6L28 -4L29 -3L30 -2L31 -2L32 0L33 -1L34 -6L35 -10L36 -4L37 -1L38 2M0 -1L1 -3L2 -2L3 -2L4 -1L5 -4L6 0L7 7L8 16L9 18L10 9L11 -7L12 -16L13 -15L14 -14L15 -10L16 -9L17 1L18 -3L19 -1L20 -7L21 -2L22 -1L23 3L24 1L25 1L26 3L27 4L28 1L29 0L30 -1L31 2L32 1L33 2L34 0L35 -2L36 -3L37 0L38 -2M0 5L1 6L2 3L3 4L4 6L5 6L6 7L7 6L8 15L9 20L10 15L11 1L12 -9L13 -11L14 -10L15 -12L16 -8L17 -3L18 2L19 2L20 -1L21 -3L22 -7L23 -4L24 0L25 7L26 5L27 2L28 -2L29 1L30 2L31 2L32 1L33 2L34 -1L35 1L36 1L37 2L38 -1M0 1L1 1L2 -6L3 -2L4 -2L5 -2L6 -5L7 -4L8 7L9 15L10 10L11 -1L12 -15L13 -16L14 -16L15 -13L16 -7L17 -2L18 2L19 -1L20 -2L21 -3L22 0L23 5L24 5L25 1L26 -6L27 -5L28 -1L29 1L30 3L31 0L32 0L33 1L34 1L35 -2L36 -4L37 -2L38 2M0 -6L1 -8L2 -8L3 -2L4 -4L5 -1L6 -1L7 7L8 13L9 13L10 7L11 -4L12 -13L13 -10L14 -5L15 0L16 -3L17 -5L18 -6L19 -5L20 1L21 1L22 7L23 6L24 11L25 8L26 4L27 5L28 0L29 2L30 2L31 5L32 4L33 6L34 5L35 3L36 3L37 3L38 2M0 -4L1 0L2 7L3 4L4 3L5 -2L6 3L7 10L8 17L9 17L10 13L11 2L12 -6L13 -9L14 -10L15 -8L16 -6L17 -5L18 -1L19 -1L20 -4L21 -2L22 -2L23 3L24 2L25 3L26 3L27 5L28 6L29 8L30 0L31 3L32 2L33 6L34 5L35 3L36 5L37 3L38 6M0 2L1 1L2 -2L3 -5L4 -5L5 -2L6 -5L7 0L8 7L9 17L10 16L11 8L12 -4L13 -10L14 -12L15 -8L16 -2L17 1L18 -2L19 -4L20 -4L21 1L22 5L23 8L24 5L25 3L26 -2L27 -2L28 -1L29 4L30 7L31 4L32 2L33 0L34 2L35 4L36 2L37 3L38 -1M0 -3L1 0L2 0L3 1L4 -1L5 -2L6 1L7 7L8 15L9 14L10 7L11 -1L12 -12L13 -16L14 -20L15 -15L16 -10L17 -6L18 -4L19 -3L20 0L21 3L22 0L23 0L24 0L25 3L26 3L27 3L28 3L29 -2L30 2L31 2L32 -1L33 -2L34 -1L35 7L36 5L37 3L38 -1M0 0L1 -1L2 0L3 -1L4 1L5 1L6 3L7 6L8 15L9 15L10 8L11 -4L12 -8L13 -11L14 -7L15 -5L16 -6L17 -7L18 -6L19 -2L20 -2L21 2L22 4L23 3L24 -1L25 1L26 4L27 5L28 -2L29 -1L30 -1L31 7L32 8L33 8L34 1L35 -1L36 1L37 3L38 8M0 0L1 -3L2 -5L3 -4L4 1L5 2L6 -1L7 1L8 4L9 14L10 7L11 0L12 -10L13 -9L14 -10L15 -8L16 -10L17 -9L18 -10L19 -3L20 -1L21 5L22 6L23 8L24 3L25 -1L26 2L27 7L28 7L29 5L30 2L31 7L32 5L33 5L34 0L35 5L36 3L37 7L38 5M0 -4L1 -1L2 0L3 -1L4 -1L5 -6L6 -8L7 0L8 11L9 17L10 9L11 -4L12 -12L13 -17L14 -11L15 -7L16 -4L17 -7L18 -3L19 -2L20 1L21 -1L22 4L23 4L24 3L25 0L26 -2L27 2L28 -3L29 7L30 6L31 11L32 4L33 2L34 -2L35 -5L36 -5L37 0L38 0M0 1L1 2L2 -1L3 0L4 1L5 0L6 3L7 3L8 11L9 16L10 12L11 0L12 -14L13 -17L14 -13L15 -9L16 -1L17 -1L18 3L19 0L20 0L21 -3L22 -4L23 1L24 2L25 4L26 2L27 4L28 5L29 5L30 3L31 1L32 -2L33 -3L34 1L35 2L36 3L37 -1L38 -1M0 -2L1 -6L2 -5L3 -4L4 0L5 -3L6 2L7 4L8 16L9 16L10 10L11 -2L12 -7L13 -8L14 -10L15 -13L16 -16L17 -9L18 -3L19 0L20 2L21 5L22 8L23 7L24 5L25 5L26 4L27 1L28 4L29 3L30 6L31 2L32 3L33 6L34 8L35 11L36 5L37 0L38 -4M0 -2L1 -1L2 2L3 1L4 1L5 -4L6 0L7 4L8 14L9 17L10 11L11 -3L12 -10L13 -9L14 -4L15 -1L16 -4L17 -8L18 -8L19 -5L20 -5L21 -1L22 5L23 5L24 4L25 -1L26 5L27 6L28 3L29 5L30 3L31 5L32 -1L33 0L34 -1L35 2L36 4L37 5L38 5M0 6L1 5L2 1L3 7L4 6L5 8L6 5L7 13L8 18L9 17L10 7L11 -4L12 -6L13 -11L14 -6L15 -7L16 -4L17 -4L18 -2L19 -3L20 -2L21 -4L22 -1L23 2L24 4L25 8L26 8L27 6L28 1L29 0L30 4L31 6L32 8L33 5L34 2L35 0L36 -1L37 3L38 5M0 -1L1 3L2 1L3 -2L4 -4L5 0L6 1L7 12L8 15L9 24L10 18L11 14L12 5L13 1L14 -4L15 -6L16 -7L17 -6L18 -6L19 -5L20 -2L21 0L22 4L23 4L24 3L25 1L26 4L27 8L28 11L29 9L30 12L31 4L32 5L33 0L34 1L35 -2L36 -2L37 2L38 0M0 1L1 2L2 0L3 -1L4 -2L5 -1L6 3L7 8L8 12L9 15L10 9L11 -2L12 -11L13 -14L14 -14L15 -12L16 -10L17 -6L18 -7L19 -4L20 -4L21 -3L22 2L23 4L24 11L25 3L26 3L27 1L28 5L29 5L30 3L31 -1L32 2L33 -4L34 0L35 -5L36 -3L37 -2L38 -2M0 -4L1 -3L2 -7L3 -8L4 -7L5 1L6 4L7 10L8 13L9 13L10 1L11 -7L12 -12L13 -11L14 -11L15 -13L16 -12L17 -6L18 -4L19 0L20 2L21 5L22 5L23 0L24 1L25 5L26 4L27 2L28 3L29 7L30 7L31 1L32 -3L33 -4L34 -2L35 -5L36 -1L37 -3L38 0M0 3L1 3L2 -1L3 0L4 -3L5 1L6 3L7 11L8 12L9 13L10 3L11 -4L12 -12L13 -9L14 -13L15 -15L16 -15L17 -7L18 -3L19 -4L20 -5L21 -1L22 4L23 6L24 8L25 3L26 7L27 2L28 8L29 2L30 2L31 -3L32 -2L33 -1L34 0L35 2L36 6L37 3L38 2M0 3L1 -1L2 -1L3 -1L4 -1L5 -1L6 -1L7 9L8 18L9 21L10 11L11 -7L12 -16L13 -16L14 -12L15 -10L16 -9L17 -7L18 -5L19 -2L20 -1L21 -3L22 -2L23 -1L24 5L25 5L26 3L27 3L28 2L29 3L30 1L31 0L32 4L33 1L34 1L35 -2L36 0L37 5L38 3M0 5L1 2L2 1L3 -1L4 3L5 2L6 5L7 10L8 16L9 19L10 16L11 3L12 -6L13 -16L14 -13L15 -10L16 -7L17 -7L18 -9L19 -4L20 0L21 1L22 -2L23 0L24 1L25 4L26 2L27 4L28 3L29 1L30 0L31 0L32 1L33 0L34 -1L35 0L36 0L37 3L38 2M0 3L1 6L2 5L3 3L4 5L5 6L6 8L7 9L8 14L9 16L10 7L11 -3L12 -10L13 -11L14 -10L15 -9L16 -8L17 -10L18 -7L19 -5L20 2L21 2L22 4L23 1L24 -2L25 -3L26 -6L27 -3L28 -2L29 0L30 1L31 1L32 7L33 12L34 12L35 5L36 0L37 0L38 4M0 -9L1 -8L2 -6L3 -2L4 -2L5 -2L6 2L7 13L8 18L9 16L10 2L11 -6L12 -11L13 -13L14 -11L15 -12L16 -7L17 -2L18 0L19 3L20 -5L21 -1L22 1L23 7L24 6L25 5L26 2L27 4L28 2L29 3L30 4L31 4L32 7L33 8L34 11L35 7L36 5L37 5L38 5M0 -1L1 5L2 6L3 2L4 -3L5 0L6 4L7 14L8 18L9 20L10 10L11 -2L12 -11L13 -15L14 -16L15 -13L16 -8L17 -5L18 -1L19 -1L20 -1L21 -5L22 -4L23 -5L24 -3L25 3L26 4L27 4L28 2L29 -1L30 -1L31 -5L32 1L33 2L34 2L35 -1L36 -1L37 1L38 1M0 2L1 -2L2 -5L3 -4L4 -4L5 2L6 2L7 5L8 10L9 13L10 8L11 -7L12 -10L13 -10L14 -11L15 -16L16 -14L17 -9L18 -5L19 -2L20 -6L21 -3L22 -8L23 -4L24 -3L25 1L26 6L27 7L28 6L29 2L30 5L31 4L32 5L33 -2L34 -2L35 0L36 3L37 4L38 -1M0 -3L1 1L2 2L3 0L4 -2L5 1L6 3L7 9L8 14L9 16L10 5L11 -11L12 -17L13 -15L14 -11L15 -6L16 -7L17 -4L18 -3L19 0L20 0L21 2L22 -1L23 0L24 1L25 6L26 5L27 2L28 0L29 3L30 1L31 0L32 -1L33 -1L34 0L35 -3L36 3L37 6L38 10M0 2L1 -4L2 -5L3 -5L4 -2L5 3L6 3L7 7L8 11L9 17L10 11L11 -2L12 -12L13 -12L14 -10L15 -7L16 -7L17 -7L18 -5L19 -5L20 0L21 1L22 5L23 8L24 9L25 14L26 12L27 9L28 3L29 1L30 -2L31 0L32 0L33 6L34 4L35 3L36 1L37 0L38 -2M0 -2L1 -1L2 3L3 5L4 6L5 7L6 5L7 12L8 15L9 22L10 13L11 4L12 -10L13 -13L14 -12L15 -5L16 -3L17 -5L18 -6L19 -5L20 2L21 3L22 5L23 1L24 4L25 1L26 -2L27 -5L28 3L29 8L30 11L31 4L32 -2L33 2L34 3L35 6L36 2L37 4L38 4M0 7L1 1L2 0L3 -3L4 -2L5 0L6 1L7 10L8 14L9 15L10 5L11 -5L12 -17L13 -19L14 -15L15 -5L16 -4L17 -6L18 -6L19 -4L20 -4L21 -6L22 -6L23 3L24 1L25 4L26 -2L27 3L28 3L29 0L30 -1L31 -3L32 3L33 3L34 6L35 0L36 1L37 1L38 -1M0 -2L1 -1L2 -2L3 -2L4 -2L5 1L6 7L7 10L8 16L9 16L10 11L11 -1L12 -10L13 -12L14 -9L15 -8L16 -9L17 -12L18 -10L19 -5L20 -3L21 -2L22 -1L23 2L24 3L25 2L26 4L27 2L28 5L29 5L30 7L31 5L32 4L33 4L34 0L35 -3L36 -5L37 -1L38 -4M0 5L1 6L2 5L3 4L4 5L5 1L6 2L7 7L8 15L9 13L10 2L11 -7L12 -10L13 -9L14 -8L15 -8L16 -8L17 -5L18 -4L19 2L20 6L21 11L22 11L23 8L24 2L25 -2L26 -3L27 -3L28 -4L29 -2L30 2L31 5L32 4L33 -1L34 5L35 3L36 4L37 -5L38 -4M0 -1L1 -2L2 -4L3 -7L4 -5L5 -2L6 0L7 7L8 13L9 17L10 8L11 -5L12 -15L13 -14L14 -5L15 -3L16 -4L17 -6L18 -4L19 -7L20 -5L21 -5L22 5L23 3L24 4L25 -1L26 2L27 2L28 4L29 -2L30 -5L31 -5L32 -3L33 0L34 -2L35 1L36 6L37 9L38 9M0 -7L1 -4L2 0L3 5L4 5L5 1L6 2L7 5L8 13L9 18L10 13L11 5L12 -6L13 -8L14 -9L15 -7L16 -5L17 -1L18 -1L19 2L20 -2L21 -1L22 -2L23 -4L24 -6L25 -2L26 2L27 5L28 2L29 -2L30 -3L31 -5L32 -4L33 -4L34 -2L35 1L36 6L37 8L38 9M0 3L1 0L2 1L3 1L4 6L5 5L6 6L7 8L8 12L9 9L10 6L11 -4L12 -7L13 -16L14 -13L15 -15L16 -8L17 -6L18 -5L19 -3L20 -1L21 1L22 3L23 0L24 4L25 2L26 3L27 2L28 1L29 1L30 0L31 8L32 10L33 11L34 6L35 7L36 2L37 5L38 1M0 -3L1 -6L2 -11L3 -7L4 -6L5 -3L6 -1L7 1L8 4L9 4L10 6L11 -1L12 -11L13 -11L14 -10L15 -5L16 -10L17 -15L18 -14L19 -8L20 -2L21 -3L22 -3L23 -4L24 -2L25 -3L26 -2L27 1L28 2L29 5L30 3L31 0L32 -1L33 1L34 1L35 -4L36 -4L37 -2L38 0M0 -1L1 3L2 8L3 7L4 2L5 -2L6 2L7 9L8 14L9 11L10 6L11 -8L12 -13L13 -13L14 -6L15 -6L16 -7L17 -8L18 -3L19 0L20 2L21 3L22 2L23 2L24 1L25 3L26 5L27 6L28 4L29 1L30 2L31 2L32 7L33 9L34 10L35 1L36 -2L37 4L38 9M0 3L1 -2L2 -1L3 -2L4 -2L5 -5L6 -1L7 5L8 11L9 11L10 4L11 -3L12 -11L13 -14L14 -14L15 -12L16 -10L17 -4L18 1L19 4L20 5L21 8L22 10L23 8L24 7L25 9L26 8L27 2L28 3L29 4L30 7L31 9L32 11L33 9L34 -2L35 -8L36 -5L37 -1L38 2M0 3L1 0L2 -2L3 2L4 2L5 6L6 7L7 9L8 14L9 14L10 9L11 -3L12 -9L13 -12L14 -9L15 -10L16 -2L17 -1L18 5L19 5L20 6L21 4L22 3L23 2L24 1L25 5L26 7L27 8L28 0L29 -2L30 -2L31 1L32 3L33 4L34 7L35 5L36 3L37 4L38 5M0 4L1 3L2 -1L3 -4L4 -1L5 2L6 4L7 9L8 16L9 19L10 13L11 5L12 -2L13 -8L14 -10L15 -8L16 -9L17 -12L18 -13L19 -6L20 -3L21 3L22 1L23 2L24 -1L25 -4L26 -3L27 0L28 4L29 3L30 1L31 2L32 0L33 -1L34 0L35 4L36 6L37 8L38 7M0 -1L1 -4L2 2L3 6L4 9L5 2L6 1L7 6L8 16L9 14L10 5L11 -8L12 -17L13 -16L14 -16L15 -8L16 -6L17 0L18 0L19 0L20 -3L21 -2L22 0L23 3L24 4L25 3L26 4L27 1L28 3L29 6L30 8L31 6L32 5L33 4L34 5L35 5L36 4L37 2L38 -2M0 1L1 1L2 -1L3 0L4 0L5 0L6 1L7 7L8 17L9 18L10 13L11 2L12 -6L13 -10L14 -8L15 -5L16 -5L17 -6L18 -4L19 -3L20 -1L21 1L22 3L23 2L24 -2L25 -2L26 1L27 1L28 1L29 0L30 3L31 8L32 6L33 10L34 4L35 5L36 3L37 4L38 5M0 -2L1 3L2 1L3 6L4 0L5 2L6 5L7 12L8 17L9 12L10 4L11 -4L12 -12L13 -13L14 -13L15 -9L16 -4L17 -5L18 -4L19 -4L20 -3L21 -1L22 -3L23 -1L24 3L25 6L26 7L27 6L28 7L29 7L30 6L31 4L32 1L33 -5L34 -6L35 -2L36 0L37 0L38 -1M0 2L1 -1L2 0L3 -6L4 -5L5 -4L6 0L7 7L8 20L9 18L10 16L11 -5L12 -12L13 -15L14 -11L15 -9L16 -10L17 -12L18 -9L19 -11L20 -2L21 2L22 5L23 6L24 2L25 4L26 0L27 0L28 0L29 0L30 3L31 4L32 0L33 1L34 -2L35 -1L36 -1L37 0L38 2M0 4L1 2L2 1L3 3L4 0L5 1L6 2L7 3L8 11L9 14L10 14L11 -3L12 -7L13 -11L14 -6L15 -8L16 -5L17 -6L18 -3L19 2L20 1L21 -1L22 -1L23 0L24 1L25 2L26 3L27 5L28 2L29 2L30 0L31 2L32 2L33 3L34 1L35 -1L36 -2L37 -4L38 -4M0 4L1 1L2 -3L3 -3L4 -6L5 -4L6 -2L7 7L8 15L9 13L10 8L11 -5L12 -11L13 -16L14 -17L15 -16L16 -15L17 -5L18 -3L19 2L20 0L21 2L22 6L23 3L24 5L25 -1L26 3L27 1L28 -2L29 -6L30 -6L31 -2L32 2L33 4L34 5L35 5L36 0L37 -2L38 -5M0 7L1 5L2 3L3 4L4 0L5 2L6 -2L7 8L8 13L9 20L10 10L11 -1L12 -9L13 -4L14 -1L15 -3L16 -6L17 -6L18 -5L19 -2L20 1L21 4L22 6L23 4L24 2L25 2L26 -2L27 2L28 4L29 4L30 8L31 6L32 8L33 2L34 0L35 1L36 2L37 2L38 -1M0 0L1 -2L2 -2L3 -3L4 4L5 9L6 7L7 8L8 11L9 9L10 5L11 -8L12 -13L13 -12L14 -10L15 0L16 3L17 5L18 1L19 3L20 -2L21 -5L22 -8L23 -1L24 4L25 5L26 5L27 4L28 4L29 3L30 7L31 4L32 5L33 6L34 8L35 4L36 3L37 0L38 4M0 2L1 6L2 -2L3 -5L4 -6L5 0L6 1L7 5L8 12L9 14L10 3L11 -9L12 -16L13 -14L14 -10L15 -7L16 -3L17 -3L18 -8L19 -6L20 -2L21 5L22 6L23 4L24 -1L25 0L26 2L27 3L28 2L29 -3L30 -2L31 2L32 5L33 9L34 3L35 3L36 -2L37 -2L38 -5M0 2L1 0L2 0L3 -3L4 0L5 0L6 4L7 4L8 14L9 16L10 13L11 1L12 -8L13 -6L14 -10L15 -9L16 -10L17 -3L18 1L19 2L20 -2L21 -7L22 -7L23 -4L24 -3L25 1L26 2L27 4L28 5L29 6L30 6L31 6L32 4L33 6L34 2L35 2L36 4L37 6L38 2M0 0L1 -2L2 -4L3 -5L4 -3L5 1L6 3L7 6L8 11L9 17L10 12L11 0L12 -8L13 -10L14 -8L15 -9L16 -9L17 -6L18 -5L19 0L20 -2L21 -5L22 -9L23 -5L24 4L25 7L26 6L27 0L28 3L29 3L30 5L31 4L32 4L33 4L34 5L35 5L36 3L37 0L38 2M0 -6L1 -5L2 -2L3 -2L4 0L5 -3L6 4L7 8L8 16L9 17L10 10L11 2L12 -7L13 -10L14 -6L15 -3L16 -1L17 -7L18 -2L19 -1L20 0L21 -1L22 1L23 6L24 0L25 1L26 -2L27 0L28 -2L29 -4L30 -2L31 1L32 4L33 0L34 -3L35 -6L36 -1L37 1L38 6M0 -1L1 2L2 1L3 3L4 2L5 0L6 -1L7 1L8 10L9 11L10 3L11 -6L12 -15L13 -15L14 -17L15 -12L16 -7L17 1L18 2L19 4L20 2L21 2L22 2L23 1L24 6L25 2L26 1L27 5L28 7L29 7L30 3L31 2L32 1L33 0L34 0L35 2L36 4L37 5L38 4M0 3L1 3L2 -2L3 -5L4 -4L5 -1L6 0L7 12L8 22L9 24L10 12L11 -3L12 -11L13 -18L14 -14L15 -12L16 -7L17 -7L18 1L19 4L20 5L21 1L22 0L23 0L24 0L25 1L26 2L27 2L28 3L29 8L30 13L31 13L32 9L33 6L34 4L35 3L36 4L37 4L38 5M0 -3L1 2L2 2L3 1L4 -5L5 -2L6 2L7 9L8 14L9 13L10 11L11 1L12 -4L13 -9L14 -11L15 -11L16 -8L17 -6L18 -6L19 -8L20 -7L21 -7L22 -5L23 -5L24 1L25 -4L26 -4L27 -1L28 4L29 6L30 -1L31 1L32 2L33 10L34 7L35 7L36 5L37 6L38 0M0 4L1 5L2 -4L3 -1L4 -1L5 0L6 3L7 9L8 15L9 15L10 10L11 -3L12 -10L13 -15L14 -12L15 -14L16 -11L17 -3L18 1L19 3L20 4L21 5L22 -1L23 -4L24 -5L25 -5L26 -3L27 -2L28 2L29 4L30 8L31 11L32 8L33 4L34 -1L35 0L36 4L37 5L38 2M0 -1L1 3L2 1L3 2L4 -2L5 -3L6 -2L7 0L8 14L9 16L10 14L11 0L12 -12L13 -16L14 -19L15 -14L16 -13L17 -10L18 -7L19 -3L20 0L21 0L22 1L23 0L24 2L25 6L26 3L27 3L28 -1L29 2L30 0L31 1L32 0L33 0L34 -3L35 -2L36 0L37 7L38 5M0 -4L1 -4L2 -7L3 -4L4 -4L5 -1L6 0L7 7L8 10L9 9L10 -4L11 -10L12 -16L13 -12L14 -7L15 -3L16 -6L17 -7L18 -5L19 -5L20 -2L21 -2L22 4L23 5L24 1L25 0L26 -5L27 -1L28 3L29 6L30 5L31 3L32 5L33 6L34 4L35 2L36 2L37 3L38 2M0 7L1 3L2 2L3 -1L4 1L5 0L6 -1L7 7L8 15L9 21L10 14L11 1L12 -9L13 -9L14 -8L15 -5L16 -4L17 3L18 4L19 1L20 -4L21 -7L22 -3L23 -2L24 0L25 -4L26 2L27 4L28 6L29 2L30 4L31 3L32 4L33 0L34 1L35 3L36 1L37 -2L38 -5M0 7L1 4L2 1L3 3L4 3L5 0L6 0L7 -5L8 1L9 7L10 11L11 -1L12 -13L13 -19L14 -14L15 -11L16 -9L17 -8L18 -8L19 -2L20 2L21 7L22 9L23 6L24 4L25 1L26 0L27 1L28 4L29 10L30 11L31 8L32 4L33 -5L34 -5L35 -3L36 0L37 1L38 0M0 0L1 -3L2 -1L3 -1L4 1L5 3L6 0L7 6L8 9L9 12L10 3L11 -7L12 -12L13 -9L14 -6L15 -3L16 -5L17 -8L18 -8L19 -4L20 2L21 7L22 3L23 1L24 0L25 4L26 6L27 10L28 10L29 10L30 5L31 5L32 6L33 5L34 8L35 0L36 4L37 1L38 4M0 6L1 5L2 4L3 3L4 1L5 2L6 1L7 9L8 17L9 23L10 14L11 1L12 -10L13 -14L14 -15L15 -12L16 -8L17 -6L18 -1L19 1L20 1L21 -3L22 -4L23 5L24 6L25 7L26 6L27 8L28 10L29 9L30 9L31 7L32 5L33 3L34 -2L35 2L36 1L37 9L38 3M0 -1L1 -1L2 -2L3 -2L4 2L5 5L6 4L7 11L8 20L9 20L10 9L11 -5L12 -7L13 -15L14 -17L15 -20L16 -17L17 -12L18 -7L19 -1L20 -3L21 -1L22 0L23 4L24 3L25 4L26 2L27 5L28 8L29 11L30 7L31 6L32 7L33 9L34 8L35 6L36 8L37 5L38 5M0 4L1 3L2 3L3 3L4 4L5 5L6 3L7 9L8 15L9 17L10 11L11 -2L12 -10L13 -13L14 -16L15 -10L16 -13L17 -7L18 -7L19 -3L20 -1L21 0L22 -1L23 -2L24 -2L25 -3L26 -6L27 -2L28 0L29 -4L30 -4L31 0L32 8L33 7L34 1L35 -1L36 -3L37 2L38 -2M0 2L1 3L2 -3L3 -6L4 -5L5 -6L6 -4L7 2L8 11L9 12L10 3L11 -7L12 -14L13 -14L14 -15L15 -13L16 -9L17 -5L18 -3L19 -6L20 -7L21 -8L22 -3L23 0L24 1L25 7L26 9L27 9L28 6L29 -1L30 -3L31 -6L32 -1L33 4L34 7L35 6L36 4L37 4L38 5M0 -4L1 -5L2 -4L3 -3L4 -2L5 1L6 4L7 12L8 18L9 17L10 9L11 -4L12 -12L13 -17L14 -15L15 -12L16 -9L17 -10L18 -7L19 -5L20 -1L21 -1L22 2L23 3L24 -1L25 -4L26 -7L27 -4L28 -1L29 -2L30 0L31 -3L32 2L33 6L34 11L35 6L36 3L37 0L38 2M0 -1L1 -1L2 -3L3 -1L4 -2L5 -6L6 -5L7 0L8 18L9 27L10 22L11 11L12 -6L13 -13L14 -16L15 -10L16 -3L17 -3L18 0L19 -2L20 0L21 0L22 1L23 -2L24 -3L25 -5L26 0L27 -1L28 3L29 0L30 4L31 3L32 7L33 4L34 2L35 -1L36 1L37 3L38 -3M0 -3L1 -2L2 -3L3 -2L4 -5L5 -3L6 2L7 11L8 21L9 19L10 9L11 -4L12 -6L13 -5L14 -6L15 -7L16 -4L17 -3L18 -2L19 -3L20 1L21 1L22 -1L23 -1L24 0L25 0L26 0L27 -1L28 5L29 2L30 5L31 0L32 4L33 0L34 0L35 1L36 4L37 6L38 2M0 1L1 0L2 0L3 1L4 -1L5 -3L6 -2L7 5L8 16L9 17L10 11L11 -2L12 -6L13 -13L14 -13L15 -10L16 -4L17 -6L18 -7L19 -10L20 -4L21 -2L22 -3L23 -1L24 -2L25 3L26 7L27 7L28 4L29 3L30 4L31 5L32 1L33 0L34 -1L35 1L36 3L37 2L38 -1M0 2L1 3L2 1L3 3L4 4L5 0L6 0L7 6L8 13L9 14L10 4L11 -5L12 -16L13 -12L14 -13L15 -7L16 -9L17 -8L18 -7L19 -2L20 0L21 4L22 0L23 8L24 5L25 5L26 2L27 3L28 5L29 2L30 5L31 3L32 2L33 3L34 3L35 1L36 0L37 -1L38 3M0 -5L1 1L2 4L3 9L4 4L5 2L6 -1L7 2L8 7L9 12L10 6L11 -3L12 -12L13 -15L14 -12L15 -11L16 -7L17 -7L18 -3L19 -3L20 -4L21 -4L22 -6L23 -3L24 -4L25 -2L26 0L27 -3L28 1L29 -1L30 5L31 5L32 7L33 8L34 7L35 6L36 5L37 3L38 1M0 -10L1 -7L2 -5L3 -4L4 -3L5 1L6 6L7 9L8 11L9 13L10 9L11 -2L12 -13L13 -16L14 -11L15 -4L16 -2L17 -1L18 -4L19 -3L20 -3L21 -1L22 -2L23 0L24 2L25 4L26 6L27 6L28 7L29 3L30 3L31 3L32 4L33 3L34 4L35 10L36 12L37 9L38 -2M0 3L1 6L2 0L3 -3L4 -1L5 5L6 7L7 11L8 17L9 18L10 11L11 -4L12 -14L13 -16L14 -10L15 -6L16 -5L17 -5L18 -3L19 0L20 2L21 2L22 3L23 0L24 1L25 -2L26 -1L27 0L28 2L29 3L30 3L31 2L32 2L33 3L34 4L35 2L36 0L37 -2L38 0M0 0L1 -3L2 -2L3 -3L4 2L5 1L6 2L7 6L8 14L9 15L10 6L11 -3L12 -9L13 -12L14 -14L15 -12L16 -7L17 -4L18 -1L19 0L20 7L21 7L22 5L23 2L24 5L25 5L26 4L27 2L28 4L29 2L30 -1L31 -2L32 0L33 5L34 3L35 2L36 2L37 1L38 2M0 3L1 5L2 3L3 -2L4 -5L5 -7L6 -4L7 2L8 11L9 13L10 6L11 -2L12 -11L13 -13L14 -13L15 -9L16 -8L17 -6L18 -5L19 -6L20 -2L21 -1L22 4L23 -1L24 0L25 -3L26 -2L27 -1L28 1L29 4L30 3L31 2L32 4L33 2L34 2L35 -1L36 2L37 0L38 -3M0 7L1 6L2 0L3 -4L4 -7L5 -7L6 -4L7 2L8 12L9 20L10 19L11 9L12 -7L13 -12L14 -15L15 -14L16 -12L17 -6L18 0L19 -3L20 -5L21 -4L22 1L23 1L24 1L25 3L26 6L27 9L28 9L29 5L30 -1L31 -5L32 -3L33 -2L34 -1L35 0L36 0L37 2L38 2M0 -5L1 1L2 3L3 5L4 5L5 0L6 0L7 -1L8 9L9 10L10 9L11 0L12 -6L13 -14L14 -12L15 -14L16 -7L17 -6L18 0L19 -2L20 -1L21 -1L22 3L23 1L24 3L25 3L26 8L27 2L28 2L29 -2L30 2L31 3L32 5L33 6L34 -1L35 -4L36 -5L37 2L38 2M0 -5L1 -2L2 -3L3 -3L4 -4L5 -7L6 -3L7 4L8 16L9 10L10 1L11 -10L12 -11L13 -10L14 -12L15 -12L16 -14L17 -9L18 -7L19 -4L20 -5L21 -2L22 -4L23 -1L24 -4L25 1L26 2L27 6L28 5L29 3L30 -3L31 -7L32 -5L33 -1L34 1L35 -1L36 0L37 -1L38 -1M0 -8L1 -8L2 -5L3 -3L4 2L5 2L6 0L7 2L8 8L9 12L10 12L11 4L12 -3L13 -13L14 -16L15 -13L16 -9L17 -7L18 -6L19 -7L20 -1L21 2L22 5L23 2L24 4L25 5L26 9L27 5L28 2L29 -3L30 2L31 2L32 3L33 1L34 3L35 3L36 1L37 -1L38 1M0 6L1 3L2 -1L3 -5L4 -3L5 -1L6 0L7 3L8 10L9 14L10 10L11 0L12 -8L13 -14L14 -17L15 -18L16 -12L17 -11L18 -5L19 -4L20 -1L21 -4L22 -1L23 0L24 0L25 -1L26 -2L27 3L28 5L29 8L30 12L31 12L32 8L33 1L34 0L35 -2L36 -1L37 -6L38 -1M0 0L1 -2L2 -1L3 -1L4 0L5 3L6 4L7 10L8 12L9 13L10 6L11 -4L12 -8L13 -11L14 -8L15 -7L16 -6L17 -6L18 -4L19 -5L20 -3L21 -2L22 0L23 2L24 1L25 1L26 -2L27 -1L28 -1L29 1L30 0L31 1L32 3L33 4L34 5L35 5L36 5L37 4L38 5M0 -1L1 0L2 -2L3 -2L4 4L5 6L6 6L7 8L8 16L9 17L10 10L11 -1L12 -11L13 -11L14 -8L15 -5L16 -3L17 -3L18 2L19 1L20 5L21 4L22 4L23 2L24 4L25 4L26 2L27 1L28 2L29 5L30 4L31 4L32 4L33 7L34 4L35 2L36 3L37 9L38 10M0 6L1 -4L2 -1L3 -5L4 -3L5 -2L6 3L7 10L8 16L9 17L10 15L11 3L12 -6L13 -11L14 -10L15 -7L16 -10L17 -13L18 -11L19 -5L20 -2L21 -1L22 -1L23 2L24 5L25 5L26 6L27 5L28 6L29 2L30 1L31 0L32 3L33 0L34 0L35 -4L36 -2L37 -4L38 -3M0 3L1 0L2 0L3 1L4 4L5 -1L6 1L7 3L8 13L9 18L10 16L11 11L12 -4L13 -13L14 -18L15 -13L16 -8L17 -4L18 -4L19 0L20 -4L21 -2L22 -5L23 0L24 2L25 2L26 5L27 4L28 6L29 7L30 5L31 2L32 0L33 0L34 4L35 1L36 1L37 -1L38 1M0 -4L1 1L2 3L3 4L4 -2L5 -3L6 0L7 7L8 16L9 18L10 11L11 -3L12 -12L13 -12L14 -10L15 -5L16 -9L17 -9L18 -5L19 -1L20 3L21 -2L22 3L23 1L24 5L25 3L26 1L27 5L28 7L29 7L30 6L31 6L32 5L33 4L34 2L35 3L36 -1L37 -2L38 -2M0 2L1 5L2 2L3 5L4 3L5 3L6 -3L7 1L8 10L9 15L10 10L11 -3L12 -13L13 -12L14 -12L15 -10L16 -12L17 -8L18 -1L19 2L20 1L21 -5L22 -3L23 -3L24 0L25 -2L26 2L27 3L28 1L29 -2L30 -4L31 2L32 5L33 5L34 2L35 0L36 3L37 7L38 8M0 -6L1 -6L2 -6L3 -5L4 -6L5 -4L6 -4L7 4L8 8L9 11L10 6L11 0L12 -6L13 -9L14 -9L15 -7L16 -10L17 -6L18 -6L19 0L20 0L21 2L22 1L23 -2L24 -3L25 -1L26 0L27 1L28 0L29 1L30 3L31 3L32 0L33 -4L34 0L35 0L36 0L37 -3L38 0M0 1L1 0L2 1L3 -1L4 0L5 1L6 4L7 10L8 12L9 14L10 6L11 -6L12 -18L13 -19L14 -15L15 -12L16 -10L17 -6L18 -5L19 -2L20 -1L21 1L22 3L23 0L24 0L25 -4L26 -3L27 0L28 1L29 4L30 3L31 2L32 2L33 1L34 5L35 3L36 2L37 3L38 6M0 1L1 1L2 -3L3 1L4 1L5 0L6 2L7 7L8 12L9 12L10 3L11 -3L12 -14L13 -13L14 -13L15 -5L16 -4L17 -3L18 -3L19 0L20 1L21 4L22 4L23 7L24 2L25 4L26 1L27 4L28 1L29 4L30 2L31 -2L32 -5L33 -1L34 2L35 4L36 4L37 5L38 6M0 2L1 4L2 3L3 1L4 2L5 4L6 4L7 7L8 9L9 12L10 8L11 -2L12 -8L13 -15L14 -14L15 -11L16 -4L17 -2L18 -7L19 -11L20 -9L21 -3L22 1L23 -1L24 3L25 -1L26 1L27 -3L28 3L29 5L30 7L31 4L32 -3L33 -1L34 2L35 8L36 6L37 7L38 4M0 -5L1 -1L2 -2L3 0L4 1L5 0L6 1L7 2L8 10L9 14L10 14L11 2L12 -10L13 -15L14 -16L15 -10L16 -10L17 -9L18 -9L19 -9L20 -3L21 -2L22 0L23 5L24 9L25 10L26 4L27 2L28 1L29 4L30 5L31 2L32 4L33 7L34 6L35 -1L36 -7L37 -1L38 2M0 5L1 5L2 1L3 -1L4 -1L5 0L6 1L7 7L8 12L9 15L10 2L11 -7L12 -13L13 -13L14 -12L15 -8L16 -8L17 -5L18 -10L19 -7L20 -5L21 2L22 5L23 4L24 -2L25 -4L26 -2L27 2L28 3L29 4L30 5L31 5L32 2L33 7L34 6L35 7L36 5L37 4L38 3M0 -8L1 -4L2 -1L3 2L4 2L5 5L6 9L7 15L8 11L9 12L10 7L11 6L12 -2L13 -3L14 -4L15 -3L16 -9L17 -9L18 -6L19 0L20 0L21 -3L22 -4L23 -3L24 -1L25 0L26 -4L27 -2L28 -3L29 2L30 3L31 4L32 1L33 11L34 12L35 13L36 7L37 7L38 4M0 -2L1 1L2 3L3 6L4 1L5 3L6 6L7 15L8 17L9 18L10 9L11 -1L12 -12L13 -16L14 -14L15 -12L16 -12L17 -8L18 -8L19 -2L20 0L21 4L22 -1L23 2L24 4L25 10L26 5L27 1L28 0L29 3L30 10L31 11L32 13L33 7L34 6L35 4L36 1L37 -3L38 -5M0 1L1 -2L2 -3L3 -9L4 -9L5 -6L6 -1L7 5L8 12L9 11L10 4L11 -8L12 -15L13 -16L14 -13L15 -10L16 -10L17 -11L18 -9L19 -8L20 -6L21 -3L22 0L23 4L24 5L25 5L26 2L27 0L28 -1L29 0L30 7L31 6L32 3L33 1L34 7L35 7L36 4L37 -3L38 -4M0 2L1 5L2 0L3 2L4 2L5 2L6 4L7 8L8 16L9 20L10 14L11 1L12 -9L13 -14L14 -11L15 -8L16 -5L17 -5L18 -9L19 -5L20 -2L21 0L22 -1L23 5L24 9L25 12L26 8L27 5L28 2L29 -3L30 -2L31 -3L32 -5L33 -3L34 -1L35 7L36 7L37 3L38 -3M0 -1L1 5L2 6L3 5L4 3L5 4L6 -1L7 -1L8 3L9 11L10 11L11 2L12 -4L13 -12L14 -12L15 -12L16 -7L17 -6L18 -8L19 0L20 0L21 4L22 -2L23 -5L24 3L25 6L26 14L27 6L28 4L29 -1L30 -1L31 -4L32 -4L33 1L34 3L35 4L36 1L37 2L38 2M0 -2L1 0L2 -4L3 3L4 -2L5 -1L6 -4L7 -1L8 2L9 4L10 4L11 -1L12 -5L13 -8L14 -9L15 -6L16 -7L17 -6L18 -7L19 -6L20 -3L21 -1L22 0L23 0L24 3L25 4L26 6L27 1L28 4L29 6L30 10L31 10L32 4L33 2L34 6L35 4L36 3L37 -1L38 2M0 -2L1 -4L2 -6L3 -1L4 -1L5 2L6 2L7 7L8 17L9 16L10 13L11 0L12 -9L13 -13L14 -13L15 -13L16 -13L17 -13L18 -11L19 -10L20 -7L21 -4L22 0L23 3L24 3L25 0L26 -2L27 0L28 5L29 4L30 5L31 2L32 2L33 5L34 5L35 7L36 2L37 4L38 5M0 -1L1 -4L2 -5L3 -6L4 2L5 2L6 -1L7 2L8 13L9 20L10 15L11 -1L12 -13L13 -20L14 -16L15 -11L16 -10L17 -9L18 -9L19 -3L20 -3L21 -6L22 -5L23 -7L24 -4L25 -5L26 -3L27 2L28 1L29 4L30 -1L31 -1L32 -6L33 0L34 5L35 9L36 2L37 2L38 -5M0 -1L1 1L2 -2L3 1L4 2L5 3L6 1L7 4L8 11L9 11L10 7L11 -4L12 -15L13 -20L14 -16L15 -8L16 -5L17 -3L18 4L19 6L20 0L21 -4L22 -3L23 0L24 -4L25 -5L26 -7L27 -5L28 -8L29 -7L30 -3L31 3L32 5L33 5L34 8L35 7L36 6L37 0L38 -1M0 0L1 4L2 5L3 4L4 -2L5 0L6 4L7 13L8 15L9 18L10 16L11 8L12 -5L13 -15L14 -13L15 -8L16 -4L17 -9L18 -9L19 -10L20 -2L21 0L22 4L23 1L24 0L25 -3L26 -4L27 -1L28 2L29 7L30 6L31 7L32 7L33 4L34 1L35 -2L36 -3L37 -1L38 -1M0 -1L1 3L2 2L3 1L4 -3L5 -5L6 -4L7 6L8 11L9 13L10 6L11 -2L12 -6L13 -10L14 -11L15 -12L16 -9L17 -5L18 -6L19 -10L20 -8L21 -3L22 -1L23 -3L24 -3L25 -1L26 0L27 -2L28 2L29 4L30 10L31 8L32 7L33 2L34 4L35 3L36 3L37 5L38 5M0 -1L1 0L2 2L3 6L4 8L5 8L6 6L7 9L8 12L9 15L10 10L11 -2L12 -10L13 -15L14 -12L15 -12L16 -13L17 -13L18 -13L19 -5L20 -2L21 2L22 3L23 4L24 5L25 6L26 4L27 1L28 3L29 4L30 4L31 5L32 8L33 10L34 2L35 -3L36 -6L37 -4L38 -2M0 0L1 0L2 -1L3 -1L4 0L5 1L6 6L7 11L8 17L9 19L10 10L11 -4L12 -16L13 -22L14 -10L15 -13L16 -4L17 -7L18 -2L19 -3L20 0L21 2L22 1L23 -1L24 -1L25 0L26 1L27 7L28 9L29 13L30 5L31 3L32 -1L33 -2L34 -2L35 2L36 8L37 9L38 4M0 2L1 4L2 0L3 0L4 -2L5 -2L6 -3L7 -1L8 9L9 16L10 13L11 -1L12 -12L13 -13L14 -11L15 -7L16 -5L17 -3L18 -4L19 -5L20 -2L21 1L22 1L23 2L24 1L25 3L26 -3L27 -4L28 1L29 5L30 4L31 0L32 0L33 -2L34 0L35 -3L36 1L37 0L38 3M0 -1L1 4L2 4L3 3L4 0L5 -2L6 5L7 14L8 21L9 19L10 15L11 2L12 -5L13 -10L14 -11L15 -9L16 -7L17 -6L18 -5L19 -1L20 0L21 2L22 -2L23 0L24 -1L25 5L26 9L27 10L28 5L29 2L30 0L31 0L32 1L33 2L34 5L35 6L36 6L37 3L38 1M0 -1L1 4L2 4L3 3L4 -3L5 -1L6 0L7 9L8 14L9 18L10 9L11 -4L12 -13L13 -14L14 -15L15 -9L16 -9L17 -4L18 -2L19 0L20 0L21 -1L22 0L23 1L24 0L25 -1L26 3L27 3L28 6L29 3L30 2L31 0L32 3L33 4L34 4L35 3L36 2L37 1L38 -3M0 1L1 3L2 3L3 -5L4 -2L5 -3L6 -2L7 1L8 11L9 16L10 9L11 -1L12 -7L13 -11L14 -11L15 -13L16 -7L17 -5L18 -2L19 -2L20 -1L21 -2L22 -2L23 0L24 -5L25 -7L26 -7L27 -4L28 -1L29 -2L30 -4L31 -5L32 -3L33 3L34 3L35 7L36 3L37 1L38 -2M0 6L1 5L2 7L3 0L4 2L5 -3L6 0L7 0L8 9L9 11L10 8L11 -3L12 -10L13 -13L14 -11L15 -12L16 -8L17 -5L18 -4L19 -3L20 -1L21 2L22 4L23 2L24 5L25 4L26 7L27 2L28 3L29 0L30 4L31 3L32 2L33 2L34 0L35 -1L36 -5L37 -2L38 -1M0 -4L1 -1L2 2L3 2L4 1L5 2L6 7L7 11L8 18L9 13L10 10L11 -1L12 -6L13 -14L14 -12L15 -14L16 -9L17 -8L18 -5L19 -5L20 -7L21 -5L22 -5L23 -2L24 0L25 -1L26 2L27 2L28 2L29 -3L30 -4L31 -6L32 0L33 -2L34 0L35 -3L36 1L37 1L38 0M0 -5L1 -4L2 1L3 -1L4 0L5 -1L6 3L7 7L8 16L9 20L10 10L11 -6L12 -12L13 -13L14 -9L15 -12L16 -6L17 -8L18 -4L19 -7L20 -3L21 -4L22 1L23 4L24 7L25 3L26 -2L27 -6L28 2L29 2L30 5L31 1L32 6L33 5L34 2L35 1L36 -6L37 -5L38 -4M0 7L1 5L2 4L3 0L4 -2L5 -4L6 3L7 11L8 16L9 18L10 10L11 1L12 -11L13 -16L14 -15L15 -14L16 -8L17 -2L18 1L19 5L20 6L21 4L22 0L23 -1L24 2L25 5L26 0L27 4L28 0L29 3L30 -3L31 0L32 3L33 6L34 3L35 -2L36 -3L37 2L38 4M0 2L1 2L2 1L3 4L4 7L5 3L6 3L7 4L8 12L9 13L10 10L11 6L12 -2L13 -7L14 -14L15 -12L16 -10L17 -7L18 -7L19 -9L20 -6L21 -7L22 0L23 2L24 4L25 2L26 0L27 0L28 0L29 3L30 5L31 5L32 4L33 2L34 2L35 -1L36 2L37 -2L38 1M0 -3L1 -6L2 -4L3 -5L4 -4L5 -1L6 5L7 10L8 14L9 11L10 5L11 0L12 -7L13 -8L14 -12L15 -8L16 -10L17 -10L18 -9L19 -8L20 -7L21 -2L22 1L23 5L24 4L25 3L26 1L27 -7L28 -4L29 -2L30 3L31 0L32 3L33 4L34 6L35 0L36 -3L37 -1L38 2M0 9L1 9L2 7L3 1L4 1L5 1L6 2L7 6L8 12L9 12L10 4L11 -5L12 -6L13 -4L14 -7L15 -6L16 -8L17 -2L18 -1L19 -1L20 -2L21 1L22 4L23 10L24 4L25 7L26 5L27 6L28 0L29 0L30 1L31 5L32 7L33 7L34 6L35 3L36 1L37 6L38 10M0 1L1 -1L2 -2L3 2L4 0L5 1L6 1L7 8L8 13L9 11L10 1L11 -7L12 -10L13 -5L14 -6L15 -6L16 -9L17 -8L18 -8L19 -10L20 -6L21 -3L22 3L23 5L24 2L25 0L26 -7L27 -7L28 -5L29 0L30 3L31 4L32 7L33 2L34 0L35 -2L36 -3L37 2L38 2M0 4L1 7L2 4L3 3L4 2L5 7L6 7L7 10L8 15L9 18L10 16L11 6L12 -4L13 -8L14 -8L15 -1L16 -2L17 -4L18 -6L19 -3L20 -1L21 1L22 5L23 2L24 1L25 -1L26 4L27 5L28 4L29 4L30 1L31 -1L32 -2L33 0L34 3L35 8L36 9L37 8L38 7M0 2L1 2L2 -3L3 -3L4 -5L5 0L6 4L7 11L8 14L9 12L10 5L11 2L12 1L13 0L14 -3L15 -5L16 -4L17 -5L18 -3L19 -2L20 -2L21 -3L22 0L23 -3L24 -2L25 -7L26 -1L27 -2L28 7L29 10L30 9L31 0L32 -7L33 -4L34 -2L35 2L36 2L37 5L38 8M0 -9L1 -4L2 -2L3 2L4 0L5 -2L6 3L7 7L8 12L9 11L10 1L11 -4L12 -10L13 -8L14 -9L15 -7L16 -5L17 -3L18 3L19 1L20 1L21 -1L22 7L23 13L24 8L25 3L26 1L27 3L28 1L29 3L30 8L31 9L32 7L33 2L34 3L35 1L36 0L37 -1L38 -1M0 -2L1 2L2 -3L3 0L4 1L5 0L6 -2L7 2L8 12L9 15L10 9L11 -1L12 -8L13 -13L14 -13L15 -15L16 -9L17 -5L18 -1L19 -2L20 3L21 1L22 4L23 6L24 10L25 8L26 1L27 2L28 -1L29 4L30 2L31 5L32 4L33 2L34 6L35 4L36 5L37 -1L38 -2M0 5L1 2L2 0L3 0L4 -1L5 0L6 0L7 5L8 12L9 12L10 10L11 -2L12 -6L13 -9L14 -13L15 -15L16 -12L17 -5L18 -1L19 -2L20 -2L21 -1L22 2L23 1L24 4L25 2L26 2L27 0L28 6L29 13L30 7L31 5L32 -4L33 3L34 -1L35 3L36 0L37 1L38 2M0 6L1 10L2 3L3 -2L4 -5L5 1L6 4L7 9L8 13L9 15L10 8L11 -2L12 -11L13 -11L14 -12L15 -8L16 -10L17 -9L18 -7L19 -6L20 -5L21 -4L22 1L23 6L24 4L25 1L26 -3L27 -4L28 0L29 7L30 12L31 12L32 11L33 6L34 0L35 -5L36 -4L37 -2L38 1M0 -1L1 -2L2 -2L3 -1L4 -5L5 -6L6 -5L7 3L8 8L9 11L10 8L11 4L12 -6L13 -8L14 -10L15 -13L16 -17L17 -15L18 -8L19 1L20 5L21 11L22 7L23 5L24 -3L25 -4L26 -3L27 -5L28 -1L29 -2L30 1L31 3L32 3L33 4L34 4L35 6L36 5L37 -1L38 -4M0 0L1 1L2 3L3 -1L4 1L5 -1L6 -2L7 -1L8 7L9 14L10 6L11 -3L12 -12L13 -14L14 -13L15 -9L16 -3L17 -4L18 -2L19 -1L20 -2L21 -5L22 -6L23 -5L24 -1L25 0L26 6L27 4L28 3L29 -1L30 2L31 2L32 1L33 -2L34 3L35 1L36 2L37 -2L38 -4M0 -1L1 3L2 -1L3 3L4 2L5 3L6 1L7 4L8 14L9 19L10 10L11 -2L12 -13L13 -11L14 -6L15 -7L16 -8L17 -9L18 -5L19 -2L20 -1L21 -1L22 0L23 -3L24 -5L25 -5L26 -5L27 3L28 2L29 4L30 -2L31 -1L32 0L33 2L34 -1L35 -2L36 -3L37 -4L38 -4M0 -1L1 3L2 4L3 3L4 1L5 -3L6 0L7 3L8 14L9 13L10 7L11 -5L12 -7L13 -7L14 -11L15 -13L16 -12L17 -5L18 -5L19 -6L20 -8L21 -2L22 2L23 3L24 3L25 2L26 3L27 0L28 3L29 3L30 2L31 -1L32 0L33 4L34 4L35 6L36 6L37 4L38 3M0 -4L1 -8L2 -9L3 -3L4 -1L5 1L6 1L7 5L8 10L9 11L10 7L11 -1L12 -7L13 -12L14 -5L15 -5L16 -2L17 -7L18 -5L19 -3L20 1L21 -1L22 0L23 -1L24 5L25 1L26 0L27 -5L28 -1L29 1L30 4L31 3L32 1L33 -2L34 -2L35 -3L36 0L37 0L38 3M0 3L1 -2L2 -5L3 -6L4 -5L5 0L6 2L7 12L8 17L9 20L10 9L11 -1L12 -10L13 -5L14 -7L15 -7L16 -7L17 -6L18 -4L19 -5L20 -7L21 -5L22 -5L23 0L24 -2L25 -3L26 -2L27 -1L28 -2L29 -2L30 2L31 7L32 5L33 4L34 6L35 10L36 13L37 5L38 2M0 -3L1 -5L2 2L3 3L4 4L5 1L6 0L7 6L8 10L9 14L10 9L11 -2L12 -11L13 -13L14 -8L15 -4L16 -7L17 -9L18 -6L19 -5L20 -2L21 -2L22 1L23 1L24 2L25 5L26 5L27 5L28 2L29 5L30 4L31 3L32 1L33 1L34 4L35 8L36 5L37 4L38 3M0 5L1 4L2 2L3 -2L4 -2L5 0L6 4L7 8L8 14L9 13L10 8L11 -4L12 -9L13 -8L14 -5L15 -5L16 -3L17 -4L18 -2L19 -8L20 -3L21 1L22 8L23 12L24 6L25 1L26 -1L27 7L28 13L29 12L30 10L31 6L32 2L33 2L34 3L35 8L36 3L37 2L38 -1M0 -7L1 -7L2 -3L3 2L4 2L5 -1L6 2L7 3L8 12L9 8L10 4L11 -10L12 -16L13 -17L14 -9L15 -6L16 -4L17 -5L18 -6L19 -3L20 -2L21 0L22 2L23 2L24 2L25 1L26 4L27 7L28 1L29 2L30 -3L31 2L32 3L33 3L34 2L35 0L36 2L37 6L38 3M0 -2L1 -5L2 -6L3 -6L4 -4L5 -3L6 -2L7 2L8 5L9 6L10 4L11 -2L12 -7L13 -13L14 -13L15 -13L16 -7L17 -2L18 0L19 -1L20 -3L21 1L22 3L23 4L24 -1L25 -4L26 -5L27 -2L28 -3L29 1L30 3L31 4L32 2L33 -6L34 0L35 -5L36 2L37 -1L38 9M0 -8L1 -2L2 -1L3 -1L4 -5L5 -6L6 -5L7 4L8 13L9 15L10 7L11 -7L12 -15L13 -17L14 -14L15 -10L16 -8L17 -6L18 -4L19 -4L20 0L21 2L22 7L23 7L24 8L25 7L26 3L27 3L28 5L29 7L30 8L31 7L32 7L33 3L34 3L35 4L36 3L37 2L38 -1M0 0L1 -1L2 0L3 0L4 3L5 6L6 6L7 10L8 16L9 17L10 10L11 0L12 -9L13 -11L14 -7L15 -10L16 -6L17 -7L18 -3L19 -5L20 -7L21 -2L22 4L23 7L24 6L25 3L26 10L27 7L28 9L29 0L30 1L31 -1L32 -2L33 -4L34 -5L35 -3L36 0L37 3L38 3M0 -3L1 -3L2 -3L3 -5L4 -8L5 -10L6 -8L7 -3L8 4L9 12L10 12L11 2L12 -8L13 -14L14 -9L15 -7L16 1L17 -2L18 -2L19 -7L20 -6L21 -3L22 1L23 4L24 5L25 3L26 4L27 4L28 6L29 4L30 2L31 2L32 0L33 2L34 5L35 6L36 5L37 0L38 -1M0 -2L1 -2L2 -4L3 -5L4 -5L5 -3L6 -1L7 5L8 16L9 17L10 8L11 -5L12 -10L13 -11L14 -6L15 -6L16 -4L17 -5L18 -1L19 0L20 -1L21 2L22 1L23 4L24 1L25 7L26 8L27 7L28 1L29 -2L30 -4L31 -4L32 -2L33 2L34 4L35 2L36 1L37 -2L38 0M0 3L1 2L2 1L3 6L4 6L5 -1L6 -3L7 5L8 13L9 12L10 1L11 -6L12 -9L13 -8L14 -9L15 -8L16 -4L17 0L18 0L19 0L20 -1L21 4L22 1L23 -1L24 -2L25 0L26 6L27 2L28 7L29 4L30 4L31 0L32 0L33 -3L34 -1L35 -2L36 -1L37 2L38 3M0 -1L1 -2L2 2L3 0L4 1L5 -1L6 2L7 3L8 12L9 17L10 14L11 1L12 -9L13 -12L14 -12L15 -8L16 -8L17 -3L18 -5L19 -3L20 2L21 8L22 8L23 3L24 -2L25 0L26 1L27 1L28 -1L29 -2L30 -2L31 -1L32 -1L33 -1L34 2L35 5L36 8L37 5L38 1M0 -4L1 -3L2 -6L3 -4L4 -4L5 -1L6 5L7 6L8 12L9 6L10 5L11 -7L12 -9L13 -16L14 -13L15 -16L16 -14L17 -9L18 -3L19 2L20 -1L21 -3L22 -1L23 2L24 1L25 0L26 -1L27 5L28 5L29 9L30 7L31 6L32 2L33 -6L34 -5L35 -3L36 2L37 4L38 -1M0 2L1 3L2 -1L3 2L4 3L5 5L6 7L7 7L8 12L9 13L10 9L11 -3L12 -10L13 -7L14 -4L15 -4L16 -6L17 -6L18 -1L19 2L20 6L21 5L22 3L23 3L24 1L25 0L26 -2L27 -1L28 -1L29 1L30 -1L31 -1L32 0L33 0L34 1L35 0L36 -2L37 -1L38 -5M0 -4L1 -7L2 -10L3 -9L4 -7L5 -5L6 -3L7 3L8 12L9 16L10 9L11 -3L12 -12L13 -13L14 -8L15 -4L16 1L17 -3L18 -5L19 -7L20 -3L21 -4L22 -3L23 0L24 -2L25 1L26 1L27 4L28 6L29 2L30 2L31 1L32 2L33 0L34 1L35 3L36 7L37 5L38 4M0 -4L1 -1L2 -1L3 3L4 4L5 5L6 7L7 9L8 11L9 13L10 10L11 4L12 -3L13 -6L14 -5L15 -6L16 0L17 1L18 0L19 -2L20 -3L21 -3L22 0L23 -2L24 0L25 -1L26 0L27 3L28 2L29 4L30 2L31 2L32 1L33 0L34 3L35 5L36 9L37 6L38 0M0 0L1 -4L2 0L3 -1L4 0L5 1L6 6L7 9L8 15L9 15L10 11L11 -4L12 -11L13 -15L14 -11L15 -8L16 -2L17 -2L18 -4L19 -8L20 -7L21 -1L22 0L23 1L24 -2L25 1L26 1L27 -3L28 -3L29 -1L30 2L31 0L32 -2L33 -2L34 -1L35 4L36 2L37 1L38 -2M0 2L1 3L2 0L3 0L4 0L5 2L6 3L7 7L8 14L9 18L10 14L11 -4L12 -7L13 -13L14 -8L15 -10L16 -4L17 -5L18 -7L19 -6L20 -1L21 -2L22 -3L23 -2L24 0L25 4L26 -2L27 -3L28 0L29 3L30 10L31 9L32 8L33 4L34 1L35 4L36 4L37 6L38 2M0 -1L1 1L2 2L3 4L4 5L5 2L6 3L7 6L8 13L9 13L10 5L11 -5L12 -11L13 -12L14 -9L15 -11L16 -9L17 -12L18 -7L19 -5L20 0L21 0L22 0L23 -2L24 2L25 3L26 5L27 0L28 0L29 -2L30 -1L31 0L32 0L33 4L34 5L35 6L36 4L37 0L38 0M0 -1L1 7L2 2L3 -4L4 -5L5 1L6 4L7 6L8 9L9 10L10 3L11 -6L12 -12L13 -12L14 -10L15 -6L16 -3L17 -4L18 -3L19 -5L20 -5L21 -3L22 -3L23 -5L24 -4L25 -4L26 0L27 -3L28 3L29 5L30 9L31 4L32 -1L33 -1L34 -2L35 0L36 -2L37 1L38 2M0 3L1 2L2 3L3 4L4 3L5 2L6 1L7 7L8 12L9 18L10 11L11 -1L12 -13L13 -16L14 -17L15 -15L16 -11L17 -6L18 -1L19 -2L20 1L21 -2L22 -3L23 -1L24 1L25 9L26 10L27 7L28 6L29 4L30 4L31 -2L32 -2L33 -2L34 -1L35 -3L36 -4L37 -3L38 -5M0 -5L1 -2L2 -1L3 0L4 -1L5 -3L6 -1L7 4L8 15L9 19L10 8L11 -2L12 -10L13 -9L14 -15L15 -17L16 -16L17 -11L18 -7L19 -7L20 -5L21 -4L22 -3L23 1L24 6L25 5L26 3L27 -1L28 3L29 6L30 5L31 1L32 -2L33 2L34 6L35 6L36 4L37 3L38 0M0 -3L1 0L2 3L3 2L4 1L5 -3L6 2L7 8L8 17L9 19L10 7L11 -5L12 -17L13 -17L14 -12L15 -8L16 -10L17 -10L18 -11L19 -8L20 -5L21 -2L22 0L23 -1L24 3L25 8L26 8L27 8L28 4L29 2L30 -4L31 -3L32 -3L33 0L34 -2L35 2L36 2L37 -1L38 0M0 3L1 0L2 3L3 0L4 1L5 1L6 -1L7 1L8 5L9 10L10 9L11 -1L12 -11L13 -15L14 -15L15 -10L16 -9L17 -2L18 0L19 1L20 3L21 4L22 5L23 3L24 2L25 2L26 0L27 2L28 2L29 3L30 4L31 3L32 2L33 -2L34 -3L35 0L36 0L37 2L38 -1M0 -4L1 -3L2 -2L3 2L4 7L5 7L6 13L7 11L8 17L9 16L10 11L11 1L12 -7L13 -10L14 -11L15 -14L16 -9L17 -5L18 -1L19 -2L20 0L21 0L22 2L23 0L24 3L25 1L26 3L27 2L28 0L29 -3L30 -2L31 -2L32 -4L33 -4L34 2L35 1L36 3L37 0L38 7M0 0L1 4L2 4L3 3L4 -4L5 -4L6 -1L7 7L8 15L9 12L10 4L11 -10L12 -9L13 -10L14 -10L15 -10L16 -8L17 -4L18 -2L19 2L20 3L21 2L22 -4L23 -5L24 -1L25 1L26 4L27 0L28 1L29 2L30 1L31 1L32 -4L33 -3L34 -2L35 -4L36 -5L37 -6L38 -2M0 1L1 -5L2 -8L3 -9L4 -5L5 0L6 2L7 11L8 14L9 16L10 14L11 7L12 -1L13 -12L14 -12L15 -13L16 -7L17 -6L18 -6L19 -7L20 -2L21 3L22 2L23 0L24 0L25 -1L26 -1L27 0L28 0L29 -2L30 -4L31 0L32 3L33 5L34 4L35 3L36 4L37 9L38 9M0 0L1 4L2 4L3 5L4 3L5 -2L6 2L7 6L8 16L9 15L10 12L11 -1L12 -7L13 -13L14 -5L15 -4L16 0L17 -5L18 -6L19 -8L20 -10L21 -12L22 -7L23 -2L24 5L25 1L26 -1L27 -3L28 -4L29 -2L30 1L31 9L32 11L33 9L34 5L35 0L36 -1L37 -4L38 -2M0 -3L1 0L2 1L3 2L4 2L5 0L6 4L7 9L8 17L9 17L10 10L11 -5L12 -9L13 -11L14 -9L15 -9L16 -10L17 -9L18 -8L19 -3L20 3L21 0L22 3L23 -4L24 -2L25 -4L26 0L27 -1L28 -1L29 -1L30 2L31 3L32 6L33 3L34 -2L35 -5L36 -4L37 2L38 2M0 0L1 -2L2 -5L3 -4L4 1L5 0L6 -1L7 0L8 9L9 15L10 9L11 -3L12 -10L13 -13L14 -12L15 -12L16 -5L17 -5L18 0L19 3L20 5L21 5L22 2L23 0L24 -2L25 -2L26 1L27 3L28 0L29 -3L30 0L31 1L32 5L33 4L34 5L35 3L36 2L37 -3L38 1M0 10L1 6L2 4L3 0L4 0L5 3L6 2L7 8L8 14L9 14L10 6L11 -4L12 -10L13 -11L14 -10L15 -4L16 -6L17 -4L18 -7L19 0L20 1L21 0L22 -2L23 1L24 3L25 4L26 -1L27 0L28 -1L29 2L30 6L31 10L32 8L33 5L34 0L35 1L36 -1L37 2L38 2M0 1L1 -1L2 0L3 -2L4 2L5 4L6 9L7 10L8 12L9 8L10 3L11 -7L12 -9L13 -15L14 -13L15 -12L16 -5L17 -6L18 -10L19 -8L20 -2L21 3L22 5L23 5L24 8L25 2L26 1L27 2L28 5L29 4L30 1L31 -1L32 6L33 3L34 6L35 -1L36 2L37 1L38 3M0 -1L1 -4L2 -8L3 -9L4 -5L5 -3L6 -2L7 -1L8 4L9 13L10 9L11 1L12 -11L13 -15L14 -14L15 -3L16 3L17 5L18 -5L19 -5L20 0L21 6L22 5L23 4L24 5L25 6L26 5L27 6L28 6L29 6L30 0L31 -3L32 -4L33 -2L34 -1L35 -7L36 -7L37 -10L38 -2M0 -7L1 -4L2 -1L3 1L4 3L5 3L6 6L7 10L8 17L9 17L10 12L11 1L12 -2L13 -3L14 4L15 3L16 0L17 -6L18 -8L19 -6L20 -3L21 2L22 -1L23 1L24 -1L25 8L26 9L27 6L28 1L29 0L30 1L31 1L32 5L33 6L34 7L35 -1L36 -3L37 1L38 2M0 -2L1 -5L2 -1L3 0L4 -1L5 -2L6 -2L7 6L8 10L9 8L10 4L11 -3L12 -6L13 -9L14 -9L15 -7L16 -10L17 -15L18 -14L19 -7L20 0L21 0L22 -3L23 -3L24 -6L25 -4L26 -2L27 6L28 5L29 5L30 1L31 3L32 3L33 5L34 3L35 5L36 6L37 6L38 1M0 -4L1 -5L2 -1L3 2L4 0L5 0L6 1L7 0L8 2L9 7L10 4L11 -3L12 -10L13 -8L14 -9L15 -7L16 -7L17 -6L18 -6L19 -8L20 -2L21 -1L22 5L23 4L24 1L25 2L26 6L27 7L28 0L29 -4L30 1L31 3L32 2L33 1L34 3L35 4L36 1L37 5L38 4M0 0L1 2L2 -2L3 -3L4 -2L5 1L6 2L7 5L8 10L9 12L10 8L11 -1L12 -9L13 -14L14 -15L15 -12L16 -11L17 -11L18 -11L19 -5L20 -4L21 0L22 -3L23 1L24 0L25 5L26 5L27 5L28 8L29 13L30 11L31 7L32 0L33 1L34 -1L35 3L36 0L37 2L38 -2M0 6L1 4L2 6L3 0L4 5L5 5L6 7L7 6L8 9L9 11L10 12L11 1L12 -6L13 -15L14 -11L15 -10L16 -7L17 -7L18 -10L19 -4L20 -2L21 7L22 6L23 6L24 5L25 5L26 5L27 5L28 1L29 3L30 7L31 9L32 6L33 3L34 4L35 8L36 11L37 8L38 5M0 0L1 5L2 5L3 3L4 2L5 2L6 4L7 8L8 13L9 11L10 3L11 -7L12 -10L13 -10L14 -6L15 -3L16 -4L17 -5L18 -5L19 1L20 1L21 2L22 -1L23 -2L24 -3L25 2L26 6L27 3L28 1L29 4L30 9L31 8L32 3L33 8L34 8L35 5L36 0L37 -1L38 7M0 -2L1 -1L2 -1L3 -1L4 -5L5 -4L6 2L7 13L8 21L9 22L10 15L11 2L12 -8L13 -10L14 -12L15 -16L16 -14L17 -9L18 1L19 4L20 4L21 -3L22 -4L23 1L24 5L25 1L26 -4L27 -2L28 -2L29 -1L30 -4L31 0L32 2L33 6L34 3L35 3L36 4L37 6L38 4M0 0L1 1L2 1L3 -4L4 -4L5 -5L6 -5L7 2L8 11L9 13L10 1L11 -11L12 -18L13 -18L14 -18L15 -12L16 -7L17 -4L18 0L19 -1L20 -1L21 -1L22 -1L23 3L24 -2L25 1L26 -1L27 5L28 5L29 5L30 4L31 3L32 3L33 2L34 -2L35 0L36 0L37 1L38 -1M0 2L1 5L2 3L3 -1L4 -8L5 -4L6 -1L7 7L8 15L9 14L10 10L11 -5L12 -8L13 -13L14 -11L15 -7L16 -7L17 -2L18 -3L19 0L20 -1L21 0L22 4L23 4L24 2L25 3L26 3L27 1L28 2L29 3L30 9L31 4L32 7L33 8L34 8L35 6L36 0L37 -2L38 -5M0 4L1 5L2 -2L3 -1L4 2L5 6L6 8L7 10L8 20L9 14L10 9L11 -9L12 -11L13 -14L14 -13L15 -12L16 -9L17 -4L18 -3L19 -3L20 -3L21 0L22 1L23 6L24 4L25 3L26 -1L27 -1L28 1L29 5L30 6L31 5L32 0L33 0L34 3L35 6L36 2L37 -2L38 -2M0 1L1 -2L2 -4L3 -4L4 -2L5 -6L6 -4L7 1L8 10L9 13L10 8L11 2L12 -7L13 -8L14 -9L15 -6L16 -7L17 -9L18 -7L19 -4L20 -1L21 -1L22 1L23 1L24 2L25 1L26 0L27 4L28 2L29 4L30 1L31 6L32 3L33 2L34 -2L35 0L36 0L37 5L38 -2M0 -4L1 -3L2 -7L3 -5L4 -6L5 -4L6 0L7 9L8 19L9 16L10 5L11 -9L12 -14L13 -14L14 -10L15 -9L16 -10L17 -11L18 -10L19 -5L20 -1L21 4L22 3L23 1L24 0L25 -1L26 1L27 1L28 2L29 0L30 -4L31 -4L32 0L33 1L34 0L35 -3L36 -3L37 -2L38 4M0 0L1 4L2 1L3 -2L4 0L5 -1L6 -1L7 -1L8 4L9 12L10 9L11 3L12 -9L13 -11L14 -12L15 -6L16 -2L17 4L18 4L19 7L20 3L21 3L22 3L23 1L24 1L25 1L26 4L27 5L28 -1L29 -2L30 -2L31 2L32 1L33 -2L34 0L35 3L36 8L37 5L38 0M0 5L1 3L2 1L3 -1L4 -1L5 -3L6 0L7 4L8 11L9 16L10 14L11 2L12 -1L13 -10L14 -5L15 -8L16 -4L17 -6L18 -4L19 3L20 3L21 8L22 2L23 2L24 -3L25 -2L26 1L27 2L28 4L29 0L30 0L31 0L32 3L33 4L34 6L35 3L36 -2L37 -5L38 -3M0 -1L1 -2L2 -1L3 0L4 0L5 -2L6 4L7 10L8 16L9 16L10 8L11 0L12 -8L13 -11L14 -12L15 -12L16 -11L17 -8L18 -5L19 0L20 1L21 0L22 -3L23 -2L24 6L25 11L26 12L27 8L28 4L29 1L30 1L31 0L32 2L33 2L34 -1L35 0L36 1L37 6L38 2M0 -1L1 -2L2 -2L3 2L4 1L5 5L6 8L7 13L8 12L9 9L10 4L11 -5L12 -9L13 -12L14 -7L15 -5L16 -3L17 0L18 0L19 -1L20 -4L21 -4L22 -2L23 -2L24 -3L25 -2L26 5L27 9L28 10L29 6L30 3L31 4L32 9L33 7L34 7L35 2L36 3L37 0L38 0M0 0L1 0L2 -5L3 -6L4 -7L5 -7L6 -3L7 4L8 20L9 20L10 14L11 -4L12 -12L13 -15L14 -17L15 -15L16 -8L17 -3L18 -3L19 -6L20 -4L21 -2L22 -6L23 -5L24 -6L25 0L26 0L27 1L28 1L29 0L30 2L31 3L32 2L33 2L34 -1L35 5L36 2L37 5L38 -1M0 7L1 7L2 -3L3 -8L4 -9L5 -6L6 0L7 4L8 11L9 15L10 8L11 -1L12 -11L13 -16L14 -16L15 -17L16 -12L17 -12L18 -5L19 -5L20 -1L21 -2L22 0L23 0L24 4L25 2L26 8L27 7L28 8L29 9L30 7L31 9L32 4L33 1L34 0L35 1L36 3L37 3L38 -1M0 1L1 0L2 3L3 0L4 0L5 -4L6 -1L7 4L8 13L9 14L10 7L11 -2L12 -6L13 -7L14 -6L15 -7L16 -3L17 -1L18 1L19 0L20 0L21 1L22 4L23 5L24 10L25 9L26 5L27 2L28 3L29 6L30 4L31 1L32 -1L33 -3L34 -2L35 1L36 1L37 -3L38 -7M0 -2L1 0L2 2L3 1L4 2L5 3L6 4L7 6L8 13L9 16L10 12L11 3L12 -4L13 -8L14 -4L15 -8L16 -7L17 -12L18 -8L19 -3L20 2L21 4L22 1L23 0L24 -2L25 2L26 1L27 4L28 3L29 4L30 6L31 4L32 6L33 2L34 2L35 2L36 3L37 2L38 3M0 2L1 4L2 1L3 4L4 -4L5 -2L6 -4L7 5L8 12L9 17L10 14L11 1L12 -9L13 -16L14 -16L15 -14L16 -11L17 -3L18 3L19 6L20 4L21 2L22 5L23 7L24 8L25 5L26 2L27 3L28 5L29 4L30 2L31 3L32 5L33 5L34 1L35 1L36 -2L37 -4L38 -1M0 -1L1 -4L2 0L3 0L4 2L5 1L6 4L7 7L8 15L9 18L10 13L11 2L12 -11L13 -12L14 -14L15 -10L16 -9L17 -3L18 0L19 0L20 -2L21 2L22 5L23 10L24 9L25 9L26 3L27 4L28 4L29 5L30 2L31 3L32 6L33 8L34 11L35 5L36 3L37 -2L38 -1M0 -1L1 -7L2 -5L3 -2L4 2L5 0L6 -1L7 6L8 14L9 20L10 17L11 -1L12 -11L13 -16L14 -15L15 -10L16 -8L17 3L18 0L19 2L20 1L21 4L22 2L23 0L24 -1L25 2L26 3L27 1L28 0L29 0L30 3L31 1L32 1L33 0L34 2L35 2L36 4L37 5L38 1" fill="none" stroke="#00ff00" stroke-width="0.9" stroke-opacity="1.0" stroke-linejoin="round"/></g>
<polyline clip-path="url(#c3)" points="646.1,987.5 659.8,987.5 673.5,987.8 687.2,987.8 700.9,987 714.6,986.2 728.3,991.2 742,1012.7 755.7,1043.4 769.4,1053.4 783.1,1026.1 796.8,978.6 810.5,944.6 824.2,935.6 837.9,940.4 851.6,947.4 865.3,953.5 879,959.6 892.7,967.5 906.4,975.8 920.1,982.8 933.8,988.4 947.5,992.6 961.2,995.4 974.9,996.8 988.6,997.3 1002.3,997.9 1016,998.4 1029.7,998.7 1043.4,998.4 1057.1,998.2 1070.8,997.9 1084.5,997.6 1098.2,997 1111.9,996.5 1125.6,995.9 1139.3,995.4 1153,994.8 1166.7,994.5" fill="none" stroke="#0000e6" stroke-width="1.7" stroke-linejoin="round"/>
<path d="M652.6 36.2h1.2M652.6 108.6h1.2M652.6 253.4h1.2M652.6 325.8h1.2M652.6 398.2h1.2M652.6 399.2h1.2M652.6 465.3h1.2M652.6 528.3h1.2M652.6 655.6h1.2M652.6 719h1.2M652.6 782.7h1.2M713.3 792.6v2.4M778.9 792.6v2.4M843.8 792.6v2.4M909 792.6v2.4M974.3 792.6v2.4M1039.2 792.6v2.4M1104.4 792.6v2.4" stroke="#555" stroke-width="1" fill="none"/>
<path d="M197.5 1217v1M295.3 1217v1M393 1217v1M490 1217v1" stroke="#d8d8d8" stroke-width="0.8" fill="none"/>
<path d="M1292.5 276.5V736.6M1273.5 736.6H1754" stroke="#000" stroke-width="4.2" fill="none" stroke-linecap="butt"/>
<path d="M1273.5 622.1H1292.5M1273.5 507.6H1292.5M1273.5 393.1H1292.5M1273.5 278.6H1292.5" stroke="#000" stroke-width="4.2" fill="none"/>
<path d="M1330.7 736.6V541.8H1395.1V736.6" fill="#0000ff" stroke="#000" stroke-width="6.2" stroke-linejoin="miter"/>
<path d="M1362.9 524.8V553.4M1345.2 524.8H1380.6M1345.2 553.4H1380.6" stroke="#000" stroke-width="2" fill="none"/>
<path d="M1362.5 736.6V756.8" stroke="#000" stroke-width="4.2" fill="none"/>
<path d="M1437 736.6V500H1501.4V736.6" fill="#ff0000" stroke="#000" stroke-width="6.2" stroke-linejoin="miter"/>
<path d="M1469.2 446.9V546M1451.5 446.9H1486.9M1451.5 546H1486.9" stroke="#000" stroke-width="2" fill="none"/>
<path d="M1468.8 736.6V756.8" stroke="#000" stroke-width="4.2" fill="none"/>
<path d="M1542.3 736.6V678.1H1606.7V736.6" fill="#808080" stroke="#000" stroke-width="6.2" stroke-linejoin="miter"/>
<path d="M1574.5 661.6V688.5M1556.8 661.6H1592.2M1556.8 688.5H1592.2" stroke="#000" stroke-width="2" fill="none"/>
<path d="M1574.1 736.6V756.8" stroke="#000" stroke-width="4.2" fill="none"/>
<path d="M1648.4 736.6V423.3H1712.8V736.6" fill="#00ff00" stroke="#000" stroke-width="6.2" stroke-linejoin="miter"/>
<path d="M1680.6 385.7V452.6M1662.9 385.7H1698.3M1662.9 452.6H1698.3" stroke="#000" stroke-width="2" fill="none"/>
<path d="M1680.2 736.6V756.8" stroke="#000" stroke-width="4.2" fill="none"/>
<path d="M1273.5 736.6H1754" stroke="#000" stroke-width="4.4" fill="none"/>
<text class="b" x="1261" y="746.2" text-anchor="end">0</text>
<text class="b" x="1261" y="631.7" text-anchor="end">2</text>
<text class="b" x="1261" y="517.2" text-anchor="end">4</text>
<text class="b" x="1261" y="402.7" text-anchor="end">6</text>
<text class="b" x="1261" y="288.2" text-anchor="end">8</text>
<text class="b" transform="translate(1225 586) rotate(-90) scale(1 1.07)">Spike rate s<tspan dy="-12" style="font-size:17px">−1</tspan></text>
<path d="M1363.1 206.5V135.7H1680.6V358.5M1363.1 304.6V234H1574.6V634.6M1363.1 497.6V332.2H1469V419.5" stroke="#000" stroke-width="4.2" fill="none" stroke-linejoin="miter"/>
<text class="ast" x="1524.4" y="127.2" text-anchor="middle" style="font-size:43px;letter-spacing:4.8px" stroke="#000" stroke-width="0.7" stroke-linejoin="round">**</text>
<text class="ast" x="1472.1" y="225.2" text-anchor="middle" style="font-size:43px;letter-spacing:4.8px" stroke="#000" stroke-width="0.7" stroke-linejoin="round">****</text>
<text x="1415.2" y="309" text-anchor="middle">ns</text>
<rect x="1289.5" y="828.6" width="57" height="23.7" fill="#0000ff" stroke="#000" stroke-width="9"/>
<text x="1377" y="850.4">Baseline</text>
<rect x="1289.5" y="912.2" width="57" height="23.7" fill="#ff0000" stroke="#000" stroke-width="9"/>
<text x="1377" y="931.3">PEDOT/SNP</text>
<rect x="1289.5" y="995.5" width="57" height="23.7" fill="#808080" stroke="#000" stroke-width="9"/>
<text x="1377" y="1016">PEDOT/SNP/GABA</text>
<rect x="1289.5" y="1079.5" width="57" height="23.7" fill="#00ff00" stroke="#000" stroke-width="9"/>
<text x="1377" y="1100.3">PEDOT/SNP/Glu</text>
</svg>
</body></html>
